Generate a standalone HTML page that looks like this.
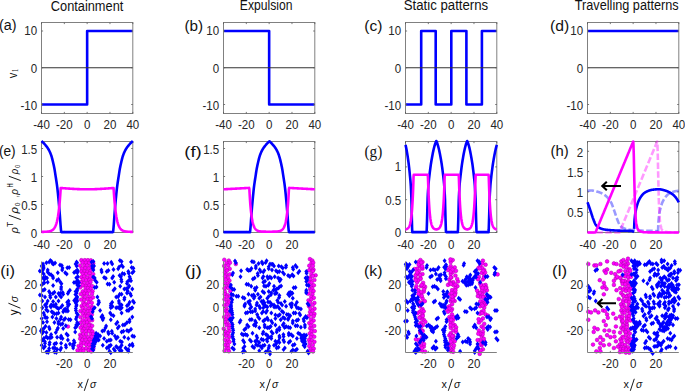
<!DOCTYPE html>
<html><head><meta charset="utf-8"><style>
html,body{margin:0;padding:0;background:#fff;overflow:hidden;}
svg{display:block;}
</style></head><body>
<svg width="685" height="391" viewBox="0 0 685 391" font-family="Liberation Sans, sans-serif">
<rect width="685" height="391" fill="#fff"/>
<path d="M41.5 104.5 L87.15 104.5 L87.15 31 L132.8 31" fill="none" stroke="#0000ff" stroke-width="2.6" stroke-linejoin="round" />
<path d="M41.5 67.75 H132.8" stroke="#333" stroke-width="1.1"/>
<rect x="41.5" y="22.5" width="91.3" height="91" fill="none" stroke="#808080" stroke-width="1"/>
<path d="M41.5 113.5 v-1.6 M41.5 22.5 v1.6 M64.33 113.5 v-1.6 M64.33 22.5 v1.6 M87.15 113.5 v-1.6 M87.15 22.5 v1.6 M109.97 113.5 v-1.6 M109.97 22.5 v1.6 M132.8 113.5 v-1.6 M132.8 22.5 v1.6 M41.5 104.5 h1.6 M132.8 104.5 h-1.6 M41.5 67.75 h1.6 M132.8 67.75 h-1.6 M41.5 31 h1.6 M132.8 31 h-1.6 " stroke="#555" stroke-width="0.8" fill="none"/>
<text transform="translate(41.5 129.3) scale(0.94 1)" font-size="12.3" text-anchor="middle" fill="#262626">-40</text>
<text transform="translate(64.33 129.3) scale(0.94 1)" font-size="12.3" text-anchor="middle" fill="#262626">-20</text>
<text transform="translate(87.15 129.3) scale(0.94 1)" font-size="12.3" text-anchor="middle" fill="#262626">0</text>
<text transform="translate(109.97 129.3) scale(0.94 1)" font-size="12.3" text-anchor="middle" fill="#262626">20</text>
<text transform="translate(132.8 129.3) scale(0.94 1)" font-size="12.3" text-anchor="middle" fill="#262626">40</text>
<text transform="translate(37.2 109.87) scale(0.94 1)" font-size="12.3" text-anchor="end" fill="#262626">-10</text>
<text transform="translate(37.2 72.97) scale(0.94 1)" font-size="12.3" text-anchor="end" fill="#262626">0</text>
<text transform="translate(37.2 34.57) scale(0.94 1)" font-size="12.3" text-anchor="end" fill="#262626">10</text>
<path d="M223.5 31 L269.15 31 L269.15 104.5 L314.8 104.5" fill="none" stroke="#0000ff" stroke-width="2.6" stroke-linejoin="round" />
<path d="M223.5 67.75 H314.8" stroke="#333" stroke-width="1.1"/>
<rect x="223.5" y="22.5" width="91.3" height="91" fill="none" stroke="#808080" stroke-width="1"/>
<path d="M223.5 113.5 v-1.6 M223.5 22.5 v1.6 M246.32 113.5 v-1.6 M246.32 22.5 v1.6 M269.15 113.5 v-1.6 M269.15 22.5 v1.6 M291.98 113.5 v-1.6 M291.98 22.5 v1.6 M314.8 113.5 v-1.6 M314.8 22.5 v1.6 M223.5 104.5 h1.6 M314.8 104.5 h-1.6 M223.5 67.75 h1.6 M314.8 67.75 h-1.6 M223.5 31 h1.6 M314.8 31 h-1.6 " stroke="#555" stroke-width="0.8" fill="none"/>
<text transform="translate(223.5 129.3) scale(0.94 1)" font-size="12.3" text-anchor="middle" fill="#262626">-40</text>
<text transform="translate(246.32 129.3) scale(0.94 1)" font-size="12.3" text-anchor="middle" fill="#262626">-20</text>
<text transform="translate(269.15 129.3) scale(0.94 1)" font-size="12.3" text-anchor="middle" fill="#262626">0</text>
<text transform="translate(291.98 129.3) scale(0.94 1)" font-size="12.3" text-anchor="middle" fill="#262626">20</text>
<text transform="translate(314.8 129.3) scale(0.94 1)" font-size="12.3" text-anchor="middle" fill="#262626">40</text>
<text transform="translate(219.2 109.87) scale(0.94 1)" font-size="12.3" text-anchor="end" fill="#262626">-10</text>
<text transform="translate(219.2 72.97) scale(0.94 1)" font-size="12.3" text-anchor="end" fill="#262626">0</text>
<text transform="translate(219.2 34.57) scale(0.94 1)" font-size="12.3" text-anchor="end" fill="#262626">10</text>
<path d="M405.5 104.5 L421.2 104.5 L421.2 31 L435.7 31 L435.7 104.5 L451.3 104.5 L451.3 31 L466.4 31 L466.4 104.5 L481.9 104.5 L481.9 31 L496.8 31" fill="none" stroke="#0000ff" stroke-width="2.6" stroke-linejoin="round" />
<path d="M405.5 67.75 H496.8" stroke="#333" stroke-width="1.1"/>
<rect x="405.5" y="22.5" width="91.3" height="91" fill="none" stroke="#808080" stroke-width="1"/>
<path d="M405.5 113.5 v-1.6 M405.5 22.5 v1.6 M428.32 113.5 v-1.6 M428.32 22.5 v1.6 M451.15 113.5 v-1.6 M451.15 22.5 v1.6 M473.98 113.5 v-1.6 M473.98 22.5 v1.6 M496.8 113.5 v-1.6 M496.8 22.5 v1.6 M405.5 104.5 h1.6 M496.8 104.5 h-1.6 M405.5 67.75 h1.6 M496.8 67.75 h-1.6 M405.5 31 h1.6 M496.8 31 h-1.6 " stroke="#555" stroke-width="0.8" fill="none"/>
<text transform="translate(405.5 129.3) scale(0.94 1)" font-size="12.3" text-anchor="middle" fill="#262626">-40</text>
<text transform="translate(428.32 129.3) scale(0.94 1)" font-size="12.3" text-anchor="middle" fill="#262626">-20</text>
<text transform="translate(451.15 129.3) scale(0.94 1)" font-size="12.3" text-anchor="middle" fill="#262626">0</text>
<text transform="translate(473.98 129.3) scale(0.94 1)" font-size="12.3" text-anchor="middle" fill="#262626">20</text>
<text transform="translate(496.8 129.3) scale(0.94 1)" font-size="12.3" text-anchor="middle" fill="#262626">40</text>
<text transform="translate(401.2 109.87) scale(0.94 1)" font-size="12.3" text-anchor="end" fill="#262626">-10</text>
<text transform="translate(401.2 72.97) scale(0.94 1)" font-size="12.3" text-anchor="end" fill="#262626">0</text>
<text transform="translate(401.2 34.57) scale(0.94 1)" font-size="12.3" text-anchor="end" fill="#262626">10</text>
<path d="M587.5 31 L678.8 31" fill="none" stroke="#0000ff" stroke-width="2.6" stroke-linejoin="round" />
<path d="M587.5 67.75 H678.8" stroke="#333" stroke-width="1.1"/>
<rect x="587.5" y="22.5" width="91.3" height="91" fill="none" stroke="#808080" stroke-width="1"/>
<path d="M587.5 113.5 v-1.6 M587.5 22.5 v1.6 M610.33 113.5 v-1.6 M610.33 22.5 v1.6 M633.15 113.5 v-1.6 M633.15 22.5 v1.6 M655.98 113.5 v-1.6 M655.98 22.5 v1.6 M678.8 113.5 v-1.6 M678.8 22.5 v1.6 M587.5 104.5 h1.6 M678.8 104.5 h-1.6 M587.5 67.75 h1.6 M678.8 67.75 h-1.6 M587.5 31 h1.6 M678.8 31 h-1.6 " stroke="#555" stroke-width="0.8" fill="none"/>
<text transform="translate(587.5 129.3) scale(0.94 1)" font-size="12.3" text-anchor="middle" fill="#262626">-40</text>
<text transform="translate(610.33 129.3) scale(0.94 1)" font-size="12.3" text-anchor="middle" fill="#262626">-20</text>
<text transform="translate(633.15 129.3) scale(0.94 1)" font-size="12.3" text-anchor="middle" fill="#262626">0</text>
<text transform="translate(655.98 129.3) scale(0.94 1)" font-size="12.3" text-anchor="middle" fill="#262626">20</text>
<text transform="translate(678.8 129.3) scale(0.94 1)" font-size="12.3" text-anchor="middle" fill="#262626">40</text>
<text transform="translate(583.2 109.87) scale(0.94 1)" font-size="12.3" text-anchor="end" fill="#262626">-10</text>
<text transform="translate(583.2 72.97) scale(0.94 1)" font-size="12.3" text-anchor="end" fill="#262626">0</text>
<text transform="translate(583.2 34.57) scale(0.94 1)" font-size="12.3" text-anchor="end" fill="#262626">10</text>
<rect x="41.5" y="141.5" width="91.3" height="91" fill="none" stroke="#808080" stroke-width="1"/>
<path d="M41.5 232.5 v-1.6 M41.5 141.5 v1.6 M64.33 232.5 v-1.6 M64.33 141.5 v1.6 M87.15 232.5 v-1.6 M87.15 141.5 v1.6 M109.97 232.5 v-1.6 M109.97 141.5 v1.6 M132.8 232.5 v-1.6 M132.8 141.5 v1.6 M41.5 232.5 h1.6 M132.8 232.5 h-1.6 M41.5 204.5 h1.6 M132.8 204.5 h-1.6 M41.5 176.5 h1.6 M132.8 176.5 h-1.6 M41.5 148.5 h1.6 M132.8 148.5 h-1.6 " stroke="#555" stroke-width="0.8" fill="none"/>
<text transform="translate(41.5 249) scale(0.94 1)" font-size="12.3" text-anchor="middle" fill="#262626">-40</text>
<text transform="translate(64.33 249) scale(0.94 1)" font-size="12.3" text-anchor="middle" fill="#262626">-20</text>
<text transform="translate(87.15 249) scale(0.94 1)" font-size="12.3" text-anchor="middle" fill="#262626">0</text>
<text transform="translate(109.97 249) scale(0.94 1)" font-size="12.3" text-anchor="middle" fill="#262626">20</text>
<text transform="translate(37.2 237.97) scale(0.94 1)" font-size="12.3" text-anchor="end" fill="#262626">0</text>
<text transform="translate(37.2 209.67) scale(0.94 1)" font-size="12.3" text-anchor="end" fill="#262626">0.5</text>
<text transform="translate(37.2 181.67) scale(0.94 1)" font-size="12.3" text-anchor="end" fill="#262626">1</text>
<text transform="translate(37.2 153.67) scale(0.94 1)" font-size="12.3" text-anchor="end" fill="#262626">1.5</text>
<path d="M41.5 141.1 L41.73 141.29 L41.96 141.48 L42.19 141.68 L42.42 141.89 L42.64 142.1 L42.87 142.32 L43.1 142.54 L43.33 142.77 L43.56 143 L43.79 143.24 L44.02 143.48 L44.25 143.73 L44.47 143.98 L44.7 144.24 L44.93 144.5 L45.16 144.76 L45.39 145.03 L45.62 145.3 L45.85 145.57 L46.08 145.85 L46.31 146.13 L46.53 146.43 L46.76 146.73 L46.99 147.03 L47.22 147.35 L47.45 147.68 L47.68 148.02 L47.91 148.37 L48.14 148.73 L48.36 149.11 L48.59 149.5 L48.82 149.9 L49.05 150.33 L49.28 150.77 L49.51 151.23 L49.74 151.72 L49.97 152.22 L50.2 152.75 L50.42 153.29 L50.65 153.87 L50.88 154.46 L51.11 155.09 L51.34 155.75 L51.57 156.47 L51.8 157.25 L52.03 158.08 L52.25 158.94 L52.48 159.85 L52.71 160.77 L52.94 161.72 L53.17 162.68 L53.4 163.67 L53.63 164.71 L53.86 165.78 L54.09 166.91 L54.31 168.08 L54.54 169.32 L54.77 170.65 L55 172.09 L55.23 173.59 L55.46 175.1 L55.69 176.59 L55.92 178.05 L56.14 179.5 L56.37 180.98 L56.6 182.5 L56.83 184.1 L57.06 185.8 L57.29 187.64 L57.52 189.63 L57.75 191.76 L57.98 193.99 L58.2 196.31 L58.43 198.7 L58.66 201.12 L58.89 203.63 L59.12 206.24 L59.35 208.94 L59.58 211.74 L59.81 214.62 L60.03 217.72 L60.26 221.05 L60.49 224.25 L60.72 227.05 L60.95 229.59 L61.18 231.9 L61.41 232.1 L61.64 232.1 L61.87 232.1 L62.09 232.1 L62.32 232.1 L62.55 232.1 L62.78 232.1 L63.01 232.1 L63.24 232.1 L63.47 232.1 L63.7 232.1 L63.92 232.1 L64.15 232.1 L64.38 232.1 L64.61 232.1 L64.84 232.1 L65.07 232.1 L65.3 232.1 L65.53 232.1 L65.76 232.1 L65.98 232.1 L66.21 232.1 L66.44 232.1 L66.67 232.1 L66.9 232.1 L67.13 232.1 L67.36 232.1 L67.59 232.1 L67.81 232.1 L68.04 232.1 L68.27 232.1 L68.5 232.1 L68.73 232.1 L68.96 232.1 L69.19 232.1 L69.42 232.1 L69.65 232.1 L69.87 232.1 L70.1 232.1 L70.33 232.1 L70.56 232.1 L70.79 232.1 L71.02 232.1 L71.25 232.1 L71.48 232.1 L71.7 232.1 L71.93 232.1 L72.16 232.1 L72.39 232.1 L72.62 232.1 L72.85 232.1 L73.08 232.1 L73.31 232.1 L73.54 232.1 L73.76 232.1 L73.99 232.1 L74.22 232.1 L74.45 232.1 L74.68 232.1 L74.91 232.1 L75.14 232.1 L75.37 232.1 L75.59 232.1 L75.82 232.1 L76.05 232.1 L76.28 232.1 L76.51 232.1 L76.74 232.1 L76.97 232.1 L77.2 232.1 L77.43 232.1 L77.65 232.1 L77.88 232.1 L78.11 232.1 L78.34 232.1 L78.57 232.1 L78.8 232.1 L79.03 232.1 L79.26 232.1 L79.48 232.1 L79.71 232.1 L79.94 232.1 L80.17 232.1 L80.4 232.1 L80.63 232.1 L80.86 232.1 L81.09 232.1 L81.32 232.1 L81.54 232.1 L81.77 232.1 L82 232.1 L82.23 232.1 L82.46 232.1 L82.69 232.1 L82.92 232.1 L83.15 232.1 L83.37 232.1 L83.6 232.1 L83.83 232.1 L84.06 232.1 L84.29 232.1 L84.52 232.1 L84.75 232.1 L84.98 232.1 L85.21 232.1 L85.43 232.1 L85.66 232.1 L85.89 232.1 L86.12 232.1 L86.35 232.1 L86.58 232.1 L86.81 232.1 L87.04 232.1 L87.26 232.1 L87.49 232.1 L87.72 232.1 L87.95 232.1 L88.18 232.1 L88.41 232.1 L88.64 232.1 L88.87 232.1 L89.09 232.1 L89.32 232.1 L89.55 232.1 L89.78 232.1 L90.01 232.1 L90.24 232.1 L90.47 232.1 L90.7 232.1 L90.93 232.1 L91.15 232.1 L91.38 232.1 L91.61 232.1 L91.84 232.1 L92.07 232.1 L92.3 232.1 L92.53 232.1 L92.76 232.1 L92.98 232.1 L93.21 232.1 L93.44 232.1 L93.67 232.1 L93.9 232.1 L94.13 232.1 L94.36 232.1 L94.59 232.1 L94.82 232.1 L95.04 232.1 L95.27 232.1 L95.5 232.1 L95.73 232.1 L95.96 232.1 L96.19 232.1 L96.42 232.1 L96.65 232.1 L96.87 232.1 L97.1 232.1 L97.33 232.1 L97.56 232.1 L97.79 232.1 L98.02 232.1 L98.25 232.1 L98.48 232.1 L98.71 232.1 L98.93 232.1 L99.16 232.1 L99.39 232.1 L99.62 232.1 L99.85 232.1 L100.08 232.1 L100.31 232.1 L100.54 232.1 L100.76 232.1 L100.99 232.1 L101.22 232.1 L101.45 232.1 L101.68 232.1 L101.91 232.1 L102.14 232.1 L102.37 232.1 L102.6 232.1 L102.82 232.1 L103.05 232.1 L103.28 232.1 L103.51 232.1 L103.74 232.1 L103.97 232.1 L104.2 232.1 L104.43 232.1 L104.65 232.1 L104.88 232.1 L105.11 232.1 L105.34 232.1 L105.57 232.1 L105.8 232.1 L106.03 232.1 L106.26 232.1 L106.49 232.1 L106.71 232.1 L106.94 232.1 L107.17 232.1 L107.4 232.1 L107.63 232.1 L107.86 232.1 L108.09 232.1 L108.32 232.1 L108.54 232.1 L108.77 232.1 L109 232.1 L109.23 232.1 L109.46 232.1 L109.69 232.1 L109.92 232.1 L110.15 232.1 L110.38 232.1 L110.6 232.1 L110.83 232.1 L111.06 232.1 L111.29 232.1 L111.52 232.1 L111.75 232.1 L111.98 232.1 L112.21 232.1 L112.43 232.1 L112.66 232.1 L112.89 232.1 L113.12 231.9 L113.35 229.59 L113.58 227.05 L113.81 224.25 L114.04 221.05 L114.27 217.72 L114.49 214.62 L114.72 211.74 L114.95 208.94 L115.18 206.24 L115.41 203.63 L115.64 201.12 L115.87 198.7 L116.1 196.31 L116.32 193.99 L116.55 191.76 L116.78 189.63 L117.01 187.64 L117.24 185.8 L117.47 184.1 L117.7 182.5 L117.93 180.98 L118.16 179.5 L118.38 178.05 L118.61 176.59 L118.84 175.1 L119.07 173.59 L119.3 172.09 L119.53 170.65 L119.76 169.32 L119.99 168.08 L120.21 166.91 L120.44 165.78 L120.67 164.71 L120.9 163.67 L121.13 162.68 L121.36 161.72 L121.59 160.77 L121.82 159.85 L122.05 158.94 L122.27 158.08 L122.5 157.25 L122.73 156.47 L122.96 155.75 L123.19 155.09 L123.42 154.46 L123.65 153.87 L123.88 153.29 L124.1 152.75 L124.33 152.22 L124.56 151.72 L124.79 151.23 L125.02 150.77 L125.25 150.33 L125.48 149.9 L125.71 149.5 L125.94 149.11 L126.16 148.73 L126.39 148.37 L126.62 148.02 L126.85 147.68 L127.08 147.35 L127.31 147.03 L127.54 146.73 L127.77 146.43 L127.99 146.13 L128.22 145.85 L128.45 145.57 L128.68 145.3 L128.91 145.03 L129.14 144.76 L129.37 144.5 L129.6 144.24 L129.83 143.98 L130.05 143.73 L130.28 143.48 L130.51 143.24 L130.74 143 L130.97 142.77 L131.2 142.54 L131.43 142.32 L131.66 142.1 L131.88 141.89 L132.11 141.68 L132.34 141.48 L132.57 141.29 L132.8 141.1" fill="none" stroke="#0000ff" stroke-width="2.6" stroke-linejoin="round" />
<path d="M41.5 231.87 L41.73 231.87 L41.96 231.87 L42.19 231.86 L42.42 231.86 L42.64 231.86 L42.87 231.85 L43.1 231.85 L43.33 231.84 L43.56 231.84 L43.79 231.83 L44.02 231.83 L44.25 231.82 L44.47 231.81 L44.7 231.81 L44.93 231.8 L45.16 231.79 L45.39 231.78 L45.62 231.77 L45.85 231.75 L46.08 231.74 L46.31 231.73 L46.53 231.71 L46.76 231.69 L46.99 231.67 L47.22 231.65 L47.45 231.63 L47.68 231.61 L47.91 231.58 L48.14 231.55 L48.36 231.52 L48.59 231.48 L48.82 231.44 L49.05 231.4 L49.28 231.36 L49.51 231.31 L49.74 231.25 L49.97 231.19 L50.2 231.13 L50.42 231.06 L50.65 230.98 L50.88 230.89 L51.11 230.8 L51.34 230.7 L51.57 230.59 L51.8 230.47 L52.03 230.34 L52.25 230.19 L52.48 230.04 L52.71 229.87 L52.94 229.68 L53.17 229.48 L53.4 229.25 L53.63 229.01 L53.86 228.74 L54.09 228.45 L54.31 228.13 L54.54 227.79 L54.77 227.41 L55 227 L55.23 226.55 L55.46 226.05 L55.69 225.52 L55.92 224.93 L56.14 224.29 L56.37 223.59 L56.6 222.82 L56.83 221.99 L57.06 221.07 L57.29 220.08 L57.52 218.99 L57.75 217.8 L57.98 216.51 L58.2 215.09 L58.43 213.54 L58.66 211.86 L58.89 210.01 L59.12 208 L59.35 205.8 L59.58 203.4 L59.81 200.78 L60.03 197.91 L60.26 194.79 L60.49 191.37 L60.72 188 L60.95 188.02 L61.18 188.04 L61.41 188.05 L61.64 188.07 L61.87 188.09 L62.09 188.11 L62.32 188.13 L62.55 188.14 L62.78 188.16 L63.01 188.18 L63.24 188.2 L63.47 188.21 L63.7 188.23 L63.92 188.25 L64.15 188.26 L64.38 188.28 L64.61 188.3 L64.84 188.32 L65.07 188.33 L65.3 188.35 L65.53 188.37 L65.76 188.38 L65.98 188.4 L66.21 188.42 L66.44 188.43 L66.67 188.45 L66.9 188.47 L67.13 188.48 L67.36 188.5 L67.59 188.52 L67.81 188.53 L68.04 188.55 L68.27 188.57 L68.5 188.58 L68.73 188.6 L68.96 188.61 L69.19 188.63 L69.42 188.64 L69.65 188.66 L69.87 188.67 L70.1 188.69 L70.33 188.7 L70.56 188.72 L70.79 188.73 L71.02 188.75 L71.25 188.76 L71.48 188.78 L71.7 188.79 L71.93 188.8 L72.16 188.82 L72.39 188.83 L72.62 188.85 L72.85 188.86 L73.08 188.87 L73.31 188.88 L73.54 188.9 L73.76 188.91 L73.99 188.92 L74.22 188.94 L74.45 188.95 L74.68 188.96 L74.91 188.97 L75.14 188.98 L75.37 188.99 L75.59 189.01 L75.82 189.02 L76.05 189.03 L76.28 189.04 L76.51 189.05 L76.74 189.06 L76.97 189.07 L77.2 189.08 L77.43 189.09 L77.65 189.1 L77.88 189.11 L78.11 189.12 L78.34 189.13 L78.57 189.13 L78.8 189.14 L79.03 189.15 L79.26 189.16 L79.48 189.17 L79.71 189.18 L79.94 189.18 L80.17 189.19 L80.4 189.2 L80.63 189.2 L80.86 189.21 L81.09 189.22 L81.32 189.22 L81.54 189.23 L81.77 189.23 L82 189.24 L82.23 189.24 L82.46 189.25 L82.69 189.25 L82.92 189.26 L83.15 189.26 L83.37 189.27 L83.6 189.27 L83.83 189.27 L84.06 189.28 L84.29 189.28 L84.52 189.28 L84.75 189.29 L84.98 189.29 L85.21 189.29 L85.43 189.29 L85.66 189.29 L85.89 189.3 L86.12 189.3 L86.35 189.3 L86.58 189.3 L86.81 189.3 L87.04 189.3 L87.26 189.3 L87.49 189.3 L87.72 189.3 L87.95 189.3 L88.18 189.3 L88.41 189.3 L88.64 189.29 L88.87 189.29 L89.09 189.29 L89.32 189.29 L89.55 189.29 L89.78 189.28 L90.01 189.28 L90.24 189.28 L90.47 189.27 L90.7 189.27 L90.93 189.27 L91.15 189.26 L91.38 189.26 L91.61 189.25 L91.84 189.25 L92.07 189.24 L92.3 189.24 L92.53 189.23 L92.76 189.23 L92.98 189.22 L93.21 189.22 L93.44 189.21 L93.67 189.2 L93.9 189.2 L94.13 189.19 L94.36 189.18 L94.59 189.18 L94.82 189.17 L95.04 189.16 L95.27 189.15 L95.5 189.14 L95.73 189.13 L95.96 189.13 L96.19 189.12 L96.42 189.11 L96.65 189.1 L96.87 189.09 L97.1 189.08 L97.33 189.07 L97.56 189.06 L97.79 189.05 L98.02 189.04 L98.25 189.03 L98.48 189.02 L98.71 189.01 L98.93 188.99 L99.16 188.98 L99.39 188.97 L99.62 188.96 L99.85 188.95 L100.08 188.94 L100.31 188.92 L100.54 188.91 L100.76 188.9 L100.99 188.88 L101.22 188.87 L101.45 188.86 L101.68 188.85 L101.91 188.83 L102.14 188.82 L102.37 188.8 L102.6 188.79 L102.82 188.78 L103.05 188.76 L103.28 188.75 L103.51 188.73 L103.74 188.72 L103.97 188.7 L104.2 188.69 L104.43 188.67 L104.65 188.66 L104.88 188.64 L105.11 188.63 L105.34 188.61 L105.57 188.6 L105.8 188.58 L106.03 188.57 L106.26 188.55 L106.49 188.53 L106.71 188.52 L106.94 188.5 L107.17 188.48 L107.4 188.47 L107.63 188.45 L107.86 188.43 L108.09 188.42 L108.32 188.4 L108.54 188.38 L108.77 188.37 L109 188.35 L109.23 188.33 L109.46 188.32 L109.69 188.3 L109.92 188.28 L110.15 188.26 L110.38 188.25 L110.6 188.23 L110.83 188.21 L111.06 188.2 L111.29 188.18 L111.52 188.16 L111.75 188.14 L111.98 188.13 L112.21 188.11 L112.43 188.09 L112.66 188.07 L112.89 188.05 L113.12 188.04 L113.35 188.02 L113.58 188 L113.81 191.37 L114.04 194.79 L114.27 197.91 L114.49 200.78 L114.72 203.4 L114.95 205.8 L115.18 208 L115.41 210.01 L115.64 211.86 L115.87 213.54 L116.1 215.09 L116.32 216.51 L116.55 217.8 L116.78 218.99 L117.01 220.08 L117.24 221.07 L117.47 221.99 L117.7 222.82 L117.93 223.59 L118.16 224.29 L118.38 224.93 L118.61 225.52 L118.84 226.05 L119.07 226.55 L119.3 227 L119.53 227.41 L119.76 227.79 L119.99 228.13 L120.21 228.45 L120.44 228.74 L120.67 229.01 L120.9 229.25 L121.13 229.48 L121.36 229.68 L121.59 229.87 L121.82 230.04 L122.05 230.19 L122.27 230.34 L122.5 230.47 L122.73 230.59 L122.96 230.7 L123.19 230.8 L123.42 230.89 L123.65 230.98 L123.88 231.06 L124.1 231.13 L124.33 231.19 L124.56 231.25 L124.79 231.31 L125.02 231.36 L125.25 231.4 L125.48 231.44 L125.71 231.48 L125.94 231.52 L126.16 231.55 L126.39 231.58 L126.62 231.61 L126.85 231.63 L127.08 231.65 L127.31 231.67 L127.54 231.69 L127.77 231.71 L127.99 231.73 L128.22 231.74 L128.45 231.75 L128.68 231.77 L128.91 231.78 L129.14 231.79 L129.37 231.8 L129.6 231.81 L129.83 231.81 L130.05 231.82 L130.28 231.83 L130.51 231.83 L130.74 231.84 L130.97 231.84 L131.2 231.85 L131.43 231.85 L131.66 231.86 L131.88 231.86 L132.11 231.86 L132.34 231.87 L132.57 231.87 L132.8 231.87" fill="none" stroke="#ff00ff" stroke-width="2.6" stroke-linejoin="round" />
<rect x="223.5" y="141.5" width="91.3" height="91" fill="none" stroke="#808080" stroke-width="1"/>
<path d="M223.5 232.5 v-1.6 M223.5 141.5 v1.6 M246.32 232.5 v-1.6 M246.32 141.5 v1.6 M269.15 232.5 v-1.6 M269.15 141.5 v1.6 M291.98 232.5 v-1.6 M291.98 141.5 v1.6 M314.8 232.5 v-1.6 M314.8 141.5 v1.6 M223.5 232.5 h1.6 M314.8 232.5 h-1.6 M223.5 204.5 h1.6 M314.8 204.5 h-1.6 M223.5 176.5 h1.6 M314.8 176.5 h-1.6 M223.5 148.5 h1.6 M314.8 148.5 h-1.6 " stroke="#555" stroke-width="0.8" fill="none"/>
<text transform="translate(223.5 249) scale(0.94 1)" font-size="12.3" text-anchor="middle" fill="#262626">-40</text>
<text transform="translate(246.32 249) scale(0.94 1)" font-size="12.3" text-anchor="middle" fill="#262626">-20</text>
<text transform="translate(269.15 249) scale(0.94 1)" font-size="12.3" text-anchor="middle" fill="#262626">0</text>
<text transform="translate(291.98 249) scale(0.94 1)" font-size="12.3" text-anchor="middle" fill="#262626">20</text>
<text transform="translate(219.2 237.97) scale(0.94 1)" font-size="12.3" text-anchor="end" fill="#262626">0</text>
<text transform="translate(219.2 209.67) scale(0.94 1)" font-size="12.3" text-anchor="end" fill="#262626">0.5</text>
<text transform="translate(219.2 181.67) scale(0.94 1)" font-size="12.3" text-anchor="end" fill="#262626">1</text>
<text transform="translate(219.2 153.67) scale(0.94 1)" font-size="12.3" text-anchor="end" fill="#262626">1.5</text>
<path d="M223.5 232.1 L223.73 232.1 L223.96 232.1 L224.19 232.1 L224.42 232.1 L224.64 232.1 L224.87 232.1 L225.1 232.1 L225.33 232.1 L225.56 232.1 L225.79 232.1 L226.02 232.1 L226.25 232.1 L226.47 232.1 L226.7 232.1 L226.93 232.1 L227.16 232.1 L227.39 232.1 L227.62 232.1 L227.85 232.1 L228.08 232.1 L228.31 232.1 L228.53 232.1 L228.76 232.1 L228.99 232.1 L229.22 232.1 L229.45 232.1 L229.68 232.1 L229.91 232.1 L230.14 232.1 L230.36 232.1 L230.59 232.1 L230.82 232.1 L231.05 232.1 L231.28 232.1 L231.51 232.1 L231.74 232.1 L231.97 232.1 L232.2 232.1 L232.42 232.1 L232.65 232.1 L232.88 232.1 L233.11 232.1 L233.34 232.1 L233.57 232.1 L233.8 232.1 L234.03 232.1 L234.25 232.1 L234.48 232.1 L234.71 232.1 L234.94 232.1 L235.17 232.1 L235.4 232.1 L235.63 232.1 L235.86 232.1 L236.09 232.1 L236.31 232.1 L236.54 232.1 L236.77 232.1 L237 232.1 L237.23 232.1 L237.46 232.1 L237.69 232.1 L237.92 232.1 L238.14 232.1 L238.37 232.1 L238.6 232.1 L238.83 232.1 L239.06 232.1 L239.29 232.1 L239.52 232.1 L239.75 232.1 L239.98 232.1 L240.2 232.1 L240.43 232.1 L240.66 232.1 L240.89 232.1 L241.12 232.1 L241.35 232.1 L241.58 232.1 L241.81 232.1 L242.03 232.1 L242.26 232.1 L242.49 232.1 L242.72 232.1 L242.95 232.1 L243.18 232.1 L243.41 232.1 L243.64 232.1 L243.87 232.1 L244.09 232.1 L244.32 232.1 L244.55 232.1 L244.78 232.1 L245.01 232.1 L245.24 232.1 L245.47 232.1 L245.7 232.1 L245.92 232.1 L246.15 232.1 L246.38 232.1 L246.61 232.1 L246.84 232.1 L247.07 232.1 L247.3 232.1 L247.53 232.1 L247.76 232.1 L247.98 232.1 L248.21 232.1 L248.44 232.1 L248.67 232.1 L248.9 232.1 L249.13 232.1 L249.36 232.1 L249.59 232.1 L249.81 232.1 L250.04 232.1 L250.27 229.85 L250.5 227.31 L250.73 224.5 L250.96 221.27 L251.19 217.9 L251.42 214.74 L251.65 211.82 L251.87 208.99 L252.1 206.26 L252.33 203.61 L252.56 201.07 L252.79 198.62 L253.02 196.21 L253.25 193.86 L253.48 191.61 L253.7 189.47 L253.93 187.47 L254.16 185.63 L254.39 183.93 L254.62 182.32 L254.85 180.79 L255.08 179.3 L255.31 177.83 L255.54 176.35 L255.76 174.83 L255.99 173.29 L256.22 171.79 L256.45 170.36 L256.68 169.05 L256.91 167.82 L257.14 166.64 L257.37 165.52 L257.59 164.45 L257.82 163.42 L258.05 162.43 L258.28 161.46 L258.51 160.51 L258.74 159.58 L258.97 158.68 L259.2 157.83 L259.43 157.01 L259.65 156.25 L259.88 155.55 L260.11 154.91 L260.34 154.29 L260.57 153.7 L260.8 153.13 L261.03 152.59 L261.26 152.07 L261.48 151.58 L261.71 151.1 L261.94 150.65 L262.17 150.21 L262.4 149.79 L262.63 149.39 L262.86 149.01 L263.09 148.64 L263.32 148.28 L263.54 147.93 L263.77 147.6 L264 147.28 L264.23 146.96 L264.46 146.66 L264.69 146.36 L264.92 146.07 L265.15 145.79 L265.37 145.51 L265.6 145.24 L265.83 144.97 L266.06 144.7 L266.29 144.44 L266.52 144.18 L266.75 143.92 L266.98 143.67 L267.21 143.43 L267.43 143.19 L267.66 142.95 L267.89 142.72 L268.12 142.49 L268.35 142.27 L268.58 142.06 L268.81 141.85 L269.04 141.65 L269.26 141.45 L269.49 141.34 L269.72 141.53 L269.95 141.73 L270.18 141.93 L270.41 142.14 L270.64 142.36 L270.87 142.58 L271.09 142.81 L271.32 143.04 L271.55 143.28 L271.78 143.52 L272.01 143.77 L272.24 144.02 L272.47 144.27 L272.7 144.54 L272.93 144.8 L273.15 145.07 L273.38 145.34 L273.61 145.61 L273.84 145.89 L274.07 146.18 L274.3 146.47 L274.53 146.77 L274.76 147.08 L274.98 147.4 L275.21 147.73 L275.44 148.06 L275.67 148.41 L275.9 148.78 L276.13 149.15 L276.36 149.54 L276.59 149.95 L276.82 150.37 L277.04 150.82 L277.27 151.28 L277.5 151.76 L277.73 152.27 L277.96 152.79 L278.19 153.34 L278.42 153.92 L278.65 154.52 L278.87 155.15 L279.1 155.81 L279.33 156.53 L279.56 157.31 L279.79 158.15 L280.02 159.02 L280.25 159.93 L280.48 160.87 L280.71 161.83 L280.93 162.8 L281.16 163.8 L281.39 164.85 L281.62 165.94 L281.85 167.08 L282.08 168.28 L282.31 169.53 L282.54 170.89 L282.76 172.35 L282.99 173.87 L283.22 175.41 L283.45 176.91 L283.68 178.39 L283.91 179.86 L284.14 181.36 L284.37 182.92 L284.6 184.56 L284.82 186.31 L285.05 188.21 L285.28 190.26 L285.51 192.45 L285.74 194.74 L285.97 197.11 L286.2 199.54 L286.43 202.02 L286.65 204.6 L286.88 207.28 L287.11 210.05 L287.34 212.91 L287.57 215.89 L287.8 219.17 L288.03 222.53 L288.26 225.6 L288.49 228.3 L288.71 230.76 L288.94 232.1 L289.17 232.1 L289.4 232.1 L289.63 232.1 L289.86 232.1 L290.09 232.1 L290.32 232.1 L290.54 232.1 L290.77 232.1 L291 232.1 L291.23 232.1 L291.46 232.1 L291.69 232.1 L291.92 232.1 L292.15 232.1 L292.38 232.1 L292.6 232.1 L292.83 232.1 L293.06 232.1 L293.29 232.1 L293.52 232.1 L293.75 232.1 L293.98 232.1 L294.21 232.1 L294.43 232.1 L294.66 232.1 L294.89 232.1 L295.12 232.1 L295.35 232.1 L295.58 232.1 L295.81 232.1 L296.04 232.1 L296.27 232.1 L296.49 232.1 L296.72 232.1 L296.95 232.1 L297.18 232.1 L297.41 232.1 L297.64 232.1 L297.87 232.1 L298.1 232.1 L298.32 232.1 L298.55 232.1 L298.78 232.1 L299.01 232.1 L299.24 232.1 L299.47 232.1 L299.7 232.1 L299.93 232.1 L300.16 232.1 L300.38 232.1 L300.61 232.1 L300.84 232.1 L301.07 232.1 L301.3 232.1 L301.53 232.1 L301.76 232.1 L301.99 232.1 L302.21 232.1 L302.44 232.1 L302.67 232.1 L302.9 232.1 L303.13 232.1 L303.36 232.1 L303.59 232.1 L303.82 232.1 L304.05 232.1 L304.27 232.1 L304.5 232.1 L304.73 232.1 L304.96 232.1 L305.19 232.1 L305.42 232.1 L305.65 232.1 L305.88 232.1 L306.1 232.1 L306.33 232.1 L306.56 232.1 L306.79 232.1 L307.02 232.1 L307.25 232.1 L307.48 232.1 L307.71 232.1 L307.94 232.1 L308.16 232.1 L308.39 232.1 L308.62 232.1 L308.85 232.1 L309.08 232.1 L309.31 232.1 L309.54 232.1 L309.77 232.1 L309.99 232.1 L310.22 232.1 L310.45 232.1 L310.68 232.1 L310.91 232.1 L311.14 232.1 L311.37 232.1 L311.6 232.1 L311.83 232.1 L312.05 232.1 L312.28 232.1 L312.51 232.1 L312.74 232.1 L312.97 232.1 L313.2 232.1 L313.43 232.1 L313.66 232.1 L313.88 232.1 L314.11 232.1 L314.34 232.1 L314.57 232.1 L314.8 232.1" fill="none" stroke="#0000ff" stroke-width="2.6" stroke-linejoin="round" />
<path d="M223.5 189.3 L223.73 189.29 L223.96 189.28 L224.19 189.26 L224.42 189.25 L224.64 189.24 L224.87 189.23 L225.1 189.21 L225.33 189.2 L225.56 189.19 L225.79 189.18 L226.02 189.16 L226.25 189.15 L226.47 189.14 L226.7 189.13 L226.93 189.11 L227.16 189.1 L227.39 189.09 L227.62 189.08 L227.85 189.06 L228.08 189.05 L228.31 189.04 L228.53 189.03 L228.76 189.01 L228.99 189 L229.22 188.99 L229.45 188.98 L229.68 188.96 L229.91 188.95 L230.14 188.94 L230.36 188.93 L230.59 188.91 L230.82 188.9 L231.05 188.89 L231.28 188.88 L231.51 188.86 L231.74 188.85 L231.97 188.84 L232.2 188.83 L232.42 188.81 L232.65 188.8 L232.88 188.79 L233.11 188.78 L233.34 188.77 L233.57 188.75 L233.8 188.74 L234.03 188.73 L234.25 188.72 L234.48 188.7 L234.71 188.69 L234.94 188.68 L235.17 188.67 L235.4 188.65 L235.63 188.64 L235.86 188.63 L236.09 188.62 L236.31 188.6 L236.54 188.59 L236.77 188.58 L237 188.57 L237.23 188.55 L237.46 188.54 L237.69 188.53 L237.92 188.52 L238.14 188.5 L238.37 188.49 L238.6 188.48 L238.83 188.47 L239.06 188.45 L239.29 188.44 L239.52 188.43 L239.75 188.42 L239.98 188.4 L240.2 188.39 L240.43 188.38 L240.66 188.37 L240.89 188.35 L241.12 188.34 L241.35 188.33 L241.58 188.32 L241.81 188.3 L242.03 188.29 L242.26 188.28 L242.49 188.27 L242.72 188.25 L242.95 188.24 L243.18 188.23 L243.41 188.22 L243.64 188.21 L243.87 188.19 L244.09 188.18 L244.32 188.17 L244.55 188.16 L244.78 188.14 L245.01 188.13 L245.24 188.12 L245.47 188.11 L245.7 188.09 L245.92 188.08 L246.15 188.07 L246.38 188.06 L246.61 188.04 L246.84 188.03 L247.07 188.02 L247.3 188.01 L247.53 187.99 L247.76 187.98 L247.98 187.97 L248.21 187.96 L248.44 187.94 L248.67 187.93 L248.9 187.92 L249.13 187.91 L249.36 189.02 L249.59 193.24 L249.81 197.04 L250.04 200.46 L250.27 203.55 L250.5 206.33 L250.73 208.84 L250.96 211.09 L251.19 213.13 L251.42 214.96 L251.65 216.62 L251.87 218.11 L252.1 219.45 L252.33 220.66 L252.56 221.75 L252.79 222.73 L253.02 223.62 L253.25 224.42 L253.48 225.14 L253.7 225.79 L253.93 226.37 L254.16 226.9 L254.39 227.37 L254.62 227.8 L254.85 228.18 L255.08 228.53 L255.31 228.84 L255.54 229.13 L255.76 229.38 L255.99 229.61 L256.22 229.82 L256.45 230 L256.68 230.17 L256.91 230.32 L257.14 230.46 L257.37 230.58 L257.59 230.69 L257.82 230.79 L258.05 230.88 L258.28 230.96 L258.51 231.03 L258.74 231.1 L258.97 231.16 L259.2 231.21 L259.43 231.26 L259.65 231.3 L259.88 231.34 L260.11 231.38 L260.34 231.41 L260.57 231.44 L260.8 231.46 L261.03 231.49 L261.26 231.51 L261.48 231.53 L261.71 231.54 L261.94 231.56 L262.17 231.57 L262.4 231.59 L262.63 231.6 L262.86 231.61 L263.09 231.62 L263.32 231.62 L263.54 231.63 L263.77 231.64 L264 231.64 L264.23 231.65 L264.46 231.65 L264.69 231.66 L264.92 231.66 L265.15 231.67 L265.37 231.67 L265.6 231.67 L265.83 231.67 L266.06 231.68 L266.29 231.68 L266.52 231.68 L266.75 231.68 L266.98 231.68 L267.21 231.69 L267.43 231.69 L267.66 231.69 L267.89 231.69 L268.12 231.69 L268.35 231.69 L268.58 231.69 L268.81 231.69 L269.04 231.69 L269.26 231.69 L269.49 231.69 L269.72 231.69 L269.95 231.69 L270.18 231.69 L270.41 231.69 L270.64 231.69 L270.87 231.69 L271.09 231.69 L271.32 231.68 L271.55 231.68 L271.78 231.68 L272.01 231.68 L272.24 231.68 L272.47 231.67 L272.7 231.67 L272.93 231.67 L273.15 231.67 L273.38 231.66 L273.61 231.66 L273.84 231.65 L274.07 231.65 L274.3 231.64 L274.53 231.64 L274.76 231.63 L274.98 231.62 L275.21 231.62 L275.44 231.61 L275.67 231.6 L275.9 231.59 L276.13 231.57 L276.36 231.56 L276.59 231.54 L276.82 231.53 L277.04 231.51 L277.27 231.49 L277.5 231.46 L277.73 231.44 L277.96 231.41 L278.19 231.38 L278.42 231.34 L278.65 231.3 L278.87 231.26 L279.1 231.21 L279.33 231.16 L279.56 231.1 L279.79 231.03 L280.02 230.96 L280.25 230.88 L280.48 230.79 L280.71 230.69 L280.93 230.58 L281.16 230.46 L281.39 230.32 L281.62 230.17 L281.85 230 L282.08 229.82 L282.31 229.61 L282.54 229.38 L282.76 229.13 L282.99 228.84 L283.22 228.53 L283.45 228.18 L283.68 227.8 L283.91 227.37 L284.14 226.9 L284.37 226.37 L284.6 225.79 L284.82 225.14 L285.05 224.42 L285.28 223.62 L285.51 222.73 L285.74 221.75 L285.97 220.66 L286.2 219.45 L286.43 218.11 L286.65 216.62 L286.88 214.96 L287.11 213.13 L287.34 211.09 L287.57 208.84 L287.8 206.33 L288.03 203.55 L288.26 200.46 L288.49 197.04 L288.71 193.24 L288.94 189.02 L289.17 187.91 L289.4 187.92 L289.63 187.93 L289.86 187.94 L290.09 187.96 L290.32 187.97 L290.54 187.98 L290.77 187.99 L291 188.01 L291.23 188.02 L291.46 188.03 L291.69 188.04 L291.92 188.06 L292.15 188.07 L292.38 188.08 L292.6 188.09 L292.83 188.11 L293.06 188.12 L293.29 188.13 L293.52 188.14 L293.75 188.16 L293.98 188.17 L294.21 188.18 L294.43 188.19 L294.66 188.21 L294.89 188.22 L295.12 188.23 L295.35 188.24 L295.58 188.25 L295.81 188.27 L296.04 188.28 L296.27 188.29 L296.49 188.3 L296.72 188.32 L296.95 188.33 L297.18 188.34 L297.41 188.35 L297.64 188.37 L297.87 188.38 L298.1 188.39 L298.32 188.4 L298.55 188.42 L298.78 188.43 L299.01 188.44 L299.24 188.45 L299.47 188.47 L299.7 188.48 L299.93 188.49 L300.16 188.5 L300.38 188.52 L300.61 188.53 L300.84 188.54 L301.07 188.55 L301.3 188.57 L301.53 188.58 L301.76 188.59 L301.99 188.6 L302.21 188.62 L302.44 188.63 L302.67 188.64 L302.9 188.65 L303.13 188.67 L303.36 188.68 L303.59 188.69 L303.82 188.7 L304.05 188.72 L304.27 188.73 L304.5 188.74 L304.73 188.75 L304.96 188.77 L305.19 188.78 L305.42 188.79 L305.65 188.8 L305.88 188.81 L306.1 188.83 L306.33 188.84 L306.56 188.85 L306.79 188.86 L307.02 188.88 L307.25 188.89 L307.48 188.9 L307.71 188.91 L307.94 188.93 L308.16 188.94 L308.39 188.95 L308.62 188.96 L308.85 188.98 L309.08 188.99 L309.31 189 L309.54 189.01 L309.77 189.03 L309.99 189.04 L310.22 189.05 L310.45 189.06 L310.68 189.08 L310.91 189.09 L311.14 189.1 L311.37 189.11 L311.6 189.13 L311.83 189.14 L312.05 189.15 L312.28 189.16 L312.51 189.18 L312.74 189.19 L312.97 189.2 L313.2 189.21 L313.43 189.23 L313.66 189.24 L313.88 189.25 L314.11 189.26 L314.34 189.28 L314.57 189.29 L314.8 189.3" fill="none" stroke="#ff00ff" stroke-width="2.6" stroke-linejoin="round" />
<rect x="405.5" y="141.5" width="91.3" height="91" fill="none" stroke="#808080" stroke-width="1"/>
<path d="M405.5 232.5 v-1.6 M405.5 141.5 v1.6 M428.32 232.5 v-1.6 M428.32 141.5 v1.6 M451.15 232.5 v-1.6 M451.15 141.5 v1.6 M473.98 232.5 v-1.6 M473.98 141.5 v1.6 M496.8 232.5 v-1.6 M496.8 141.5 v1.6 M405.5 232.5 h1.6 M496.8 232.5 h-1.6 M405.5 199.7 h1.6 M496.8 199.7 h-1.6 M405.5 166.9 h1.6 M496.8 166.9 h-1.6 " stroke="#555" stroke-width="0.8" fill="none"/>
<text transform="translate(405.5 249) scale(0.94 1)" font-size="12.3" text-anchor="middle" fill="#262626">-40</text>
<text transform="translate(428.32 249) scale(0.94 1)" font-size="12.3" text-anchor="middle" fill="#262626">-20</text>
<text transform="translate(451.15 249) scale(0.94 1)" font-size="12.3" text-anchor="middle" fill="#262626">0</text>
<text transform="translate(473.98 249) scale(0.94 1)" font-size="12.3" text-anchor="middle" fill="#262626">20</text>
<text transform="translate(401.2 237.47) scale(0.94 1)" font-size="12.3" text-anchor="end" fill="#262626">0</text>
<text transform="translate(401.2 204.67) scale(0.94 1)" font-size="12.3" text-anchor="end" fill="#262626">0.5</text>
<text transform="translate(401.2 171.37) scale(0.94 1)" font-size="12.3" text-anchor="end" fill="#262626">1</text>
<path d="M405.5 144.88 L405.68 145.61 L405.87 146.39 L406.05 147.24 L406.23 148.13 L406.41 149.08 L406.6 150.06 L406.78 151.06 L406.96 152.11 L407.15 153.21 L407.33 154.35 L407.51 155.53 L407.7 156.73 L407.88 157.96 L408.06 159.22 L408.24 160.51 L408.43 161.85 L408.61 163.25 L408.79 164.73 L408.98 166.31 L409.16 167.98 L409.34 169.71 L409.53 171.45 L409.71 173.22 L409.89 175.04 L410.07 176.95 L410.26 178.9 L410.44 180.9 L410.62 183.16 L410.81 185.98 L410.99 189.5 L411.17 193 L411.35 197.19 L411.54 204.29 L411.72 213.42 L411.9 220.98 L412.09 228.02 L412.27 232.1 L412.45 232.1 L412.64 232.1 L412.82 232.1 L413 232.1 L413.18 232.1 L413.37 232.1 L413.55 232.1 L413.73 232.1 L413.92 232.1 L414.1 232.1 L414.28 232.1 L414.47 232.1 L414.65 232.1 L414.83 232.1 L415.01 232.1 L415.2 232.1 L415.38 232.1 L415.56 232.1 L415.75 232.1 L415.93 232.1 L416.11 232.1 L416.29 232.1 L416.48 232.1 L416.66 232.1 L416.84 232.1 L417.03 232.1 L417.21 232.1 L417.39 232.1 L417.58 232.1 L417.76 232.1 L417.94 232.1 L418.12 232.1 L418.31 232.1 L418.49 232.1 L418.67 232.1 L418.86 232.1 L419.04 232.1 L419.22 232.1 L419.41 232.1 L419.59 232.1 L419.77 232.1 L419.95 232.1 L420.14 232.1 L420.32 232.1 L420.5 232.1 L420.69 232.1 L420.87 232.1 L421.05 232.1 L421.24 232.1 L421.42 232.1 L421.6 232.1 L421.78 232.1 L421.97 232.1 L422.15 232.1 L422.33 232.1 L422.52 232.1 L422.7 232.1 L422.88 232.1 L423.06 232.1 L423.25 232.1 L423.43 232.1 L423.61 232.1 L423.8 232.1 L423.98 232.1 L424.16 232.1 L424.35 232.1 L424.53 232.1 L424.71 232.1 L424.89 232.1 L425.08 232.1 L425.26 232.1 L425.44 232.1 L425.63 232.1 L425.81 232.1 L425.99 232.1 L426.18 232.1 L426.36 232.1 L426.54 232.1 L426.72 229.94 L426.91 224.34 L427.09 218.41 L427.27 212.08 L427.46 204.41 L427.64 198.19 L427.82 194.43 L428 191.44 L428.19 188.55 L428.37 185.71 L428.55 183.41 L428.74 181.5 L428.92 179.81 L429.1 178.21 L429.29 176.61 L429.47 175.06 L429.65 173.56 L429.83 172.1 L430.02 170.67 L430.2 169.24 L430.38 167.84 L430.57 166.47 L430.75 165.16 L430.93 163.92 L431.12 162.74 L431.3 161.6 L431.48 160.51 L431.66 159.45 L431.85 158.42 L432.03 157.4 L432.21 156.4 L432.4 155.42 L432.58 154.45 L432.76 153.51 L432.94 152.6 L433.13 151.72 L433.31 150.88 L433.49 150.06 L433.68 149.25 L433.86 148.47 L434.04 147.72 L434.23 147 L434.41 146.31 L434.59 145.68 L434.77 145.07 L434.96 144.49 L435.14 143.92 L435.32 143.37 L435.51 142.85 L435.69 142.35 L435.87 141.88 L436.06 141.44 L436.24 141.03 L436.42 141.16 L436.6 141.58 L436.79 142.03 L436.97 142.51 L437.15 143.01 L437.34 143.55 L437.52 144.1 L437.7 144.67 L437.88 145.27 L438.07 145.88 L438.25 146.53 L438.43 147.23 L438.62 147.96 L438.8 148.72 L438.98 149.51 L439.17 150.32 L439.35 151.15 L439.53 152 L439.71 152.9 L439.9 153.82 L440.08 154.77 L440.26 155.74 L440.45 156.73 L440.63 157.73 L440.81 158.75 L441 159.79 L441.18 160.86 L441.36 161.97 L441.54 163.12 L441.73 164.31 L441.91 165.58 L442.09 166.91 L442.28 168.29 L442.46 169.7 L442.64 171.13 L442.83 172.57 L443.01 174.04 L443.19 175.56 L443.37 177.13 L443.56 178.73 L443.74 180.34 L443.92 182.09 L444.11 184.09 L444.29 186.6 L444.47 189.52 L444.65 192.37 L444.84 195.53 L445.02 199.72 L445.2 207.06 L445.39 214.2 L445.57 220.37 L445.75 226.2 L445.94 231.68 L446.12 232.1 L446.3 232.1 L446.48 232.1 L446.67 232.1 L446.85 232.1 L447.03 232.1 L447.22 232.1 L447.4 232.1 L447.58 232.1 L447.77 232.1 L447.95 232.1 L448.13 232.1 L448.31 232.1 L448.5 232.1 L448.68 232.1 L448.86 232.1 L449.05 232.1 L449.23 232.1 L449.41 232.1 L449.59 232.1 L449.78 232.1 L449.96 232.1 L450.14 232.1 L450.33 232.1 L450.51 232.1 L450.69 232.1 L450.88 232.1 L451.06 232.1 L451.24 232.1 L451.42 232.1 L451.61 232.1 L451.79 232.1 L451.97 232.1 L452.16 232.1 L452.34 232.1 L452.52 232.1 L452.71 232.1 L452.89 232.1 L453.07 232.1 L453.25 232.1 L453.44 232.1 L453.62 232.1 L453.8 232.1 L453.99 232.1 L454.17 232.1 L454.35 232.1 L454.53 232.1 L454.72 232.1 L454.9 232.1 L455.08 232.1 L455.27 232.1 L455.45 232.1 L455.63 232.1 L455.82 232.1 L456 232.1 L456.18 232.1 L456.36 232.1 L456.55 232.1 L456.73 232.1 L456.91 232.1 L457.1 232.1 L457.28 232.1 L457.46 232.1 L457.65 232.1 L457.83 232.1 L458.01 228.71 L458.19 222.8 L458.38 216.56 L458.56 209.72 L458.74 201.57 L458.93 196.49 L459.11 193.02 L459.29 190.05 L459.47 187.02 L459.66 184.33 L459.84 182.23 L460.02 180.4 L460.21 178.72 L460.39 177.06 L460.57 175.44 L460.76 173.87 L460.94 172.35 L461.12 170.86 L461.3 169.38 L461.49 167.92 L461.67 166.5 L461.85 165.14 L462.04 163.85 L462.22 162.63 L462.4 161.46 L462.59 160.33 L462.77 159.24 L462.95 158.17 L463.13 157.12 L463.32 156.09 L463.5 155.07 L463.68 154.08 L463.87 153.12 L464.05 152.19 L464.23 151.29 L464.42 150.43 L464.6 149.59 L464.78 148.77 L464.96 147.97 L465.15 147.21 L465.33 146.49 L465.51 145.82 L465.7 145.19 L465.88 144.58 L466.06 143.98 L466.24 143.41 L466.43 142.87 L466.61 142.35 L466.79 141.86 L466.98 141.41 L467.16 140.99 L467.34 141.22 L467.53 141.66 L467.71 142.13 L467.89 142.64 L468.07 143.17 L468.26 143.73 L468.44 144.31 L468.62 144.91 L468.81 145.54 L468.99 146.19 L469.17 146.89 L469.36 147.63 L469.54 148.41 L469.72 149.22 L469.9 150.06 L470.09 150.91 L470.27 151.79 L470.45 152.7 L470.64 153.65 L470.82 154.63 L471 155.64 L471.18 156.66 L471.37 157.7 L471.55 158.76 L471.73 159.84 L471.92 160.96 L472.1 162.11 L472.28 163.31 L472.47 164.56 L472.65 165.89 L472.83 167.28 L473.01 168.73 L473.2 170.2 L473.38 171.69 L473.56 173.19 L473.75 174.74 L473.93 176.33 L474.11 177.99 L474.3 179.65 L474.48 181.39 L474.66 183.36 L474.84 185.75 L475.03 188.71 L475.21 191.69 L475.39 194.84 L475.58 198.93 L475.76 206.05 L475.94 213.64 L476.12 220.08 L476.31 226.14 L476.49 231.82 L476.67 232.1 L476.86 232.1 L477.04 232.1 L477.22 232.1 L477.41 232.1 L477.59 232.1 L477.77 232.1 L477.95 232.1 L478.14 232.1 L478.32 232.1 L478.5 232.1 L478.69 232.1 L478.87 232.1 L479.05 232.1 L479.24 232.1 L479.42 232.1 L479.6 232.1 L479.78 232.1 L479.97 232.1 L480.15 232.1 L480.33 232.1 L480.52 232.1 L480.7 232.1 L480.88 232.1 L481.06 232.1 L481.25 232.1 L481.43 232.1 L481.61 232.1 L481.8 232.1 L481.98 232.1 L482.16 232.1 L482.35 232.1 L482.53 232.1 L482.71 232.1 L482.89 232.1 L483.08 232.1 L483.26 232.1 L483.44 232.1 L483.63 232.1 L483.81 232.1 L483.99 232.1 L484.18 232.1 L484.36 232.1 L484.54 232.1 L484.72 232.1 L484.91 232.1 L485.09 232.1 L485.27 232.1 L485.46 232.1 L485.64 232.1 L485.82 232.1 L486.01 232.1 L486.19 232.1 L486.37 232.1 L486.55 232.1 L486.74 232.1 L486.92 232.1 L487.1 232.1 L487.29 232.1 L487.47 232.1 L487.65 232.1 L487.83 232.1 L488.02 232.1 L488.2 232.1 L488.38 232.1 L488.57 232.1 L488.75 229.18 L488.93 223.53 L489.12 217.56 L489.3 211.15 L489.48 203.31 L489.66 197.59 L489.85 193.98 L490.03 191.05 L490.21 188.14 L490.4 185.35 L490.58 183.13 L490.76 181.26 L490.95 179.58 L491.13 177.99 L491.31 176.39 L491.49 174.85 L491.68 173.35 L491.86 171.9 L492.04 170.47 L492.23 169.05 L492.41 167.65 L492.59 166.28 L492.77 164.98 L492.96 163.75 L493.14 162.58 L493.32 161.45 L493.51 160.36 L493.69 159.31 L493.87 158.27 L494.06 157.26 L494.24 156.26 L494.42 155.28 L494.6 154.32 L494.79 153.39 L494.97 152.48 L495.15 151.6 L495.34 150.76 L495.52 149.94 L495.7 149.14 L495.89 148.36 L496.07 147.61 L496.25 146.9 L496.43 146.22 L496.62 145.59 L496.8 144.99" fill="none" stroke="#0000ff" stroke-width="2.6" stroke-linejoin="round" />
<path d="M405.5 229.4 L405.68 229.37 L405.87 229.33 L406.05 229.28 L406.23 229.23 L406.41 229.17 L406.6 229.1 L406.78 229.03 L406.96 228.94 L407.15 228.85 L407.33 228.74 L407.51 228.62 L407.7 228.48 L407.88 228.33 L408.06 228.16 L408.24 227.97 L408.43 227.75 L408.61 227.5 L408.79 227.23 L408.98 226.92 L409.16 226.57 L409.34 226.18 L409.53 225.74 L409.71 225.24 L409.89 224.68 L410.07 224.05 L410.26 223.35 L410.44 222.55 L410.62 221.66 L410.81 220.65 L410.99 219.51 L411.17 218.24 L411.35 216.8 L411.54 215.19 L411.72 213.37 L411.9 211.32 L412.09 209.02 L412.27 206.43 L412.45 203.51 L412.64 200.23 L412.82 196.54 L413 192.38 L413.18 187.71 L413.37 182.45 L413.55 176.53 L413.73 174.8 L413.92 174.8 L414.1 174.8 L414.28 174.8 L414.47 174.8 L414.65 174.8 L414.83 174.8 L415.01 174.8 L415.2 174.8 L415.38 174.8 L415.56 174.8 L415.75 174.8 L415.93 174.8 L416.11 174.8 L416.29 174.8 L416.48 174.8 L416.66 174.8 L416.84 174.8 L417.03 174.8 L417.21 174.8 L417.39 174.8 L417.58 174.8 L417.76 174.8 L417.94 174.8 L418.12 174.8 L418.31 174.8 L418.49 174.8 L418.67 174.8 L418.86 174.8 L419.04 174.8 L419.22 174.8 L419.41 174.8 L419.59 174.8 L419.77 174.8 L419.95 174.8 L420.14 174.8 L420.32 174.8 L420.5 174.8 L420.69 174.8 L420.87 174.8 L421.05 174.8 L421.24 174.8 L421.42 174.8 L421.6 174.8 L421.78 174.8 L421.97 174.8 L422.15 174.8 L422.33 174.8 L422.52 174.8 L422.7 174.8 L422.88 174.8 L423.06 174.8 L423.25 174.8 L423.43 174.8 L423.61 174.8 L423.8 174.8 L423.98 174.8 L424.16 174.8 L424.35 174.8 L424.53 174.8 L424.71 174.8 L424.89 174.8 L425.08 174.8 L425.26 174.8 L425.44 174.8 L425.63 174.8 L425.81 174.8 L425.99 174.8 L426.18 174.8 L426.36 174.8 L426.54 174.8 L426.72 174.8 L426.91 174.8 L427.09 174.8 L427.27 174.8 L427.46 174.8 L427.64 174.8 L427.82 174.8 L428 178.39 L428.19 184.1 L428.37 189.18 L428.55 193.69 L428.74 197.7 L428.92 201.26 L429.1 204.43 L429.29 207.24 L429.47 209.74 L429.65 211.97 L429.83 213.94 L430.02 215.69 L430.2 217.25 L430.38 218.64 L430.57 219.87 L430.75 220.97 L430.93 221.94 L431.12 222.8 L431.3 223.57 L431.48 224.25 L431.66 224.86 L431.85 225.4 L432.03 225.88 L432.21 226.3 L432.4 226.68 L432.58 227.02 L432.76 227.32 L432.94 227.58 L433.13 227.82 L433.31 228.03 L433.49 228.21 L433.68 228.38 L433.86 228.53 L434.04 228.66 L434.23 228.77 L434.41 228.88 L434.59 228.97 L434.77 229.05 L434.96 229.12 L435.14 229.19 L435.32 229.24 L435.51 229.29 L435.69 229.34 L435.87 229.38 L436.06 229.42 L436.24 229.45 L436.42 229.44 L436.6 229.4 L436.79 229.37 L436.97 229.33 L437.15 229.28 L437.34 229.23 L437.52 229.17 L437.7 229.1 L437.88 229.02 L438.07 228.94 L438.25 228.84 L438.43 228.74 L438.62 228.62 L438.8 228.48 L438.98 228.33 L439.17 228.16 L439.35 227.96 L439.53 227.74 L439.71 227.5 L439.9 227.22 L440.08 226.91 L440.26 226.56 L440.45 226.17 L440.63 225.73 L440.81 225.23 L441 224.67 L441.18 224.04 L441.36 223.33 L441.54 222.53 L441.73 221.63 L441.91 220.62 L442.09 219.49 L442.28 218.21 L442.46 216.77 L442.64 215.15 L442.83 213.32 L443.01 211.27 L443.19 208.96 L443.37 206.36 L443.56 203.44 L443.74 200.15 L443.92 196.45 L444.11 192.28 L444.29 187.59 L444.47 182.32 L444.65 176.38 L444.84 174.8 L445.02 174.8 L445.2 174.8 L445.39 174.8 L445.57 174.8 L445.75 174.8 L445.94 174.8 L446.12 174.8 L446.3 174.8 L446.48 174.8 L446.67 174.8 L446.85 174.8 L447.03 174.8 L447.22 174.8 L447.4 174.8 L447.58 174.8 L447.77 174.8 L447.95 174.8 L448.13 174.8 L448.31 174.8 L448.5 174.8 L448.68 174.8 L448.86 174.8 L449.05 174.8 L449.23 174.8 L449.41 174.8 L449.59 174.8 L449.78 174.8 L449.96 174.8 L450.14 174.8 L450.33 174.8 L450.51 174.8 L450.69 174.8 L450.88 174.8 L451.06 174.8 L451.24 174.8 L451.42 174.8 L451.61 174.8 L451.79 174.8 L451.97 174.8 L452.16 174.8 L452.34 174.8 L452.52 174.8 L452.71 174.8 L452.89 174.8 L453.07 174.8 L453.25 174.8 L453.44 174.8 L453.62 174.8 L453.8 174.8 L453.99 174.8 L454.17 174.8 L454.35 174.8 L454.53 174.8 L454.72 174.8 L454.9 174.8 L455.08 174.8 L455.27 174.8 L455.45 174.8 L455.63 174.8 L455.82 174.8 L456 174.8 L456.18 174.8 L456.36 174.8 L456.55 174.8 L456.73 174.8 L456.91 174.8 L457.1 174.8 L457.28 174.8 L457.46 174.8 L457.65 174.8 L457.83 174.8 L458.01 174.8 L458.19 174.8 L458.38 174.8 L458.56 174.8 L458.74 174.8 L458.93 179.09 L459.11 184.72 L459.29 189.73 L459.47 194.18 L459.66 198.14 L459.84 201.65 L460.02 204.77 L460.21 207.55 L460.39 210.02 L460.57 212.21 L460.76 214.15 L460.94 215.89 L461.12 217.42 L461.3 218.79 L461.49 220.01 L461.67 221.08 L461.85 222.04 L462.04 222.9 L462.22 223.65 L462.4 224.33 L462.59 224.93 L462.77 225.46 L462.95 225.93 L463.13 226.35 L463.32 226.72 L463.5 227.05 L463.68 227.35 L463.87 227.61 L464.05 227.84 L464.23 228.05 L464.42 228.23 L464.6 228.4 L464.78 228.54 L464.96 228.67 L465.15 228.79 L465.33 228.89 L465.51 228.98 L465.7 229.06 L465.88 229.13 L466.06 229.19 L466.24 229.25 L466.43 229.3 L466.61 229.34 L466.79 229.38 L466.98 229.42 L467.16 229.45 L467.34 229.43 L467.53 229.4 L467.71 229.36 L467.89 229.32 L468.07 229.27 L468.26 229.22 L468.44 229.16 L468.62 229.09 L468.81 229.01 L468.99 228.93 L469.17 228.83 L469.36 228.72 L469.54 228.6 L469.72 228.46 L469.9 228.31 L470.09 228.13 L470.27 227.94 L470.45 227.72 L470.64 227.47 L470.82 227.19 L471 226.87 L471.18 226.52 L471.37 226.12 L471.55 225.67 L471.73 225.17 L471.92 224.6 L472.1 223.96 L472.28 223.24 L472.47 222.43 L472.65 221.52 L472.83 220.5 L473.01 219.35 L473.2 218.05 L473.38 216.59 L473.56 214.95 L473.75 213.1 L473.93 211.02 L474.11 208.68 L474.3 206.04 L474.48 203.08 L474.66 199.74 L474.84 195.99 L475.03 191.77 L475.21 187.01 L475.39 181.66 L475.58 175.65 L475.76 174.8 L475.94 174.8 L476.12 174.8 L476.31 174.8 L476.49 174.8 L476.67 174.8 L476.86 174.8 L477.04 174.8 L477.22 174.8 L477.41 174.8 L477.59 174.8 L477.77 174.8 L477.95 174.8 L478.14 174.8 L478.32 174.8 L478.5 174.8 L478.69 174.8 L478.87 174.8 L479.05 174.8 L479.24 174.8 L479.42 174.8 L479.6 174.8 L479.78 174.8 L479.97 174.8 L480.15 174.8 L480.33 174.8 L480.52 174.8 L480.7 174.8 L480.88 174.8 L481.06 174.8 L481.25 174.8 L481.43 174.8 L481.61 174.8 L481.8 174.8 L481.98 174.8 L482.16 174.8 L482.35 174.8 L482.53 174.8 L482.71 174.8 L482.89 174.8 L483.08 174.8 L483.26 174.8 L483.44 174.8 L483.63 174.8 L483.81 174.8 L483.99 174.8 L484.18 174.8 L484.36 174.8 L484.54 174.8 L484.72 174.8 L484.91 174.8 L485.09 174.8 L485.27 174.8 L485.46 174.8 L485.64 174.8 L485.82 174.8 L486.01 174.8 L486.19 174.8 L486.37 174.8 L486.55 174.8 L486.74 174.8 L486.92 174.8 L487.1 174.8 L487.29 174.8 L487.47 174.8 L487.65 174.8 L487.83 174.8 L488.02 174.8 L488.2 174.8 L488.38 174.8 L488.57 174.8 L488.75 176.53 L488.93 182.45 L489.12 187.71 L489.3 192.38 L489.48 196.54 L489.66 200.23 L489.85 203.51 L490.03 206.43 L490.21 209.02 L490.4 211.32 L490.58 213.37 L490.76 215.19 L490.95 216.8 L491.13 218.24 L491.31 219.51 L491.49 220.65 L491.68 221.66 L491.86 222.55 L492.04 223.35 L492.23 224.05 L492.41 224.68 L492.59 225.24 L492.77 225.74 L492.96 226.18 L493.14 226.57 L493.32 226.92 L493.51 227.23 L493.69 227.5 L493.87 227.75 L494.06 227.97 L494.24 228.16 L494.42 228.33 L494.6 228.48 L494.79 228.62 L494.97 228.74 L495.15 228.85 L495.34 228.94 L495.52 229.03 L495.7 229.1 L495.89 229.17 L496.07 229.23 L496.25 229.28 L496.43 229.33 L496.62 229.37 L496.8 229.4" fill="none" stroke="#ff00ff" stroke-width="2.6" stroke-linejoin="round" />
<rect x="587.5" y="141.5" width="91.3" height="91" fill="none" stroke="#808080" stroke-width="1"/>
<path d="M587.5 232.5 v-1.6 M587.5 141.5 v1.6 M610.33 232.5 v-1.6 M610.33 141.5 v1.6 M633.15 232.5 v-1.6 M633.15 141.5 v1.6 M655.98 232.5 v-1.6 M655.98 141.5 v1.6 M678.8 232.5 v-1.6 M678.8 141.5 v1.6 M587.5 212.3 h1.6 M678.8 212.3 h-1.6 M587.5 191.9 h1.6 M678.8 191.9 h-1.6 M587.5 171.6 h1.6 M678.8 171.6 h-1.6 M587.5 151.3 h1.6 M678.8 151.3 h-1.6 " stroke="#555" stroke-width="0.8" fill="none"/>
<text transform="translate(587.5 249) scale(0.94 1)" font-size="12.3" text-anchor="middle" fill="#262626">-40</text>
<text transform="translate(610.33 249) scale(0.94 1)" font-size="12.3" text-anchor="middle" fill="#262626">-20</text>
<text transform="translate(633.15 249) scale(0.94 1)" font-size="12.3" text-anchor="middle" fill="#262626">0</text>
<text transform="translate(655.98 249) scale(0.94 1)" font-size="12.3" text-anchor="middle" fill="#262626">20</text>
<text transform="translate(583.2 217.07) scale(0.94 1)" font-size="12.3" text-anchor="end" fill="#262626">0.5</text>
<text transform="translate(583.2 196.97) scale(0.94 1)" font-size="12.3" text-anchor="end" fill="#262626">1</text>
<text transform="translate(583.2 176.57) scale(0.94 1)" font-size="12.3" text-anchor="end" fill="#262626">1.5</text>
<text transform="translate(583.2 156.67) scale(0.94 1)" font-size="12.3" text-anchor="end" fill="#262626">2</text>
<path d="M587.5 190.77 L587.63 190.76 L587.76 190.74 L587.89 190.73 L588.02 190.72 L588.15 190.71 L588.28 190.7 L588.41 190.68 L588.54 190.67 L588.68 190.66 L588.81 190.65 L588.94 190.64 L589.07 190.63 L589.2 190.63 L589.33 190.62 L589.46 190.61 L589.59 190.6 L589.72 190.6 L589.85 190.59 L589.98 190.58 L590.11 190.58 L590.24 190.57 L590.37 190.57 L590.5 190.56 L590.63 190.56 L590.77 190.56 L590.9 190.55 L591.03 190.55 L591.16 190.55 L591.29 190.55 L591.42 190.55 L591.55 190.55 L591.68 190.55 L591.81 190.55 L591.94 190.56 L592.07 190.57 L592.2 190.57 L592.33 190.58 L592.46 190.6 L592.59 190.61 L592.72 190.62 L592.86 190.64 L592.99 190.65 L593.12 190.67 L593.25 190.69 L593.38 190.71 L593.51 190.73 L593.64 190.75 L593.77 190.78 L593.9 190.8 L594.03 190.83 L594.16 190.85 L594.29 190.88 L594.42 190.91 L594.55 190.94 L594.68 190.96 L594.81 190.99 L594.95 191.03 L595.08 191.06 L595.21 191.09 L595.34 191.12 L595.47 191.15 L595.6 191.19 L595.73 191.22 L595.86 191.26 L595.99 191.29 L596.12 191.33 L596.25 191.36 L596.38 191.4 L596.51 191.43 L596.64 191.47 L596.77 191.5 L596.9 191.54 L597.03 191.58 L597.17 191.61 L597.3 191.65 L597.43 191.68 L597.56 191.72 L597.69 191.76 L597.82 191.79 L597.95 191.83 L598.08 191.87 L598.21 191.91 L598.34 191.95 L598.47 191.99 L598.6 192.03 L598.73 192.07 L598.86 192.12 L598.99 192.16 L599.12 192.2 L599.26 192.25 L599.39 192.3 L599.52 192.35 L599.65 192.4 L599.78 192.45 L599.91 192.5 L600.04 192.55 L600.17 192.6 L600.3 192.66 L600.43 192.71 L600.56 192.77 L600.69 192.82 L600.82 192.88 L600.95 192.94 L601.08 193 L601.21 193.06 L601.35 193.12 L601.48 193.19 L601.61 193.25 L601.74 193.31 L601.87 193.38 L602 193.45 L602.13 193.51 L602.26 193.58 L602.39 193.65 L602.52 193.72 L602.65 193.8 L602.78 193.87 L602.91 193.94 L603.04 194.02 L603.17 194.09 L603.3 194.17 L603.44 194.25 L603.57 194.33 L603.7 194.41 L603.83 194.49 L603.96 194.57 L604.09 194.65 L604.22 194.73 L604.35 194.82 L604.48 194.91 L604.61 194.99 L604.74 195.08 L604.87 195.17 L605 195.26 L605.13 195.35 L605.26 195.44 L605.39 195.54 L605.52 195.63 L605.66 195.73 L605.79 195.84 L605.92 195.94 L606.05 196.05 L606.18 196.16 L606.31 196.28 L606.44 196.39 L606.57 196.51 L606.7 196.63 L606.83 196.76 L606.96 196.88 L607.09 197.01 L607.22 197.15 L607.35 197.28 L607.48 197.42 L607.61 197.56 L607.75 197.71 L607.88 197.86 L608.01 198.01 L608.14 198.16 L608.27 198.32 L608.4 198.48 L608.53 198.64 L608.66 198.81 L608.79 198.97 L608.92 199.15 L609.05 199.32 L609.18 199.5 L609.31 199.68 L609.44 199.86 L609.57 200.05 L609.7 200.24 L609.84 200.44 L609.97 200.63 L610.1 200.84 L610.23 201.04 L610.36 201.25 L610.49 201.46 L610.62 201.67 L610.75 201.89 L610.88 202.11 L611.01 202.33 L611.14 202.56 L611.27 202.79 L611.4 203.02 L611.53 203.27 L611.66 203.58 L611.79 203.92 L611.93 204.27 L612.06 204.61 L612.19 204.95 L612.32 205.3 L612.45 205.65 L612.58 206.01 L612.71 206.36 L612.84 206.72 L612.97 207.09 L613.1 207.45 L613.23 207.82 L613.36 208.19 L613.49 208.57 L613.62 208.94 L613.75 209.31 L613.88 209.69 L614.01 210.06 L614.15 210.44 L614.28 210.81 L614.41 211.19 L614.54 211.56 L614.67 211.94 L614.8 212.32 L614.93 212.7 L615.06 213.09 L615.19 213.48 L615.32 213.88 L615.45 214.27 L615.58 214.67 L615.71 215.07 L615.84 215.47 L615.97 215.86 L616.1 216.25 L616.24 216.64 L616.37 217.03 L616.5 217.4 L616.63 217.78 L616.76 218.14 L616.89 218.5 L617.02 218.84 L617.15 219.18 L617.28 219.51 L617.41 219.84 L617.54 220.17 L617.67 220.5 L617.8 220.83 L617.93 221.16 L618.06 221.49 L618.19 221.81 L618.33 222.13 L618.46 222.44 L618.59 222.75 L618.72 223.04 L618.85 223.33 L618.98 223.6 L619.11 223.87 L619.24 224.12 L619.37 224.36 L619.5 224.58 L619.63 224.79 L619.76 224.98 L619.89 225.15 L620.02 225.33 L620.15 225.49 L620.28 225.65 L620.42 225.81 L620.55 225.97 L620.68 226.11 L620.81 226.26 L620.94 226.4 L621.07 226.53 L621.2 226.66 L621.33 226.78 L621.46 226.89 L621.59 227 L621.72 227.11 L621.85 227.21 L621.98 227.3 L622.11 227.39 L622.24 227.47 L622.37 227.54 L622.5 227.61 L622.64 227.67 L622.77 227.74 L622.9 227.81 L623.03 227.87 L623.16 227.93 L623.29 227.99 L623.42 228.05 L623.55 228.11 L623.68 228.17 L623.81 228.23 L623.94 228.29 L624.07 228.34 L624.2 228.4 L624.33 228.45 L624.46 228.5 L624.59 228.55 L624.73 228.6 L624.86 228.65 L624.99 228.7 L625.12 228.75 L625.25 228.79 L625.38 228.84 L625.51 228.88 L625.64 228.92 L625.77 228.97 L625.9 229.01 L626.03 229.05 L626.16 229.09 L626.29 229.12 L626.42 229.16 L626.55 229.2 L626.68 229.23 L626.82 229.27 L626.95 229.3 L627.08 229.33 L627.21 229.36 L627.34 229.39 L627.47 229.42 L627.6 229.45 L627.73 229.48 L627.86 229.5 L627.99 229.53 L628.12 229.55 L628.25 229.57 L628.38 229.6 L628.51 229.62 L628.64 229.64 L628.77 229.66 L628.91 229.67 L629.04 229.69 L629.17 229.71 L629.3 229.73 L629.43 229.74 L629.56 229.76 L629.69 229.77 L629.82 229.79 L629.95 229.81 L630.08 229.82 L630.21 229.84 L630.34 229.85 L630.47 229.87 L630.6 229.88 L630.73 229.9 L630.86 229.91 L630.99 229.92 L631.13 229.94 L631.26 229.95 L631.39 229.97 L631.52 229.98 L631.65 229.99 L631.78 230.01 L631.91 230.02 L632.04 230.03 L632.17 230.04 L632.3 230.06 L632.43 230.07 L632.56 230.08 L632.69 230.09 L632.82 230.1 L632.95 230.12 L633.08 230.13 L633.22 230.14 L633.35 230.15 L633.48 230.16 L633.61 230.17 L633.74 230.18 L633.87 230.19 L634 230.2 L634.13 230.21 L634.26 230.23 L634.39 230.24 L634.52 230.25 L634.65 230.26 L634.78 230.27 L634.91 230.27 L635.04 230.28 L635.17 230.29 L635.31 230.3 L635.44 230.31 L635.57 230.32 L635.7 230.33 L635.83 230.34 L635.96 230.35 L636.09 230.36 L636.22 230.36 L636.35 230.37 L636.48 230.38 L636.61 230.39 L636.74 230.4 L636.87 230.41 L637 230.41 L637.13 230.42 L637.26 230.43 L637.39 230.44 L637.53 230.44 L637.66 230.45 L637.79 230.46 L637.92 230.47 L638.05 230.47 L638.18 230.48 L638.31 230.49 L638.44 230.49 L638.57 230.5 L638.7 230.51 L638.83 230.51 L638.96 230.52 L639.09 230.53 L639.22 230.53 L639.35 230.54 L639.48 230.55 L639.62 230.55 L639.75 230.56 L639.88 230.56 L640.01 230.57 L640.14 230.58 L640.27 230.58 L640.4 230.59 L640.53 230.59 L640.66 230.6 L640.79 230.61 L640.92 230.61 L641.05 230.62 L641.18 230.62 L641.31 230.63 L641.44 230.63 L641.57 230.64 L641.71 230.64 L641.84 230.65 L641.97 230.66 L642.1 230.66 L642.23 230.67 L642.36 230.67 L642.49 230.68 L642.62 230.68 L642.75 230.69 L642.88 230.69 L643.01 230.69 L643.14 230.7 L643.27 230.7 L643.4 230.71 L643.53 230.71 L643.66 230.71 L643.8 230.72 L643.93 230.72 L644.06 230.72 L644.19 230.73 L644.32 230.73 L644.45 230.73 L644.58 230.74 L644.71 230.74 L644.84 230.74 L644.97 230.75 L645.1 230.75 L645.23 230.75 L645.36 230.75 L645.49 230.76 L645.62 230.76 L645.75 230.76 L645.88 230.76 L646.02 230.76 L646.15 230.77 L646.28 230.77 L646.41 230.77 L646.54 230.77 L646.67 230.77 L646.8 230.78 L646.93 230.78 L647.06 230.78 L647.19 230.78 L647.32 230.78 L647.45 230.79 L647.58 230.79 L647.71 230.79 L647.84 230.79 L647.97 230.79 L648.11 230.8 L648.24 230.8 L648.37 230.8 L648.5 230.8 L648.63 230.8 L648.76 230.81 L648.89 230.81 L649.02 230.81 L649.15 230.81 L649.28 230.81 L649.41 230.82 L649.54 230.82 L649.67 230.82 L649.8 230.82 L649.93 230.83 L650.06 230.83 L650.2 230.83 L650.33 230.83 L650.46 230.84 L650.59 230.84 L650.72 230.84 L650.85 230.84 L650.98 230.85 L651.11 230.85 L651.24 230.85 L651.37 230.86 L651.5 230.86 L651.63 230.86 L651.76 230.87 L651.89 230.87 L652.02 230.87 L652.15 230.88 L652.29 230.88 L652.42 230.89 L652.55 230.89 L652.68 230.9 L652.81 230.9 L652.94 230.9 L653.07 230.91 L653.2 230.91 L653.33 230.92 L653.46 230.92 L653.59 230.93 L653.72 230.94 L653.85 230.94 L653.98 230.95 L654.11 230.95 L654.24 230.96 L654.37 230.97 L654.51 230.97 L654.64 230.98 L654.77 230.99 L654.9 231 L655.03 231 L655.16 231.01 L655.29 231.02 L655.42 231.03 L655.55 231.04 L655.68 231.04 L655.81 231.06 L655.94 231.08 L656.07 231.11 L656.2 231.14 L656.33 231.19 L656.46 231.24 L656.6 231.29 L656.73 231.35 L656.86 231.42 L656.99 231.48 L657.12 231.55 L657.25 231.62 L657.38 231.69 L657.51 231.76 L657.64 231.83 L657.77 231.9 L657.9 231.97" fill="none" stroke="#0000ff" stroke-width="2.6" stroke-linejoin="round" stroke-dasharray="6.5 2.4" stroke-opacity="0.4"/>
<path d="M658.03 231.64 L658.16 228.11 L658.29 224.8 L658.42 222.14 L658.55 220.43 L658.69 219.03 L658.82 217.76 L658.95 216.59 L659.08 215.52 L659.21 214.55 L659.34 213.67 L659.47 212.86 L659.6 212.12 L659.73 211.43 L659.86 210.8 L659.99 210.21 L660.12 209.65 L660.25 209.12 L660.38 208.6 L660.51 208.1 L660.64 207.61 L660.78 207.14 L660.91 206.68 L661.04 206.24 L661.17 205.81 L661.3 205.39 L661.43 204.99 L661.56 204.59 L661.69 204.22 L661.82 203.85 L661.95 203.49 L662.08 203.15 L662.21 202.82 L662.34 202.5 L662.47 202.19 L662.6 201.89 L662.73 201.59 L662.86 201.31 L663 201.04 L663.13 200.78 L663.26 200.53 L663.39 200.28 L663.52 200.04 L663.65 199.81 L663.78 199.59 L663.91 199.37 L664.04 199.16 L664.17 198.96 L664.3 198.76 L664.43 198.56 L664.56 198.36 L664.69 198.17 L664.82 197.98 L664.95 197.79 L665.09 197.61 L665.22 197.43 L665.35 197.25 L665.48 197.07 L665.61 196.9 L665.74 196.73 L665.87 196.57 L666 196.41 L666.13 196.25 L666.26 196.09 L666.39 195.94 L666.52 195.8 L666.65 195.65 L666.78 195.51 L666.91 195.37 L667.04 195.24 L667.18 195.11 L667.31 194.98 L667.44 194.86 L667.57 194.74 L667.7 194.63 L667.83 194.52 L667.96 194.41 L668.09 194.31 L668.22 194.21 L668.35 194.11 L668.48 194.02 L668.61 193.93 L668.74 193.85 L668.87 193.77 L669 193.7 L669.13 193.63 L669.27 193.55 L669.4 193.48 L669.53 193.41 L669.66 193.34 L669.79 193.28 L669.92 193.21 L670.05 193.14 L670.18 193.08 L670.31 193.01 L670.44 192.95 L670.57 192.88 L670.7 192.82 L670.83 192.76 L670.96 192.7 L671.09 192.64 L671.22 192.58 L671.35 192.52 L671.49 192.46 L671.62 192.41 L671.75 192.35 L671.88 192.3 L672.01 192.25 L672.14 192.19 L672.27 192.14 L672.4 192.09 L672.53 192.04 L672.66 191.99 L672.79 191.95 L672.92 191.9 L673.05 191.85 L673.18 191.81 L673.31 191.77 L673.44 191.72 L673.58 191.68 L673.71 191.64 L673.84 191.6 L673.97 191.56 L674.1 191.53 L674.23 191.49 L674.36 191.45 L674.49 191.42 L674.62 191.39 L674.75 191.35 L674.88 191.32 L675.01 191.29 L675.14 191.26 L675.27 191.24 L675.4 191.21 L675.53 191.18 L675.67 191.16 L675.8 191.14 L675.93 191.12 L676.06 191.09 L676.19 191.07 L676.32 191.06 L676.45 191.04 L676.58 191.02 L676.71 191.01 L676.84 190.99 L676.97 190.97 L677.1 190.96 L677.23 190.94 L677.36 190.93 L677.49 190.91 L677.62 190.9 L677.76 190.88 L677.89 190.87 L678.02 190.85 L678.15 190.84 L678.28 190.82 L678.41 190.81 L678.54 190.8 L678.67 190.78 L678.8 190.77" fill="none" stroke="#0000ff" stroke-width="2.6" stroke-linejoin="round" stroke-dasharray="6.5 2.4" stroke-opacity="0.4"/>
<path d="M587.5 232.4 L587.63 232.4 L587.76 232.4 L587.89 232.4 L588.02 232.4 L588.15 232.4 L588.28 232.4 L588.41 232.4 L588.54 232.4 L588.68 232.41 L588.81 232.41 L588.94 232.41 L589.07 232.41 L589.2 232.41 L589.33 232.41 L589.46 232.41 L589.59 232.41 L589.72 232.41 L589.85 232.41 L589.98 232.41 L590.11 232.42 L590.24 232.42 L590.37 232.42 L590.5 232.42 L590.63 232.42 L590.77 232.42 L590.9 232.42 L591.03 232.42 L591.16 232.42 L591.29 232.42 L591.42 232.42 L591.55 232.43 L591.68 232.43 L591.81 232.43 L591.94 232.43 L592.07 232.43 L592.2 232.43 L592.33 232.43 L592.46 232.43 L592.59 232.43 L592.72 232.43 L592.86 232.43 L592.99 232.43 L593.12 232.44 L593.25 232.44 L593.38 232.44 L593.51 232.44 L593.64 232.44 L593.77 232.44 L593.9 232.44 L594.03 232.44 L594.16 232.44 L594.29 232.44 L594.42 232.44 L594.55 232.44 L594.68 232.44 L594.81 232.45 L594.95 232.45 L595.08 232.45 L595.21 232.45 L595.34 232.45 L595.47 232.45 L595.6 232.45 L595.73 232.45 L595.86 232.45 L595.99 232.45 L596.12 232.45 L596.25 232.45 L596.38 232.45 L596.51 232.45 L596.64 232.45 L596.77 232.46 L596.9 232.46 L597.03 232.46 L597.17 232.46 L597.3 232.46 L597.43 232.46 L597.56 232.46 L597.69 232.46 L597.82 232.46 L597.95 232.46 L598.08 232.46 L598.21 232.46 L598.34 232.46 L598.47 232.46 L598.6 232.46 L598.73 232.46 L598.86 232.46 L598.99 232.46 L599.12 232.47 L599.26 232.47 L599.39 232.47 L599.52 232.47 L599.65 232.47 L599.78 232.47 L599.91 232.47 L600.04 232.47 L600.17 232.47 L600.3 232.47 L600.43 232.47 L600.56 232.47 L600.69 232.47 L600.82 232.47 L600.95 232.47 L601.08 232.47 L601.21 232.47 L601.35 232.47 L601.48 232.47 L601.61 232.47 L601.74 232.48 L601.87 232.48 L602 232.48 L602.13 232.48 L602.26 232.48 L602.39 232.48 L602.52 232.48 L602.65 232.48 L602.78 232.48 L602.91 232.48 L603.04 232.48 L603.17 232.48 L603.3 232.48 L603.44 232.48 L603.57 232.48 L603.7 232.48 L603.83 232.48 L603.96 232.48 L604.09 232.48 L604.22 232.48 L604.35 232.48 L604.48 232.48 L604.61 232.48 L604.74 232.48 L604.87 232.48 L605 232.48 L605.13 232.48 L605.26 232.49 L605.39 232.49 L605.52 232.49 L605.66 232.49 L605.79 232.49 L605.92 232.49 L606.05 232.49 L606.18 232.49 L606.31 232.49 L606.44 232.49 L606.57 232.49 L606.7 232.49 L606.83 232.49 L606.96 232.49 L607.09 232.49 L607.22 232.49 L607.35 232.49 L607.48 232.49 L607.61 232.49 L607.75 232.49 L607.88 232.49 L608.01 232.49 L608.14 232.49 L608.27 232.49 L608.4 232.49 L608.53 232.49 L608.66 232.49 L608.79 232.49 L608.92 232.49 L609.05 232.49 L609.18 232.49 L609.31 232.49 L609.44 232.49 L609.57 232.49 L609.7 232.49 L609.84 232.49 L609.97 232.49 L610.1 232.49 L610.23 232.49 L610.36 232.49 L610.49 232.49 L610.62 232.49 L610.75 232.5 L610.88 232.5 L611.01 232.5 L611.14 232.5 L611.27 232.5 L611.4 232.5 L611.53 232.5 L611.66 232.5 L611.79 232.5 L611.93 232.5 L612.06 232.5 L612.19 232.5 L612.32 232.5 L612.45 232.5 L612.58 232.5 L612.71 232.5 L612.84 232.5 L612.97 232.5 L613.1 232.5 L613.23 232.5 L613.36 232.5 L613.49 232.5 L613.62 232.5 L613.75 232.5 L613.88 232.5 L614.01 232.5 L614.15 232.5 L614.28 232.5 L614.41 232.5 L614.54 232.5 L614.67 232.5 L614.8 232.5 L614.93 232.5 L615.06 232.5 L615.19 232.5 L615.32 232.5 L615.45 232.5 L615.58 232.5 L615.71 232.5 L615.84 232.5 L615.97 232.5 L616.1 232.5 L616.24 232.5 L616.37 232.5 L616.5 232.5 L616.63 232.5 L616.76 232.5 L616.89 232.5 L617.02 232.5 L617.15 232.5 L617.28 232.5 L617.41 232.5 L617.54 232.5 L617.67 232.5 L617.8 232.5 L617.93 232.5 L618.06 232.5 L618.19 232.5 L618.33 232.5 L618.46 232.5 L618.59 232.5 L618.72 232.5 L618.85 232.5 L618.98 232.5 L619.11 232.5 L619.24 232.5 L619.37 232.5 L619.5 232.28 L619.63 231.98 L619.76 231.69 L619.89 231.39 L620.02 231.08 L620.15 230.78 L620.28 230.47 L620.42 230.17 L620.55 229.86 L620.68 229.55 L620.81 229.24 L620.94 228.93 L621.07 228.61 L621.2 228.3 L621.33 227.99 L621.46 227.67 L621.59 227.36 L621.72 227.04 L621.85 226.72 L621.98 226.41 L622.11 226.09 L622.24 225.77 L622.37 225.45 L622.5 225.13 L622.64 224.81 L622.77 224.49 L622.9 224.17 L623.03 223.86 L623.16 223.54 L623.29 223.22 L623.42 222.9 L623.55 222.58 L623.68 222.26 L623.81 221.94 L623.94 221.63 L624.07 221.31 L624.2 220.99 L624.33 220.68 L624.46 220.36 L624.59 220.05 L624.73 219.73 L624.86 219.42 L624.99 219.11 L625.12 218.79 L625.25 218.48 L625.38 218.16 L625.51 217.85 L625.64 217.53 L625.77 217.22 L625.9 216.9 L626.03 216.59 L626.16 216.27 L626.29 215.96 L626.42 215.64 L626.55 215.33 L626.68 215.02 L626.82 214.7 L626.95 214.39 L627.08 214.07 L627.21 213.76 L627.34 213.44 L627.47 213.13 L627.6 212.81 L627.73 212.5 L627.86 212.18 L627.99 211.87 L628.12 211.55 L628.25 211.24 L628.38 210.92 L628.51 210.61 L628.64 210.3 L628.77 209.98 L628.91 209.67 L629.04 209.35 L629.17 209.04 L629.3 208.72 L629.43 208.41 L629.56 208.09 L629.69 207.78 L629.82 207.46 L629.95 207.15 L630.08 206.83 L630.21 206.52 L630.34 206.2 L630.47 205.89 L630.6 205.58 L630.73 205.26 L630.86 204.95 L630.99 204.63 L631.13 204.32 L631.26 204 L631.39 203.69 L631.52 203.37 L631.65 203.06 L631.78 202.74 L631.91 202.43 L632.04 202.11 L632.17 201.8 L632.3 201.49 L632.43 201.17 L632.56 200.86 L632.69 200.54 L632.82 200.23 L632.95 199.91 L633.08 199.6 L633.22 199.28 L633.35 198.97 L633.48 198.65 L633.61 198.34 L633.74 198.02 L633.87 197.71 L634 197.39 L634.13 197.08 L634.26 196.77 L634.39 196.45 L634.52 196.14 L634.65 195.82 L634.78 195.51 L634.91 195.19 L635.04 194.88 L635.17 194.56 L635.31 194.25 L635.44 193.93 L635.57 193.62 L635.7 193.3 L635.83 192.99 L635.96 192.67 L636.09 192.36 L636.22 192.05 L636.35 191.73 L636.48 191.42 L636.61 191.1 L636.74 190.79 L636.87 190.47 L637 190.16 L637.13 189.84 L637.26 189.53 L637.39 189.21 L637.53 188.9 L637.66 188.58 L637.79 188.27 L637.92 187.96 L638.05 187.64 L638.18 187.33 L638.31 187.01 L638.44 186.7 L638.57 186.38 L638.7 186.07 L638.83 185.75 L638.96 185.44 L639.09 185.12 L639.22 184.81 L639.35 184.49 L639.48 184.18 L639.62 183.86 L639.75 183.55 L639.88 183.24 L640.01 182.92 L640.14 182.61 L640.27 182.29 L640.4 181.98 L640.53 181.66 L640.66 181.35 L640.79 181.03 L640.92 180.72 L641.05 180.4 L641.18 180.09 L641.31 179.77 L641.44 179.46 L641.57 179.14 L641.71 178.83 L641.84 178.52 L641.97 178.2 L642.1 177.89 L642.23 177.57 L642.36 177.26 L642.49 176.94 L642.62 176.63 L642.75 176.31 L642.88 176 L643.01 175.68 L643.14 175.37 L643.27 175.05 L643.4 174.74 L643.53 174.43 L643.66 174.11 L643.8 173.8 L643.93 173.48 L644.06 173.17 L644.19 172.85 L644.32 172.54 L644.45 172.22 L644.58 171.91 L644.71 171.59 L644.84 171.28 L644.97 170.96 L645.1 170.65 L645.23 170.33 L645.36 170.02 L645.49 169.71 L645.62 169.39 L645.75 169.08 L645.88 168.76 L646.02 168.45 L646.15 168.13 L646.28 167.82 L646.41 167.5 L646.54 167.19 L646.67 166.87 L646.8 166.56 L646.93 166.24 L647.06 165.93 L647.19 165.61 L647.32 165.3 L647.45 164.99 L647.58 164.67 L647.71 164.36 L647.84 164.04 L647.97 163.73 L648.11 163.41 L648.24 163.1 L648.37 162.78 L648.5 162.47 L648.63 162.15 L648.76 161.84 L648.89 161.52 L649.02 161.21 L649.15 160.89 L649.28 160.58 L649.41 160.27 L649.54 159.95 L649.67 159.64 L649.8 159.32 L649.93 159.01 L650.06 158.69 L650.2 158.38 L650.33 158.06 L650.46 157.75 L650.59 157.43 L650.72 157.12 L650.85 156.8 L650.98 156.49 L651.11 156.18 L651.24 155.86 L651.37 155.55 L651.5 155.23 L651.63 154.92 L651.76 154.6 L651.89 154.29 L652.02 153.97 L652.15 153.66 L652.29 153.34 L652.42 153.03 L652.55 152.71 L652.68 152.4 L652.81 152.08 L652.94 151.77 L653.07 151.46 L653.2 151.14 L653.33 150.83 L653.46 150.51 L653.59 150.2 L653.72 149.88 L653.85 149.57 L653.98 149.25 L654.11 148.94 L654.24 148.62 L654.37 148.31 L654.51 147.99 L654.64 147.68 L654.77 147.37 L654.9 147.05 L655.03 146.74 L655.16 146.42 L655.29 146.11 L655.42 145.79 L655.55 145.48 L655.68 145.16 L655.81 144.85 L655.94 144.53 L656.07 144.22 L656.2 143.9 L656.33 143.59 L656.46 143.27 L656.6 142.96 L656.73 142.59 L656.86 142.18 L656.99 141.8 L657.12 141.55 L657.25 141.65 L657.38 143.39 L657.51 146.49 L657.64 150.25 L657.77 154.4 L657.9 160.25 L658.03 166.96 L658.16 173.38 L658.29 178.95 L658.42 184.57 L658.55 190.09 L658.69 195.28 L658.82 199.9 L658.95 203.72 L659.08 206.69 L659.21 209.45 L659.34 212.04 L659.47 214.45 L659.6 216.64 L659.73 218.59 L659.86 220.27 L659.99 221.66 L660.12 222.73 L660.25 223.47 L660.38 224.13 L660.51 224.75 L660.64 225.34 L660.78 225.9 L660.91 226.42 L661.04 226.92 L661.17 227.38 L661.3 227.82 L661.43 228.22 L661.56 228.59 L661.69 228.93 L661.82 229.24 L661.95 229.52 L662.08 229.77 L662.21 229.98 L662.34 230.17 L662.47 230.33 L662.6 230.46 L662.73 230.56 L662.86 230.63 L663 230.7 L663.13 230.77 L663.26 230.84 L663.39 230.9 L663.52 230.96 L663.65 231.02 L663.78 231.08 L663.91 231.14 L664.04 231.19 L664.17 231.25 L664.3 231.3 L664.43 231.35 L664.56 231.4 L664.69 231.45 L664.82 231.5 L664.95 231.54 L665.09 231.59 L665.22 231.63 L665.35 231.67 L665.48 231.71 L665.61 231.75 L665.74 231.79 L665.87 231.82 L666 231.86 L666.13 231.89 L666.26 231.92 L666.39 231.95 L666.52 231.98 L666.65 232.01 L666.78 232.03 L666.91 232.06 L667.04 232.08 L667.18 232.11 L667.31 232.13 L667.44 232.15 L667.57 232.17 L667.7 232.18 L667.83 232.2 L667.96 232.21 L668.09 232.23 L668.22 232.24 L668.35 232.25 L668.48 232.26 L668.61 232.27 L668.74 232.28 L668.87 232.28 L669 232.29 L669.13 232.29 L669.27 232.3 L669.4 232.3 L669.53 232.3 L669.66 232.3 L669.79 232.3 L669.92 232.31 L670.05 232.31 L670.18 232.31 L670.31 232.31 L670.44 232.31 L670.57 232.31 L670.7 232.32 L670.83 232.32 L670.96 232.32 L671.09 232.32 L671.22 232.32 L671.35 232.32 L671.49 232.32 L671.62 232.33 L671.75 232.33 L671.88 232.33 L672.01 232.33 L672.14 232.33 L672.27 232.33 L672.4 232.33 L672.53 232.34 L672.66 232.34 L672.79 232.34 L672.92 232.34 L673.05 232.34 L673.18 232.34 L673.31 232.34 L673.44 232.35 L673.58 232.35 L673.71 232.35 L673.84 232.35 L673.97 232.35 L674.1 232.35 L674.23 232.35 L674.36 232.36 L674.49 232.36 L674.62 232.36 L674.75 232.36 L674.88 232.36 L675.01 232.36 L675.14 232.36 L675.27 232.36 L675.4 232.37 L675.53 232.37 L675.67 232.37 L675.8 232.37 L675.93 232.37 L676.06 232.37 L676.19 232.37 L676.32 232.37 L676.45 232.38 L676.58 232.38 L676.71 232.38 L676.84 232.38 L676.97 232.38 L677.1 232.38 L677.23 232.38 L677.36 232.38 L677.49 232.38 L677.62 232.39 L677.76 232.39 L677.89 232.39 L678.02 232.39 L678.15 232.39 L678.28 232.39 L678.41 232.39 L678.54 232.39 L678.67 232.39 L678.8 232.4" fill="none" stroke="#ff00ff" stroke-width="2.6" stroke-linejoin="round" stroke-dasharray="6.5 2.4" stroke-opacity="0.4"/>
<path d="M587.5 202.3 L587.63 202.6 L587.76 202.94 L587.89 203.3 L588.02 203.66 L588.15 204.01 L588.28 204.37 L588.41 204.73 L588.54 205.09 L588.68 205.46 L588.81 205.83 L588.94 206.21 L589.07 206.58 L589.2 206.96 L589.33 207.35 L589.46 207.73 L589.59 208.11 L589.72 208.5 L589.85 208.88 L589.98 209.27 L590.11 209.66 L590.24 210.05 L590.37 210.43 L590.5 210.82 L590.63 211.2 L590.77 211.59 L590.9 211.99 L591.03 212.39 L591.16 212.79 L591.29 213.2 L591.42 213.61 L591.55 214.02 L591.68 214.43 L591.81 214.84 L591.94 215.24 L592.07 215.65 L592.2 216.05 L592.33 216.45 L592.46 216.84 L592.59 217.22 L592.72 217.6 L592.86 217.97 L592.99 218.33 L593.12 218.68 L593.25 219.02 L593.38 219.36 L593.51 219.7 L593.64 220.05 L593.77 220.39 L593.9 220.73 L594.03 221.07 L594.16 221.4 L594.29 221.73 L594.42 222.05 L594.55 222.37 L594.68 222.67 L594.81 222.97 L594.95 223.26 L595.08 223.53 L595.21 223.8 L595.34 224.05 L595.47 224.28 L595.6 224.5 L595.73 224.7 L595.86 224.88 L595.99 225.06 L596.12 225.23 L596.25 225.4 L596.38 225.56 L596.51 225.72 L596.64 225.88 L596.77 226.03 L596.9 226.17 L597.03 226.31 L597.17 226.44 L597.3 226.57 L597.43 226.69 L597.56 226.81 L597.69 226.92 L597.82 227.02 L597.95 227.12 L598.08 227.21 L598.21 227.29 L598.34 227.37 L598.47 227.44 L598.6 227.51 L598.73 227.58 L598.86 227.64 L598.99 227.71 L599.12 227.77 L599.26 227.84 L599.39 227.9 L599.52 227.96 L599.65 228.02 L599.78 228.08 L599.91 228.14 L600.04 228.2 L600.17 228.25 L600.3 228.31 L600.43 228.36 L600.56 228.42 L600.69 228.47 L600.82 228.52 L600.95 228.57 L601.08 228.62 L601.21 228.67 L601.35 228.71 L601.48 228.76 L601.61 228.8 L601.74 228.85 L601.87 228.89 L602 228.93 L602.13 228.97 L602.26 229.01 L602.39 229.05 L602.52 229.09 L602.65 229.12 L602.78 229.16 L602.91 229.19 L603.04 229.22 L603.17 229.26 L603.3 229.29 L603.44 229.32 L603.57 229.35 L603.7 229.38 L603.83 229.4 L603.96 229.43 L604.09 229.45 L604.22 229.48 L604.35 229.5 L604.48 229.52 L604.61 229.54 L604.74 229.56 L604.87 229.58 L605 229.6 L605.13 229.62 L605.26 229.63 L605.39 229.65 L605.52 229.67 L605.66 229.69 L605.79 229.7 L605.92 229.72 L606.05 229.73 L606.18 229.75 L606.31 229.77 L606.44 229.78 L606.57 229.8 L606.7 229.81 L606.83 229.83 L606.96 229.84 L607.09 229.85 L607.22 229.87 L607.35 229.88 L607.48 229.9 L607.61 229.91 L607.75 229.92 L607.88 229.94 L608.01 229.95 L608.14 229.96 L608.27 229.98 L608.4 229.99 L608.53 230 L608.66 230.02 L608.79 230.03 L608.92 230.04 L609.05 230.05 L609.18 230.06 L609.31 230.07 L609.44 230.09 L609.57 230.1 L609.7 230.11 L609.84 230.12 L609.97 230.13 L610.1 230.14 L610.23 230.15 L610.36 230.16 L610.49 230.17 L610.62 230.18 L610.75 230.19 L610.88 230.2 L611.01 230.21 L611.14 230.22 L611.27 230.23 L611.4 230.24 L611.53 230.25 L611.66 230.26 L611.79 230.27 L611.93 230.28 L612.06 230.29 L612.19 230.3 L612.32 230.3 L612.45 230.31 L612.58 230.32 L612.71 230.33 L612.84 230.34 L612.97 230.35 L613.1 230.35 L613.23 230.36 L613.36 230.37 L613.49 230.38 L613.62 230.39 L613.75 230.39 L613.88 230.4 L614.01 230.41 L614.15 230.42 L614.28 230.42 L614.41 230.43 L614.54 230.44 L614.67 230.44 L614.8 230.45 L614.93 230.46 L615.06 230.46 L615.19 230.47 L615.32 230.48 L615.45 230.48 L615.58 230.49 L615.71 230.5 L615.84 230.5 L615.97 230.51 L616.1 230.52 L616.24 230.52 L616.37 230.53 L616.5 230.53 L616.63 230.54 L616.76 230.55 L616.89 230.55 L617.02 230.56 L617.15 230.56 L617.28 230.57 L617.41 230.57 L617.54 230.58 L617.67 230.59 L617.8 230.59 L617.93 230.6 L618.06 230.6 L618.19 230.61 L618.33 230.61 L618.46 230.62 L618.59 230.62 L618.72 230.63 L618.85 230.63 L618.98 230.64 L619.11 230.64 L619.24 230.65 L619.37 230.65 L619.5 230.65 L619.63 230.66 L619.76 230.66 L619.89 230.66 L620.02 230.67 L620.15 230.67 L620.28 230.68 L620.42 230.68 L620.55 230.68 L620.68 230.68 L620.81 230.69 L620.94 230.69 L621.07 230.69 L621.2 230.7 L621.33 230.7 L621.46 230.7 L621.59 230.7 L621.72 230.71 L621.85 230.71 L621.98 230.71 L622.11 230.71 L622.24 230.71 L622.37 230.72 L622.5 230.72 L622.64 230.72 L622.77 230.72 L622.9 230.73 L623.03 230.73 L623.16 230.73 L623.29 230.73 L623.42 230.73 L623.55 230.73 L623.68 230.74 L623.81 230.74 L623.94 230.74 L624.07 230.74 L624.2 230.74 L624.33 230.75 L624.46 230.75 L624.59 230.75 L624.73 230.75 L624.86 230.75 L624.99 230.76 L625.12 230.76 L625.25 230.76 L625.38 230.76 L625.51 230.77 L625.64 230.77 L625.77 230.77 L625.9 230.77 L626.03 230.78 L626.16 230.78 L626.29 230.78 L626.42 230.78 L626.55 230.79 L626.68 230.79 L626.82 230.79 L626.95 230.79 L627.08 230.8 L627.21 230.8 L627.34 230.8 L627.47 230.81 L627.6 230.81 L627.73 230.82 L627.86 230.82 L627.99 230.82 L628.12 230.83 L628.25 230.83 L628.38 230.84 L628.51 230.84 L628.64 230.84 L628.77 230.85 L628.91 230.85 L629.04 230.86 L629.17 230.86 L629.3 230.87 L629.43 230.87 L629.56 230.88 L629.69 230.89 L629.82 230.89 L629.95 230.9 L630.08 230.9 L630.21 230.91 L630.34 230.92 L630.47 230.92 L630.6 230.93 L630.73 230.94 L630.86 230.95 L630.99 230.95 L631.13 230.96 L631.26 230.97 L631.39 230.98 L631.52 230.99 L631.65 231 L631.78 231.01 L631.91 231.03 L632.04 231.05 L632.17 231.09 L632.3 231.13 L632.43 231.18 L632.56 231.24 L632.69 231.3 L632.82 231.36 L632.95 231.43 L633.08 231.5 L633.22 231.57 L633.35 231.65 L633.48 231.72 L633.61 231.79 L633.74 231.86 L633.87 231.93 L634 232" fill="none" stroke="#0000ff" stroke-width="2.6" stroke-linejoin="round" />
<path d="M634.13 228.89 L634.26 225.39 L634.39 222.43 L634.52 220.45 L634.65 218.97 L634.78 217.62 L634.91 216.39 L635.04 215.27 L635.17 214.24 L635.31 213.31 L635.44 212.45 L635.57 211.67 L635.7 210.95 L635.83 210.29 L635.96 209.67 L636.09 209.09 L636.22 208.53 L636.35 208 L636.48 207.47 L636.61 206.97 L636.74 206.48 L636.87 206 L637 205.54 L637.13 205.09 L637.26 204.66 L637.39 204.24 L637.53 203.83 L637.66 203.44 L637.79 203.06 L637.92 202.69 L638.05 202.33 L638.18 201.99 L638.31 201.65 L638.44 201.33 L638.57 201.02 L638.7 200.71 L638.83 200.42 L638.96 200.14 L639.09 199.87 L639.22 199.6 L639.35 199.35 L639.48 199.1 L639.62 198.86 L639.75 198.63 L639.88 198.4 L640.01 198.19 L640.14 197.98 L640.27 197.77 L640.4 197.56 L640.53 197.36 L640.66 197.16 L640.79 196.96 L640.92 196.77 L641.05 196.58 L641.18 196.39 L641.31 196.2 L641.44 196.02 L641.57 195.85 L641.71 195.67 L641.84 195.5 L641.97 195.33 L642.1 195.17 L642.23 195.01 L642.36 194.85 L642.49 194.7 L642.62 194.55 L642.75 194.4 L642.88 194.26 L643.01 194.12 L643.14 193.99 L643.27 193.86 L643.4 193.73 L643.53 193.61 L643.66 193.49 L643.8 193.37 L643.93 193.26 L644.06 193.15 L644.19 193.05 L644.32 192.95 L644.45 192.86 L644.58 192.76 L644.71 192.68 L644.84 192.6 L644.97 192.52 L645.1 192.44 L645.23 192.37 L645.36 192.29 L645.49 192.22 L645.62 192.15 L645.75 192.08 L645.88 192.01 L646.02 191.94 L646.15 191.87 L646.28 191.81 L646.41 191.74 L646.54 191.67 L646.67 191.61 L646.8 191.55 L646.93 191.48 L647.06 191.42 L647.19 191.36 L647.32 191.3 L647.45 191.24 L647.58 191.18 L647.71 191.13 L647.84 191.07 L647.97 191.01 L648.11 190.96 L648.24 190.91 L648.37 190.85 L648.5 190.8 L648.63 190.75 L648.76 190.7 L648.89 190.66 L649.02 190.61 L649.15 190.56 L649.28 190.52 L649.41 190.47 L649.54 190.43 L649.67 190.39 L649.8 190.35 L649.93 190.31 L650.06 190.27 L650.2 190.23 L650.33 190.19 L650.46 190.16 L650.59 190.12 L650.72 190.09 L650.85 190.06 L650.98 190.03 L651.11 190 L651.24 189.97 L651.37 189.94 L651.5 189.91 L651.63 189.89 L651.76 189.86 L651.89 189.84 L652.02 189.82 L652.15 189.8 L652.29 189.78 L652.42 189.76 L652.55 189.74 L652.68 189.73 L652.81 189.71 L652.94 189.69 L653.07 189.68 L653.2 189.66 L653.33 189.65 L653.46 189.63 L653.59 189.61 L653.72 189.6 L653.85 189.58 L653.98 189.57 L654.11 189.55 L654.24 189.54 L654.37 189.52 L654.51 189.51 L654.64 189.5 L654.77 189.48 L654.9 189.47 L655.03 189.46 L655.16 189.44 L655.29 189.43 L655.42 189.42 L655.55 189.41 L655.68 189.39 L655.81 189.38 L655.94 189.37 L656.07 189.36 L656.2 189.35 L656.33 189.34 L656.46 189.33 L656.6 189.32 L656.73 189.32 L656.86 189.31 L656.99 189.3 L657.12 189.29 L657.25 189.29 L657.38 189.28 L657.51 189.28 L657.64 189.27 L657.77 189.27 L657.9 189.26 L658.03 189.26 L658.16 189.26 L658.29 189.25 L658.42 189.25 L658.55 189.25 L658.69 189.25 L658.82 189.25 L658.95 189.25 L659.08 189.26 L659.21 189.26 L659.34 189.27 L659.47 189.28 L659.6 189.28 L659.73 189.3 L659.86 189.31 L659.99 189.32 L660.12 189.34 L660.25 189.35 L660.38 189.37 L660.51 189.39 L660.64 189.41 L660.78 189.43 L660.91 189.46 L661.04 189.48 L661.17 189.5 L661.3 189.53 L661.43 189.56 L661.56 189.58 L661.69 189.61 L661.82 189.64 L661.95 189.67 L662.08 189.7 L662.21 189.73 L662.34 189.77 L662.47 189.8 L662.6 189.83 L662.73 189.87 L662.86 189.9 L663 189.94 L663.13 189.97 L663.26 190.01 L663.39 190.04 L663.52 190.08 L663.65 190.12 L663.78 190.15 L663.91 190.19 L664.04 190.23 L664.17 190.26 L664.3 190.3 L664.43 190.34 L664.56 190.38 L664.69 190.41 L664.82 190.45 L664.95 190.49 L665.09 190.52 L665.22 190.56 L665.35 190.6 L665.48 190.64 L665.61 190.68 L665.74 190.72 L665.87 190.77 L666 190.81 L666.13 190.85 L666.26 190.9 L666.39 190.95 L666.52 190.99 L666.65 191.04 L666.78 191.09 L666.91 191.14 L667.04 191.19 L667.18 191.25 L667.31 191.3 L667.44 191.35 L667.57 191.41 L667.7 191.47 L667.83 191.52 L667.96 191.58 L668.09 191.64 L668.22 191.7 L668.35 191.76 L668.48 191.83 L668.61 191.89 L668.74 191.95 L668.87 192.02 L669 192.09 L669.13 192.15 L669.27 192.22 L669.4 192.29 L669.53 192.36 L669.66 192.43 L669.79 192.51 L669.92 192.58 L670.05 192.65 L670.18 192.73 L670.31 192.81 L670.44 192.88 L670.57 192.96 L670.7 193.04 L670.83 193.12 L670.96 193.21 L671.09 193.29 L671.22 193.37 L671.35 193.46 L671.49 193.54 L671.62 193.63 L671.75 193.72 L671.88 193.81 L672.01 193.9 L672.14 193.99 L672.27 194.08 L672.4 194.18 L672.53 194.27 L672.66 194.37 L672.79 194.47 L672.92 194.57 L673.05 194.68 L673.18 194.78 L673.31 194.9 L673.44 195.01 L673.58 195.12 L673.71 195.24 L673.84 195.37 L673.97 195.49 L674.1 195.62 L674.23 195.75 L674.36 195.88 L674.49 196.02 L674.62 196.16 L674.75 196.3 L674.88 196.45 L675.01 196.59 L675.14 196.75 L675.27 196.9 L675.4 197.06 L675.53 197.22 L675.67 197.38 L675.8 197.55 L675.93 197.72 L676.06 197.89 L676.19 198.07 L676.32 198.25 L676.45 198.43 L676.58 198.62 L676.71 198.81 L676.84 199 L676.97 199.2 L677.1 199.39 L677.23 199.6 L677.36 199.8 L677.49 200.01 L677.62 200.22 L677.76 200.44 L677.89 200.66 L678.02 200.88 L678.15 201.11 L678.28 201.34 L678.41 201.57 L678.54 201.81 L678.67 202.05 L678.8 202.3" fill="none" stroke="#0000ff" stroke-width="2.6" stroke-linejoin="round" />
<path d="M587.5 232.5 L587.63 232.5 L587.76 232.5 L587.89 232.5 L588.02 232.5 L588.15 232.5 L588.28 232.5 L588.41 232.5 L588.54 232.5 L588.68 232.5 L588.81 232.5 L588.94 232.5 L589.07 232.5 L589.2 232.5 L589.33 232.5 L589.46 232.5 L589.59 232.5 L589.72 232.5 L589.85 232.5 L589.98 232.5 L590.11 232.5 L590.24 232.5 L590.37 232.5 L590.5 232.5 L590.63 232.5 L590.77 232.5 L590.9 232.5 L591.03 232.5 L591.16 232.5 L591.29 232.5 L591.42 232.5 L591.55 232.5 L591.68 232.5 L591.81 232.5 L591.94 232.5 L592.07 232.5 L592.2 232.5 L592.33 232.5 L592.46 232.5 L592.59 232.5 L592.72 232.5 L592.86 232.5 L592.99 232.5 L593.12 232.5 L593.25 232.5 L593.38 232.5 L593.51 232.5 L593.64 232.5 L593.77 232.5 L593.9 232.5 L594.03 232.5 L594.16 232.5 L594.29 232.5 L594.42 232.5 L594.55 232.5 L594.68 232.5 L594.81 232.5 L594.95 232.5 L595.08 232.5 L595.21 232.5 L595.34 232.5 L595.47 232.35 L595.6 232.06 L595.73 231.76 L595.86 231.46 L595.99 231.16 L596.12 230.86 L596.25 230.55 L596.38 230.24 L596.51 229.94 L596.64 229.63 L596.77 229.32 L596.9 229.01 L597.03 228.69 L597.17 228.38 L597.3 228.07 L597.43 227.75 L597.56 227.44 L597.69 227.12 L597.82 226.8 L597.95 226.49 L598.08 226.17 L598.21 225.85 L598.34 225.53 L598.47 225.21 L598.6 224.89 L598.73 224.57 L598.86 224.26 L598.99 223.94 L599.12 223.62 L599.26 223.3 L599.39 222.98 L599.52 222.66 L599.65 222.34 L599.78 222.03 L599.91 221.71 L600.04 221.39 L600.17 221.07 L600.3 220.76 L600.43 220.44 L600.56 220.13 L600.69 219.81 L600.82 219.5 L600.95 219.19 L601.08 218.87 L601.21 218.56 L601.35 218.24 L601.48 217.93 L601.61 217.61 L601.74 217.3 L601.87 216.98 L602 216.67 L602.13 216.35 L602.26 216.04 L602.39 215.72 L602.52 215.41 L602.65 215.1 L602.78 214.78 L602.91 214.47 L603.04 214.15 L603.17 213.84 L603.3 213.52 L603.44 213.21 L603.57 212.89 L603.7 212.58 L603.83 212.26 L603.96 211.95 L604.09 211.63 L604.22 211.32 L604.35 211 L604.48 210.69 L604.61 210.38 L604.74 210.06 L604.87 209.75 L605 209.43 L605.13 209.12 L605.26 208.8 L605.39 208.49 L605.52 208.17 L605.66 207.86 L605.79 207.54 L605.92 207.23 L606.05 206.91 L606.18 206.6 L606.31 206.28 L606.44 205.97 L606.57 205.66 L606.7 205.34 L606.83 205.03 L606.96 204.71 L607.09 204.4 L607.22 204.08 L607.35 203.77 L607.48 203.45 L607.61 203.14 L607.75 202.82 L607.88 202.51 L608.01 202.19 L608.14 201.88 L608.27 201.57 L608.4 201.25 L608.53 200.94 L608.66 200.62 L608.79 200.31 L608.92 199.99 L609.05 199.68 L609.18 199.36 L609.31 199.05 L609.44 198.73 L609.57 198.42 L609.7 198.1 L609.84 197.79 L609.97 197.47 L610.1 197.16 L610.23 196.85 L610.36 196.53 L610.49 196.22 L610.62 195.9 L610.75 195.59 L610.88 195.27 L611.01 194.96 L611.14 194.64 L611.27 194.33 L611.4 194.01 L611.53 193.7 L611.66 193.38 L611.79 193.07 L611.93 192.75 L612.06 192.44 L612.19 192.13 L612.32 191.81 L612.45 191.5 L612.58 191.18 L612.71 190.87 L612.84 190.55 L612.97 190.24 L613.1 189.92 L613.23 189.61 L613.36 189.29 L613.49 188.98 L613.62 188.66 L613.75 188.35 L613.88 188.04 L614.01 187.72 L614.15 187.41 L614.28 187.09 L614.41 186.78 L614.54 186.46 L614.67 186.15 L614.8 185.83 L614.93 185.52 L615.06 185.2 L615.19 184.89 L615.32 184.57 L615.45 184.26 L615.58 183.94 L615.71 183.63 L615.84 183.32 L615.97 183 L616.1 182.69 L616.24 182.37 L616.37 182.06 L616.5 181.74 L616.63 181.43 L616.76 181.11 L616.89 180.8 L617.02 180.48 L617.15 180.17 L617.28 179.85 L617.41 179.54 L617.54 179.22 L617.67 178.91 L617.8 178.6 L617.93 178.28 L618.06 177.97 L618.19 177.65 L618.33 177.34 L618.46 177.02 L618.59 176.71 L618.72 176.39 L618.85 176.08 L618.98 175.76 L619.11 175.45 L619.24 175.13 L619.37 174.82 L619.5 174.5 L619.63 174.19 L619.76 173.88 L619.89 173.56 L620.02 173.25 L620.15 172.93 L620.28 172.62 L620.42 172.3 L620.55 171.99 L620.68 171.67 L620.81 171.36 L620.94 171.04 L621.07 170.73 L621.2 170.41 L621.33 170.1 L621.46 169.79 L621.59 169.47 L621.72 169.16 L621.85 168.84 L621.98 168.53 L622.11 168.21 L622.24 167.9 L622.37 167.58 L622.5 167.27 L622.64 166.95 L622.77 166.64 L622.9 166.32 L623.03 166.01 L623.16 165.69 L623.29 165.38 L623.42 165.07 L623.55 164.75 L623.68 164.44 L623.81 164.12 L623.94 163.81 L624.07 163.49 L624.2 163.18 L624.33 162.86 L624.46 162.55 L624.59 162.23 L624.73 161.92 L624.86 161.6 L624.99 161.29 L625.12 160.97 L625.25 160.66 L625.38 160.35 L625.51 160.03 L625.64 159.72 L625.77 159.4 L625.9 159.09 L626.03 158.77 L626.16 158.46 L626.29 158.14 L626.42 157.83 L626.55 157.51 L626.68 157.2 L626.82 156.88 L626.95 156.57 L627.08 156.26 L627.21 155.94 L627.34 155.63 L627.47 155.31 L627.6 155 L627.73 154.68 L627.86 154.37 L627.99 154.05 L628.12 153.74 L628.25 153.42 L628.38 153.11 L628.51 152.79 L628.64 152.48 L628.77 152.16 L628.91 151.85 L629.04 151.54 L629.17 151.22 L629.3 150.91 L629.43 150.59 L629.56 150.28 L629.69 149.96 L629.82 149.65 L629.95 149.33 L630.08 149.02 L630.21 148.7 L630.34 148.39 L630.47 148.07 L630.6 147.76 L630.73 147.45 L630.86 147.13 L630.99 146.82 L631.13 146.5 L631.26 146.19 L631.39 145.87 L631.52 145.56 L631.65 145.24 L631.78 144.93 L631.91 144.61 L632.04 144.3 L632.17 143.98 L632.3 143.67 L632.43 143.35 L632.56 143.04 L632.69 142.7 L632.82 142.28 L632.95 141.89 L633.08 141.6 L633.22 141.52 L633.35 142.79 L633.48 145.61 L633.61 149.27 L633.74 153.19 L633.87 158.64 L634 165.24 L634.13 171.84 L634.26 177.54 L634.39 183.14 L634.52 188.71 L634.65 194 L634.78 198.79 L634.91 202.84 L635.04 205.97 L635.17 208.76 L635.31 211.4 L635.44 213.86 L635.57 216.11 L635.7 218.12 L635.83 219.87 L635.96 221.34 L636.09 222.49 L636.22 223.3 L636.35 223.96 L636.48 224.59 L636.61 225.19 L636.74 225.76 L636.87 226.29 L637 226.8 L637.13 227.27 L637.26 227.71 L637.39 228.12 L637.53 228.5 L637.66 228.85 L637.79 229.16 L637.92 229.45 L638.05 229.71 L638.18 229.93 L638.31 230.13 L638.44 230.29 L638.57 230.43 L638.7 230.54 L638.83 230.62 L638.96 230.69 L639.09 230.75 L639.22 230.82 L639.35 230.88 L639.48 230.95 L639.62 231.01 L639.75 231.07 L639.88 231.12 L640.01 231.18 L640.14 231.24 L640.27 231.29 L640.4 231.34 L640.53 231.39 L640.66 231.44 L640.79 231.49 L640.92 231.53 L641.05 231.58 L641.18 231.62 L641.31 231.66 L641.44 231.7 L641.57 231.74 L641.71 231.78 L641.84 231.81 L641.97 231.85 L642.1 231.88 L642.23 231.91 L642.36 231.94 L642.49 231.97 L642.62 232 L642.75 232.03 L642.88 232.05 L643.01 232.08 L643.14 232.1 L643.27 232.12 L643.4 232.14 L643.53 232.16 L643.66 232.18 L643.8 232.19 L643.93 232.21 L644.06 232.22 L644.19 232.24 L644.32 232.25 L644.45 232.26 L644.58 232.27 L644.71 232.28 L644.84 232.28 L644.97 232.29 L645.1 232.29 L645.23 232.3 L645.36 232.3 L645.49 232.3 L645.62 232.3 L645.75 232.3 L645.88 232.31 L646.02 232.31 L646.15 232.31 L646.28 232.31 L646.41 232.31 L646.54 232.31 L646.67 232.32 L646.8 232.32 L646.93 232.32 L647.06 232.32 L647.19 232.32 L647.32 232.32 L647.45 232.32 L647.58 232.33 L647.71 232.33 L647.84 232.33 L647.97 232.33 L648.11 232.33 L648.24 232.33 L648.37 232.33 L648.5 232.34 L648.63 232.34 L648.76 232.34 L648.89 232.34 L649.02 232.34 L649.15 232.34 L649.28 232.34 L649.41 232.35 L649.54 232.35 L649.67 232.35 L649.8 232.35 L649.93 232.35 L650.06 232.35 L650.2 232.35 L650.33 232.36 L650.46 232.36 L650.59 232.36 L650.72 232.36 L650.85 232.36 L650.98 232.36 L651.11 232.36 L651.24 232.36 L651.37 232.37 L651.5 232.37 L651.63 232.37 L651.76 232.37 L651.89 232.37 L652.02 232.37 L652.15 232.37 L652.29 232.37 L652.42 232.38 L652.55 232.38 L652.68 232.38 L652.81 232.38 L652.94 232.38 L653.07 232.38 L653.2 232.38 L653.33 232.38 L653.46 232.38 L653.59 232.39 L653.72 232.39 L653.85 232.39 L653.98 232.39 L654.11 232.39 L654.24 232.39 L654.37 232.39 L654.51 232.39 L654.64 232.39 L654.77 232.4 L654.9 232.4 L655.03 232.4 L655.16 232.4 L655.29 232.4 L655.42 232.4 L655.55 232.4 L655.68 232.4 L655.81 232.4 L655.94 232.4 L656.07 232.41 L656.2 232.41 L656.33 232.41 L656.46 232.41 L656.6 232.41 L656.73 232.41 L656.86 232.41 L656.99 232.41 L657.12 232.41 L657.25 232.41 L657.38 232.42 L657.51 232.42 L657.64 232.42 L657.77 232.42 L657.9 232.42 L658.03 232.42 L658.16 232.42 L658.29 232.42 L658.42 232.42 L658.55 232.42 L658.69 232.42 L658.82 232.43 L658.95 232.43 L659.08 232.43 L659.21 232.43 L659.34 232.43 L659.47 232.43 L659.6 232.43 L659.73 232.43 L659.86 232.43 L659.99 232.43 L660.12 232.43 L660.25 232.43 L660.38 232.44 L660.51 232.44 L660.64 232.44 L660.78 232.44 L660.91 232.44 L661.04 232.44 L661.17 232.44 L661.3 232.44 L661.43 232.44 L661.56 232.44 L661.69 232.44 L661.82 232.44 L661.95 232.44 L662.08 232.44 L662.21 232.45 L662.34 232.45 L662.47 232.45 L662.6 232.45 L662.73 232.45 L662.86 232.45 L663 232.45 L663.13 232.45 L663.26 232.45 L663.39 232.45 L663.52 232.45 L663.65 232.45 L663.78 232.45 L663.91 232.45 L664.04 232.45 L664.17 232.46 L664.3 232.46 L664.43 232.46 L664.56 232.46 L664.69 232.46 L664.82 232.46 L664.95 232.46 L665.09 232.46 L665.22 232.46 L665.35 232.46 L665.48 232.46 L665.61 232.46 L665.74 232.46 L665.87 232.46 L666 232.46 L666.13 232.46 L666.26 232.46 L666.39 232.47 L666.52 232.47 L666.65 232.47 L666.78 232.47 L666.91 232.47 L667.04 232.47 L667.18 232.47 L667.31 232.47 L667.44 232.47 L667.57 232.47 L667.7 232.47 L667.83 232.47 L667.96 232.47 L668.09 232.47 L668.22 232.47 L668.35 232.47 L668.48 232.47 L668.61 232.47 L668.74 232.47 L668.87 232.47 L669 232.47 L669.13 232.48 L669.27 232.48 L669.4 232.48 L669.53 232.48 L669.66 232.48 L669.79 232.48 L669.92 232.48 L670.05 232.48 L670.18 232.48 L670.31 232.48 L670.44 232.48 L670.57 232.48 L670.7 232.48 L670.83 232.48 L670.96 232.48 L671.09 232.48 L671.22 232.48 L671.35 232.48 L671.49 232.48 L671.62 232.48 L671.75 232.48 L671.88 232.48 L672.01 232.48 L672.14 232.48 L672.27 232.48 L672.4 232.48 L672.53 232.49 L672.66 232.49 L672.79 232.49 L672.92 232.49 L673.05 232.49 L673.18 232.49 L673.31 232.49 L673.44 232.49 L673.58 232.49 L673.71 232.49 L673.84 232.49 L673.97 232.49 L674.1 232.49 L674.23 232.49 L674.36 232.49 L674.49 232.49 L674.62 232.49 L674.75 232.49 L674.88 232.49 L675.01 232.49 L675.14 232.49 L675.27 232.49 L675.4 232.49 L675.53 232.49 L675.67 232.49 L675.8 232.49 L675.93 232.49 L676.06 232.49 L676.19 232.49 L676.32 232.49 L676.45 232.49 L676.58 232.49 L676.71 232.49 L676.84 232.49 L676.97 232.49 L677.1 232.49 L677.23 232.49 L677.36 232.49 L677.49 232.49 L677.62 232.49 L677.76 232.49 L677.89 232.49 L678.02 232.5 L678.15 232.5 L678.28 232.5 L678.41 232.5 L678.54 232.5 L678.67 232.5 L678.8 232.5" fill="none" stroke="#ff00ff" stroke-width="2.6" stroke-linejoin="round" />
<path d="M621 186 H602.6 M606.8 181.8 L602.3 186 L606.8 190.2" fill="none" stroke="#000" stroke-width="2.1"/>
<g fill="#ff00ff" stroke="#b000b0" stroke-width="0.55">
<circle cx="81.4" cy="260.2" r="1.85"/><circle cx="84.8" cy="260.2" r="1.85"/><circle cx="87.9" cy="260.2" r="1.85"/><circle cx="90.9" cy="260.3" r="1.85"/><circle cx="82.6" cy="262.6" r="1.85"/><circle cx="86" cy="262.7" r="1.85"/><circle cx="89.1" cy="262.9" r="1.85"/><circle cx="93.2" cy="263.4" r="1.85"/><circle cx="80.1" cy="265.6" r="1.85"/><circle cx="84.4" cy="265.8" r="1.85"/><circle cx="87" cy="265.5" r="1.85"/><circle cx="91.2" cy="266" r="1.85"/><circle cx="81.8" cy="268.6" r="1.85"/><circle cx="85.3" cy="268.2" r="1.85"/><circle cx="88.8" cy="268.5" r="1.85"/><circle cx="92.6" cy="268.3" r="1.85"/><circle cx="81.4" cy="271.6" r="1.85"/><circle cx="84.7" cy="271.1" r="1.85"/><circle cx="87.1" cy="271.9" r="1.85"/><circle cx="90.3" cy="271.2" r="1.85"/><circle cx="82.8" cy="273.8" r="1.85"/><circle cx="86" cy="274" r="1.85"/><circle cx="89.6" cy="273.4" r="1.85"/><circle cx="93.2" cy="274.1" r="1.85"/><circle cx="81.4" cy="277.2" r="1.85"/><circle cx="84.1" cy="276.4" r="1.85"/><circle cx="87.4" cy="277.5" r="1.85"/><circle cx="90.1" cy="276.5" r="1.85"/><circle cx="83" cy="279.6" r="1.85"/><circle cx="86.2" cy="280.2" r="1.85"/><circle cx="89.4" cy="279.9" r="1.85"/><circle cx="93.1" cy="278.8" r="1.85"/><circle cx="81" cy="282.1" r="1.85"/><circle cx="84" cy="283.2" r="1.85"/><circle cx="87.9" cy="283.4" r="1.85"/><circle cx="90.5" cy="282" r="1.85"/><circle cx="82.6" cy="285.3" r="1.85"/><circle cx="85.9" cy="286.1" r="1.85"/><circle cx="89.3" cy="285.3" r="1.85"/><circle cx="92" cy="286" r="1.85"/><circle cx="80.2" cy="287.3" r="1.85"/><circle cx="85.6" cy="288" r="1.85"/><circle cx="87.9" cy="288.1" r="1.85"/><circle cx="90.7" cy="288.8" r="1.85"/><circle cx="82.8" cy="291.3" r="1.85"/><circle cx="85.8" cy="290.9" r="1.85"/><circle cx="88.7" cy="290.8" r="1.85"/><circle cx="92.5" cy="291.3" r="1.85"/><circle cx="80.8" cy="294.1" r="1.85"/><circle cx="84.4" cy="293.6" r="1.85"/><circle cx="87.3" cy="293.7" r="1.85"/><circle cx="92" cy="293.7" r="1.85"/><circle cx="83.5" cy="296.5" r="1.85"/><circle cx="84.9" cy="297" r="1.85"/><circle cx="89.1" cy="296.7" r="1.85"/><circle cx="92.9" cy="297.4" r="1.85"/><circle cx="81.1" cy="299.6" r="1.85"/><circle cx="84.3" cy="300" r="1.85"/><circle cx="87.7" cy="299.1" r="1.85"/><circle cx="90.6" cy="299.3" r="1.85"/><circle cx="83.3" cy="303" r="1.85"/><circle cx="85.5" cy="304.2" r="1.85"/><circle cx="88.7" cy="302.4" r="1.85"/><circle cx="91.8" cy="302.8" r="1.85"/><circle cx="81.6" cy="306.1" r="1.85"/><circle cx="84.3" cy="304.8" r="1.85"/><circle cx="87.7" cy="305.9" r="1.85"/><circle cx="91.8" cy="306.6" r="1.85"/><circle cx="82.8" cy="308.1" r="1.85"/><circle cx="85.3" cy="309.4" r="1.85"/><circle cx="89.1" cy="308.7" r="1.85"/><circle cx="92.4" cy="308.2" r="1.85"/><circle cx="80.4" cy="311.1" r="1.85"/><circle cx="84.1" cy="311.3" r="1.85"/><circle cx="88" cy="311.1" r="1.85"/><circle cx="90.6" cy="311" r="1.85"/><circle cx="82.9" cy="313.6" r="1.85"/><circle cx="86.1" cy="314.4" r="1.85"/><circle cx="88.2" cy="314.4" r="1.85"/><circle cx="91.8" cy="314.5" r="1.85"/><circle cx="80.4" cy="317" r="1.85"/><circle cx="84.4" cy="316.2" r="1.85"/><circle cx="87.3" cy="316.2" r="1.85"/><circle cx="90.7" cy="317.2" r="1.85"/><circle cx="82.6" cy="320" r="1.85"/><circle cx="86.3" cy="319.6" r="1.85"/><circle cx="89.3" cy="320.1" r="1.85"/><circle cx="92.1" cy="320.2" r="1.85"/><circle cx="80.5" cy="322.7" r="1.85"/><circle cx="84.3" cy="322.7" r="1.85"/><circle cx="87.1" cy="322.4" r="1.85"/><circle cx="89.7" cy="324.3" r="1.85"/><circle cx="82.3" cy="326" r="1.85"/><circle cx="85.1" cy="325.9" r="1.85"/><circle cx="89" cy="325.4" r="1.85"/><circle cx="92.1" cy="325.8" r="1.85"/><circle cx="80.7" cy="327.7" r="1.85"/><circle cx="83.9" cy="328.9" r="1.85"/><circle cx="88" cy="328.5" r="1.85"/><circle cx="90.5" cy="328.7" r="1.85"/><circle cx="82.3" cy="331" r="1.85"/><circle cx="86.2" cy="331" r="1.85"/><circle cx="89.1" cy="331.1" r="1.85"/><circle cx="92.4" cy="331.4" r="1.85"/><circle cx="80.2" cy="334.8" r="1.85"/><circle cx="83.2" cy="333.9" r="1.85"/><circle cx="86.2" cy="334.1" r="1.85"/><circle cx="90.9" cy="334.1" r="1.85"/><circle cx="93.1" cy="333.9" r="1.85"/><circle cx="81" cy="336.5" r="1.85"/><circle cx="84.6" cy="337.4" r="1.85"/><circle cx="88.2" cy="337.2" r="1.85"/><circle cx="91.8" cy="336.9" r="1.85"/><circle cx="80.2" cy="338.7" r="1.85"/><circle cx="82.2" cy="340.1" r="1.85"/><circle cx="85.8" cy="339.9" r="1.85"/><circle cx="89.4" cy="339.4" r="1.85"/><circle cx="93.1" cy="339.8" r="1.85"/><circle cx="81.1" cy="342.9" r="1.85"/><circle cx="83.8" cy="343.1" r="1.85"/><circle cx="87.5" cy="342.4" r="1.85"/><circle cx="91" cy="342.3" r="1.85"/><circle cx="78.6" cy="346.1" r="1.85"/><circle cx="81.2" cy="345.7" r="1.85"/><circle cx="86.2" cy="344.7" r="1.85"/><circle cx="89.1" cy="344.8" r="1.85"/><circle cx="92" cy="346" r="1.85"/><circle cx="80" cy="348.4" r="1.85"/><circle cx="83" cy="348.8" r="1.85"/><circle cx="86.2" cy="348.3" r="1.85"/><circle cx="89.9" cy="348" r="1.85"/><circle cx="93.3" cy="348.3" r="1.85"/><circle cx="77.5" cy="350.4" r="1.85"/><circle cx="81" cy="350.8" r="1.85"/><circle cx="83.5" cy="350.9" r="1.85"/><circle cx="88.5" cy="350.4" r="1.85"/><circle cx="91.3" cy="351.4" r="1.85"/><circle cx="67.9" cy="326.5" r="1.85"/>
</g>
<path fill="#0000ff" d="M43 261.5l2.0 2.5l-2.0 2.5l-2.0 -2.5zM46.4 260.2l2.0 2.5l-2.0 2.5l-2.0 -2.5zM49.1 259.5l2.0 2.5l-2.0 2.5l-2.0 -2.5zM52.4 260.9l2.0 2.5l-2.0 2.5l-2.0 -2.5zM55.1 260.6l2.0 2.5l-2.0 2.5l-2.0 -2.5zM43.7 265.6l2.0 2.5l-2.0 2.5l-2.0 -2.5zM47.7 267.6l2.0 2.5l-2.0 2.5l-2.0 -2.5zM61.8 262.9l2.0 2.5l-2.0 2.5l-2.0 -2.5zM62.5 265.6l2.0 2.5l-2.0 2.5l-2.0 -2.5zM69.2 264.9l2.0 2.5l-2.0 2.5l-2.0 -2.5zM43.7 271.6l2.0 2.5l-2.0 2.5l-2.0 -2.5zM51.1 272.3l2.0 2.5l-2.0 2.5l-2.0 -2.5zM57.8 270.3l2.0 2.5l-2.0 2.5l-2.0 -2.5zM65.2 270.3l2.0 2.5l-2.0 2.5l-2.0 -2.5zM43 275.6l2.0 2.5l-2.0 2.5l-2.0 -2.5zM47 275.6l2.0 2.5l-2.0 2.5l-2.0 -2.5zM53.1 275.6l2.0 2.5l-2.0 2.5l-2.0 -2.5zM58.5 277l2.0 2.5l-2.0 2.5l-2.0 -2.5zM44.4 280.3l2.0 2.5l-2.0 2.5l-2.0 -2.5zM47.7 279.7l2.0 2.5l-2.0 2.5l-2.0 -2.5zM60.5 279.7l2.0 2.5l-2.0 2.5l-2.0 -2.5zM53.1 283l2.0 2.5l-2.0 2.5l-2.0 -2.5zM61.1 286.4l2.0 2.5l-2.0 2.5l-2.0 -2.5zM69.9 287.7l2.0 2.5l-2.0 2.5l-2.0 -2.5zM43 287.7l2.0 2.5l-2.0 2.5l-2.0 -2.5zM49.1 289.1l2.0 2.5l-2.0 2.5l-2.0 -2.5zM54.4 289.7l2.0 2.5l-2.0 2.5l-2.0 -2.5zM58.5 291.1l2.0 2.5l-2.0 2.5l-2.0 -2.5zM63.2 291.8l2.0 2.5l-2.0 2.5l-2.0 -2.5zM67.9 291.1l2.0 2.5l-2.0 2.5l-2.0 -2.5zM45 294.4l2.0 2.5l-2.0 2.5l-2.0 -2.5zM50.4 295.1l2.0 2.5l-2.0 2.5l-2.0 -2.5zM55.8 294.4l2.0 2.5l-2.0 2.5l-2.0 -2.5zM61.1 294.4l2.0 2.5l-2.0 2.5l-2.0 -2.5zM42.3 298.5l2.0 2.5l-2.0 2.5l-2.0 -2.5zM47.7 298.5l2.0 2.5l-2.0 2.5l-2.0 -2.5zM53.1 299.1l2.0 2.5l-2.0 2.5l-2.0 -2.5zM58.5 298.5l2.0 2.5l-2.0 2.5l-2.0 -2.5zM68.5 298.5l2.0 2.5l-2.0 2.5l-2.0 -2.5zM45 302.5l2.0 2.5l-2.0 2.5l-2.0 -2.5zM51.1 302.5l2.0 2.5l-2.0 2.5l-2.0 -2.5zM55.8 301.8l2.0 2.5l-2.0 2.5l-2.0 -2.5zM69.2 301.8l2.0 2.5l-2.0 2.5l-2.0 -2.5zM41.7 263.6l2.0 2.5l-2.0 2.5l-2.0 -2.5zM41.7 268.9l2.0 2.5l-2.0 2.5l-2.0 -2.5zM41.7 282.4l2.0 2.5l-2.0 2.5l-2.0 -2.5zM41.7 293.1l2.0 2.5l-2.0 2.5l-2.0 -2.5zM76.6 259.5l2.0 2.5l-2.0 2.5l-2.0 -2.5zM76.6 263.6l2.0 2.5l-2.0 2.5l-2.0 -2.5zM77.3 267.6l2.0 2.5l-2.0 2.5l-2.0 -2.5zM77.3 270.3l2.0 2.5l-2.0 2.5l-2.0 -2.5zM77.9 274.3l2.0 2.5l-2.0 2.5l-2.0 -2.5zM77.9 278.3l2.0 2.5l-2.0 2.5l-2.0 -2.5zM77.3 282.4l2.0 2.5l-2.0 2.5l-2.0 -2.5zM77.3 286.4l2.0 2.5l-2.0 2.5l-2.0 -2.5zM76.6 290.4l2.0 2.5l-2.0 2.5l-2.0 -2.5zM77.3 294.4l2.0 2.5l-2.0 2.5l-2.0 -2.5zM77.3 298.5l2.0 2.5l-2.0 2.5l-2.0 -2.5zM76.6 302.5l2.0 2.5l-2.0 2.5l-2.0 -2.5zM75.6 261.5l2.0 2.5l-2.0 2.5l-2.0 -2.5zM75.6 268.9l2.0 2.5l-2.0 2.5l-2.0 -2.5zM75.9 279.7l2.0 2.5l-2.0 2.5l-2.0 -2.5zM75.6 289.1l2.0 2.5l-2.0 2.5l-2.0 -2.5zM75.9 297.1l2.0 2.5l-2.0 2.5l-2.0 -2.5zM93.4 258.9l2.0 2.5l-2.0 2.5l-2.0 -2.5zM94 263.6l2.0 2.5l-2.0 2.5l-2.0 -2.5zM93.4 267.6l2.0 2.5l-2.0 2.5l-2.0 -2.5zM94.7 275.6l2.0 2.5l-2.0 2.5l-2.0 -2.5zM95.4 278.3l2.0 2.5l-2.0 2.5l-2.0 -2.5zM94.7 285l2.0 2.5l-2.0 2.5l-2.0 -2.5zM97.4 294.4l2.0 2.5l-2.0 2.5l-2.0 -2.5zM98.7 298.5l2.0 2.5l-2.0 2.5l-2.0 -2.5zM98.1 301.8l2.0 2.5l-2.0 2.5l-2.0 -2.5zM104.1 260.9l2.0 2.5l-2.0 2.5l-2.0 -2.5zM107.5 260.9l2.0 2.5l-2.0 2.5l-2.0 -2.5zM112.2 261.5l2.0 2.5l-2.0 2.5l-2.0 -2.5zM121.6 258.9l2.0 2.5l-2.0 2.5l-2.0 -2.5zM131 259.5l2.0 2.5l-2.0 2.5l-2.0 -2.5zM101.4 267.6l2.0 2.5l-2.0 2.5l-2.0 -2.5zM106.8 268.9l2.0 2.5l-2.0 2.5l-2.0 -2.5zM113.5 266.9l2.0 2.5l-2.0 2.5l-2.0 -2.5zM118.2 266.2l2.0 2.5l-2.0 2.5l-2.0 -2.5zM122.9 264.2l2.0 2.5l-2.0 2.5l-2.0 -2.5zM128.3 268.9l2.0 2.5l-2.0 2.5l-2.0 -2.5zM131.7 264.9l2.0 2.5l-2.0 2.5l-2.0 -2.5zM104.1 275l2.0 2.5l-2.0 2.5l-2.0 -2.5zM112.2 275.6l2.0 2.5l-2.0 2.5l-2.0 -2.5zM119.6 273l2.0 2.5l-2.0 2.5l-2.0 -2.5zM124.3 271.6l2.0 2.5l-2.0 2.5l-2.0 -2.5zM129.6 274.3l2.0 2.5l-2.0 2.5l-2.0 -2.5zM132.3 270.3l2.0 2.5l-2.0 2.5l-2.0 -2.5zM109.5 281.7l2.0 2.5l-2.0 2.5l-2.0 -2.5zM114.2 279.7l2.0 2.5l-2.0 2.5l-2.0 -2.5zM121.6 279l2.0 2.5l-2.0 2.5l-2.0 -2.5zM127 281l2.0 2.5l-2.0 2.5l-2.0 -2.5zM131 278.3l2.0 2.5l-2.0 2.5l-2.0 -2.5zM113.5 287.7l2.0 2.5l-2.0 2.5l-2.0 -2.5zM120.2 283.7l2.0 2.5l-2.0 2.5l-2.0 -2.5zM124.3 286.4l2.0 2.5l-2.0 2.5l-2.0 -2.5zM128.3 285l2.0 2.5l-2.0 2.5l-2.0 -2.5zM132.3 286.4l2.0 2.5l-2.0 2.5l-2.0 -2.5zM116.2 294.4l2.0 2.5l-2.0 2.5l-2.0 -2.5zM121.6 291.8l2.0 2.5l-2.0 2.5l-2.0 -2.5zM127 290.4l2.0 2.5l-2.0 2.5l-2.0 -2.5zM131 293.1l2.0 2.5l-2.0 2.5l-2.0 -2.5zM112.2 299.8l2.0 2.5l-2.0 2.5l-2.0 -2.5zM118.9 298.5l2.0 2.5l-2.0 2.5l-2.0 -2.5zM124.3 297.1l2.0 2.5l-2.0 2.5l-2.0 -2.5zM129.6 299.8l2.0 2.5l-2.0 2.5l-2.0 -2.5zM133 298.5l2.0 2.5l-2.0 2.5l-2.0 -2.5zM110.8 303.2l2.0 2.5l-2.0 2.5l-2.0 -2.5zM121.6 302.5l2.0 2.5l-2.0 2.5l-2.0 -2.5zM127 303.2l2.0 2.5l-2.0 2.5l-2.0 -2.5zM42.3 305.2l2.0 2.5l-2.0 2.5l-2.0 -2.5zM46.4 304.5l2.0 2.5l-2.0 2.5l-2.0 -2.5zM50.4 303.8l2.0 2.5l-2.0 2.5l-2.0 -2.5zM53.8 303.2l2.0 2.5l-2.0 2.5l-2.0 -2.5zM57.1 305.2l2.0 2.5l-2.0 2.5l-2.0 -2.5zM61.1 304.5l2.0 2.5l-2.0 2.5l-2.0 -2.5zM65.2 306.5l2.0 2.5l-2.0 2.5l-2.0 -2.5zM67.9 303.8l2.0 2.5l-2.0 2.5l-2.0 -2.5zM43.7 310.6l2.0 2.5l-2.0 2.5l-2.0 -2.5zM47.7 308.5l2.0 2.5l-2.0 2.5l-2.0 -2.5zM51.7 309.2l2.0 2.5l-2.0 2.5l-2.0 -2.5zM54.4 311.2l2.0 2.5l-2.0 2.5l-2.0 -2.5zM58.5 310.6l2.0 2.5l-2.0 2.5l-2.0 -2.5zM63.2 309.2l2.0 2.5l-2.0 2.5l-2.0 -2.5zM67.9 308.5l2.0 2.5l-2.0 2.5l-2.0 -2.5zM47 315.3l2.0 2.5l-2.0 2.5l-2.0 -2.5zM52.4 314.6l2.0 2.5l-2.0 2.5l-2.0 -2.5zM56.4 315.9l2.0 2.5l-2.0 2.5l-2.0 -2.5zM61.1 314.6l2.0 2.5l-2.0 2.5l-2.0 -2.5zM65.2 315.9l2.0 2.5l-2.0 2.5l-2.0 -2.5zM70.5 317.3l2.0 2.5l-2.0 2.5l-2.0 -2.5zM43 320l2.0 2.5l-2.0 2.5l-2.0 -2.5zM47 319.3l2.0 2.5l-2.0 2.5l-2.0 -2.5zM54.4 320l2.0 2.5l-2.0 2.5l-2.0 -2.5zM58.5 319.3l2.0 2.5l-2.0 2.5l-2.0 -2.5zM62.5 321.3l2.0 2.5l-2.0 2.5l-2.0 -2.5zM65.8 323.3l2.0 2.5l-2.0 2.5l-2.0 -2.5zM44.4 325.3l2.0 2.5l-2.0 2.5l-2.0 -2.5zM49.1 324.7l2.0 2.5l-2.0 2.5l-2.0 -2.5zM57.1 327.3l2.0 2.5l-2.0 2.5l-2.0 -2.5zM63.2 326l2.0 2.5l-2.0 2.5l-2.0 -2.5zM42.3 330.7l2.0 2.5l-2.0 2.5l-2.0 -2.5zM46.4 330l2.0 2.5l-2.0 2.5l-2.0 -2.5zM51.1 332l2.0 2.5l-2.0 2.5l-2.0 -2.5zM55.8 330l2.0 2.5l-2.0 2.5l-2.0 -2.5zM61.1 333.4l2.0 2.5l-2.0 2.5l-2.0 -2.5zM66.5 331.4l2.0 2.5l-2.0 2.5l-2.0 -2.5zM43.7 336.1l2.0 2.5l-2.0 2.5l-2.0 -2.5zM47.7 335.4l2.0 2.5l-2.0 2.5l-2.0 -2.5zM51.7 334.7l2.0 2.5l-2.0 2.5l-2.0 -2.5zM57.1 334.7l2.0 2.5l-2.0 2.5l-2.0 -2.5zM62.5 336.1l2.0 2.5l-2.0 2.5l-2.0 -2.5zM67.9 337.4l2.0 2.5l-2.0 2.5l-2.0 -2.5zM45 340.8l2.0 2.5l-2.0 2.5l-2.0 -2.5zM49.7 340.1l2.0 2.5l-2.0 2.5l-2.0 -2.5zM54.4 341.4l2.0 2.5l-2.0 2.5l-2.0 -2.5zM61.1 340.8l2.0 2.5l-2.0 2.5l-2.0 -2.5zM65.8 342.8l2.0 2.5l-2.0 2.5l-2.0 -2.5zM69.9 341.4l2.0 2.5l-2.0 2.5l-2.0 -2.5zM73.2 341.4l2.0 2.5l-2.0 2.5l-2.0 -2.5zM43.7 345.5l2.0 2.5l-2.0 2.5l-2.0 -2.5zM49.1 346.1l2.0 2.5l-2.0 2.5l-2.0 -2.5zM53.1 345.5l2.0 2.5l-2.0 2.5l-2.0 -2.5zM57.1 346.8l2.0 2.5l-2.0 2.5l-2.0 -2.5zM61.1 345.5l2.0 2.5l-2.0 2.5l-2.0 -2.5zM46.4 349.5l2.0 2.5l-2.0 2.5l-2.0 -2.5zM54.4 349.5l2.0 2.5l-2.0 2.5l-2.0 -2.5zM41.7 315.9l2.0 2.5l-2.0 2.5l-2.0 -2.5zM41.7 326.7l2.0 2.5l-2.0 2.5l-2.0 -2.5zM41.7 342.8l2.0 2.5l-2.0 2.5l-2.0 -2.5zM75.9 307.9l2.0 2.5l-2.0 2.5l-2.0 -2.5zM76.6 314.6l2.0 2.5l-2.0 2.5l-2.0 -2.5zM77.3 320l2.0 2.5l-2.0 2.5l-2.0 -2.5zM75.2 325.3l2.0 2.5l-2.0 2.5l-2.0 -2.5zM75.2 329.4l2.0 2.5l-2.0 2.5l-2.0 -2.5zM74.6 340.1l2.0 2.5l-2.0 2.5l-2.0 -2.5zM73.9 342.8l2.0 2.5l-2.0 2.5l-2.0 -2.5zM73.2 345.5l2.0 2.5l-2.0 2.5l-2.0 -2.5zM76.2 303.8l2.0 2.5l-2.0 2.5l-2.0 -2.5zM76.6 310.6l2.0 2.5l-2.0 2.5l-2.0 -2.5zM76.2 322.6l2.0 2.5l-2.0 2.5l-2.0 -2.5zM96.1 330.7l2.0 2.5l-2.0 2.5l-2.0 -2.5zM98.1 332l2.0 2.5l-2.0 2.5l-2.0 -2.5zM100.1 333.4l2.0 2.5l-2.0 2.5l-2.0 -2.5zM94.7 336.1l2.0 2.5l-2.0 2.5l-2.0 -2.5zM96.1 338.8l2.0 2.5l-2.0 2.5l-2.0 -2.5zM94.7 341.4l2.0 2.5l-2.0 2.5l-2.0 -2.5zM94 344.1l2.0 2.5l-2.0 2.5l-2.0 -2.5zM93.4 347.5l2.0 2.5l-2.0 2.5l-2.0 -2.5zM97.4 334.7l2.0 2.5l-2.0 2.5l-2.0 -2.5zM98.7 337.4l2.0 2.5l-2.0 2.5l-2.0 -2.5zM95.4 333.4l2.0 2.5l-2.0 2.5l-2.0 -2.5zM94 338.8l2.0 2.5l-2.0 2.5l-2.0 -2.5zM92.7 309.2l2.0 2.5l-2.0 2.5l-2.0 -2.5zM93.4 306.5l2.0 2.5l-2.0 2.5l-2.0 -2.5zM92 315.9l2.0 2.5l-2.0 2.5l-2.0 -2.5zM100.1 307.9l2.0 2.5l-2.0 2.5l-2.0 -2.5zM101.4 314.6l2.0 2.5l-2.0 2.5l-2.0 -2.5zM102.8 317.3l2.0 2.5l-2.0 2.5l-2.0 -2.5zM105.5 325.3l2.0 2.5l-2.0 2.5l-2.0 -2.5zM104.1 328l2.0 2.5l-2.0 2.5l-2.0 -2.5zM110.8 305.2l2.0 2.5l-2.0 2.5l-2.0 -2.5zM110.2 310.6l2.0 2.5l-2.0 2.5l-2.0 -2.5zM113.5 313.2l2.0 2.5l-2.0 2.5l-2.0 -2.5zM110.8 317.3l2.0 2.5l-2.0 2.5l-2.0 -2.5zM116.2 305.2l2.0 2.5l-2.0 2.5l-2.0 -2.5zM120.2 306.5l2.0 2.5l-2.0 2.5l-2.0 -2.5zM121.6 310.6l2.0 2.5l-2.0 2.5l-2.0 -2.5zM127 307.9l2.0 2.5l-2.0 2.5l-2.0 -2.5zM129.6 306.5l2.0 2.5l-2.0 2.5l-2.0 -2.5zM132.3 305.2l2.0 2.5l-2.0 2.5l-2.0 -2.5zM116.2 321.3l2.0 2.5l-2.0 2.5l-2.0 -2.5zM118.9 324l2.0 2.5l-2.0 2.5l-2.0 -2.5zM122.9 322.6l2.0 2.5l-2.0 2.5l-2.0 -2.5zM127 320l2.0 2.5l-2.0 2.5l-2.0 -2.5zM129.6 317.3l2.0 2.5l-2.0 2.5l-2.0 -2.5zM132.3 314.6l2.0 2.5l-2.0 2.5l-2.0 -2.5zM108.2 329.4l2.0 2.5l-2.0 2.5l-2.0 -2.5zM112.2 330.7l2.0 2.5l-2.0 2.5l-2.0 -2.5zM114.9 333.4l2.0 2.5l-2.0 2.5l-2.0 -2.5zM121.6 329.4l2.0 2.5l-2.0 2.5l-2.0 -2.5zM127 328l2.0 2.5l-2.0 2.5l-2.0 -2.5zM131 326.7l2.0 2.5l-2.0 2.5l-2.0 -2.5zM104.1 336.1l2.0 2.5l-2.0 2.5l-2.0 -2.5zM106.8 338.8l2.0 2.5l-2.0 2.5l-2.0 -2.5zM110.8 337.4l2.0 2.5l-2.0 2.5l-2.0 -2.5zM116.2 336.1l2.0 2.5l-2.0 2.5l-2.0 -2.5zM120.2 338.8l2.0 2.5l-2.0 2.5l-2.0 -2.5zM124.3 334.7l2.0 2.5l-2.0 2.5l-2.0 -2.5zM128.3 336.1l2.0 2.5l-2.0 2.5l-2.0 -2.5zM132.3 333.4l2.0 2.5l-2.0 2.5l-2.0 -2.5zM102.8 342.8l2.0 2.5l-2.0 2.5l-2.0 -2.5zM106.8 345.5l2.0 2.5l-2.0 2.5l-2.0 -2.5zM110.8 342.8l2.0 2.5l-2.0 2.5l-2.0 -2.5zM116.2 344.1l2.0 2.5l-2.0 2.5l-2.0 -2.5zM121.6 342.8l2.0 2.5l-2.0 2.5l-2.0 -2.5zM125.6 345.5l2.0 2.5l-2.0 2.5l-2.0 -2.5zM129.6 342.8l2.0 2.5l-2.0 2.5l-2.0 -2.5zM132.3 341.4l2.0 2.5l-2.0 2.5l-2.0 -2.5zM109.5 348.8l2.0 2.5l-2.0 2.5l-2.0 -2.5zM114.9 348.2l2.0 2.5l-2.0 2.5l-2.0 -2.5zM121.6 348.2l2.0 2.5l-2.0 2.5l-2.0 -2.5zM128.3 348.8l2.0 2.5l-2.0 2.5l-2.0 -2.5zM43.5 263.4l2.0 2.5l-2.0 2.5l-2.0 -2.5zM50.3 258.1l2.0 2.5l-2.0 2.5l-2.0 -2.5zM51.6 259.1l2.0 2.5l-2.0 2.5l-2.0 -2.5zM53.5 261.6l2.0 2.5l-2.0 2.5l-2.0 -2.5zM43 267.3l2.0 2.5l-2.0 2.5l-2.0 -2.5zM47.6 269.5l2.0 2.5l-2.0 2.5l-2.0 -2.5zM60 262.5l2.0 2.5l-2.0 2.5l-2.0 -2.5zM62.2 267.4l2.0 2.5l-2.0 2.5l-2.0 -2.5zM67.3 265.2l2.0 2.5l-2.0 2.5l-2.0 -2.5zM49.3 271.6l2.0 2.5l-2.0 2.5l-2.0 -2.5zM66.7 271.4l2.0 2.5l-2.0 2.5l-2.0 -2.5zM44.3 277.1l2.0 2.5l-2.0 2.5l-2.0 -2.5zM45.3 274.8l2.0 2.5l-2.0 2.5l-2.0 -2.5zM52.7 273.8l2.0 2.5l-2.0 2.5l-2.0 -2.5zM56.8 277.9l2.0 2.5l-2.0 2.5l-2.0 -2.5zM61.4 281.3l2.0 2.5l-2.0 2.5l-2.0 -2.5zM61.2 284.5l2.0 2.5l-2.0 2.5l-2.0 -2.5zM68.7 289.2l2.0 2.5l-2.0 2.5l-2.0 -2.5zM44.7 286.9l2.0 2.5l-2.0 2.5l-2.0 -2.5zM50.1 290.7l2.0 2.5l-2.0 2.5l-2.0 -2.5zM52.9 290.9l2.0 2.5l-2.0 2.5l-2.0 -2.5zM60.3 290.7l2.0 2.5l-2.0 2.5l-2.0 -2.5zM62.7 289.9l2.0 2.5l-2.0 2.5l-2.0 -2.5zM50.1 293.2l2.0 2.5l-2.0 2.5l-2.0 -2.5zM59.8 293.1l2.0 2.5l-2.0 2.5l-2.0 -2.5zM67.2 299.8l2.0 2.5l-2.0 2.5l-2.0 -2.5zM46.5 301.3l2.0 2.5l-2.0 2.5l-2.0 -2.5zM50.9 304.4l2.0 2.5l-2.0 2.5l-2.0 -2.5zM55.3 303.7l2.0 2.5l-2.0 2.5l-2.0 -2.5zM42.6 265.2l2.0 2.5l-2.0 2.5l-2.0 -2.5zM39.8 268.6l2.0 2.5l-2.0 2.5l-2.0 -2.5zM43.1 281.1l2.0 2.5l-2.0 2.5l-2.0 -2.5zM39.9 292.4l2.0 2.5l-2.0 2.5l-2.0 -2.5zM77.8 268.4l2.0 2.5l-2.0 2.5l-2.0 -2.5zM76.3 275.2l2.0 2.5l-2.0 2.5l-2.0 -2.5zM78.9 280l2.0 2.5l-2.0 2.5l-2.0 -2.5zM78.9 283.3l2.0 2.5l-2.0 2.5l-2.0 -2.5zM77.2 288.3l2.0 2.5l-2.0 2.5l-2.0 -2.5zM75.4 291.9l2.0 2.5l-2.0 2.5l-2.0 -2.5zM76 295.8l2.0 2.5l-2.0 2.5l-2.0 -2.5zM76.9 296.6l2.0 2.5l-2.0 2.5l-2.0 -2.5zM75.9 300.7l2.0 2.5l-2.0 2.5l-2.0 -2.5zM77.1 260.3l2.0 2.5l-2.0 2.5l-2.0 -2.5zM74.1 270l2.0 2.5l-2.0 2.5l-2.0 -2.5zM74 280l2.0 2.5l-2.0 2.5l-2.0 -2.5zM74.2 298l2.0 2.5l-2.0 2.5l-2.0 -2.5zM91.6 259.6l2.0 2.5l-2.0 2.5l-2.0 -2.5zM92.1 263.6l2.0 2.5l-2.0 2.5l-2.0 -2.5zM92.6 265.8l2.0 2.5l-2.0 2.5l-2.0 -2.5zM93.2 274.5l2.0 2.5l-2.0 2.5l-2.0 -2.5zM96.7 279.7l2.0 2.5l-2.0 2.5l-2.0 -2.5zM96.5 284.4l2.0 2.5l-2.0 2.5l-2.0 -2.5zM99 300.1l2.0 2.5l-2.0 2.5l-2.0 -2.5zM111.3 259.8l2.0 2.5l-2.0 2.5l-2.0 -2.5zM119.9 258l2.0 2.5l-2.0 2.5l-2.0 -2.5zM101.7 269.5l2.0 2.5l-2.0 2.5l-2.0 -2.5zM108.4 267.9l2.0 2.5l-2.0 2.5l-2.0 -2.5zM119.1 264.5l2.0 2.5l-2.0 2.5l-2.0 -2.5zM121.7 262.8l2.0 2.5l-2.0 2.5l-2.0 -2.5zM128.7 270.8l2.0 2.5l-2.0 2.5l-2.0 -2.5zM133.4 265.7l2.0 2.5l-2.0 2.5l-2.0 -2.5zM105.8 275.8l2.0 2.5l-2.0 2.5l-2.0 -2.5zM113.1 274l2.0 2.5l-2.0 2.5l-2.0 -2.5zM120.9 274.3l2.0 2.5l-2.0 2.5l-2.0 -2.5zM122.4 271.1l2.0 2.5l-2.0 2.5l-2.0 -2.5zM130.2 276.1l2.0 2.5l-2.0 2.5l-2.0 -2.5zM133.6 268.9l2.0 2.5l-2.0 2.5l-2.0 -2.5zM107.6 281.6l2.0 2.5l-2.0 2.5l-2.0 -2.5zM121.3 277.1l2.0 2.5l-2.0 2.5l-2.0 -2.5zM127.4 279.2l2.0 2.5l-2.0 2.5l-2.0 -2.5zM129.1 277.8l2.0 2.5l-2.0 2.5l-2.0 -2.5zM114.8 286.3l2.0 2.5l-2.0 2.5l-2.0 -2.5zM126.2 286.2l2.0 2.5l-2.0 2.5l-2.0 -2.5zM129.2 283.4l2.0 2.5l-2.0 2.5l-2.0 -2.5zM118.1 294.3l2.0 2.5l-2.0 2.5l-2.0 -2.5zM119.7 291.8l2.0 2.5l-2.0 2.5l-2.0 -2.5zM127.8 288.7l2.0 2.5l-2.0 2.5l-2.0 -2.5zM130.3 291.3l2.0 2.5l-2.0 2.5l-2.0 -2.5zM111 301.3l2.0 2.5l-2.0 2.5l-2.0 -2.5zM119.1 300.4l2.0 2.5l-2.0 2.5l-2.0 -2.5zM124.5 295.2l2.0 2.5l-2.0 2.5l-2.0 -2.5zM134 300.1l2.0 2.5l-2.0 2.5l-2.0 -2.5zM112.5 304.1l2.0 2.5l-2.0 2.5l-2.0 -2.5zM120.3 303.9l2.0 2.5l-2.0 2.5l-2.0 -2.5zM128.5 302.1l2.0 2.5l-2.0 2.5l-2.0 -2.5zM51.9 303.1l2.0 2.5l-2.0 2.5l-2.0 -2.5zM58.6 306.3l2.0 2.5l-2.0 2.5l-2.0 -2.5zM62.3 303l2.0 2.5l-2.0 2.5l-2.0 -2.5zM67.1 306.6l2.0 2.5l-2.0 2.5l-2.0 -2.5zM68 301.9l2.0 2.5l-2.0 2.5l-2.0 -2.5zM44.3 312.4l2.0 2.5l-2.0 2.5l-2.0 -2.5zM46.2 307.3l2.0 2.5l-2.0 2.5l-2.0 -2.5zM52.9 310.1l2.0 2.5l-2.0 2.5l-2.0 -2.5zM56.7 311.2l2.0 2.5l-2.0 2.5l-2.0 -2.5zM63.9 307.5l2.0 2.5l-2.0 2.5l-2.0 -2.5zM66 308.6l2.0 2.5l-2.0 2.5l-2.0 -2.5zM45.2 315.1l2.0 2.5l-2.0 2.5l-2.0 -2.5zM60.6 316.4l2.0 2.5l-2.0 2.5l-2.0 -2.5zM63.9 317.3l2.0 2.5l-2.0 2.5l-2.0 -2.5zM68.7 317l2.0 2.5l-2.0 2.5l-2.0 -2.5zM58.4 321.2l2.0 2.5l-2.0 2.5l-2.0 -2.5zM60.7 322l2.0 2.5l-2.0 2.5l-2.0 -2.5zM45.5 323.8l2.0 2.5l-2.0 2.5l-2.0 -2.5zM49.6 326.5l2.0 2.5l-2.0 2.5l-2.0 -2.5zM57.9 325.6l2.0 2.5l-2.0 2.5l-2.0 -2.5zM43.2 329l2.0 2.5l-2.0 2.5l-2.0 -2.5zM50.5 333.9l2.0 2.5l-2.0 2.5l-2.0 -2.5zM60.7 335.2l2.0 2.5l-2.0 2.5l-2.0 -2.5zM67.8 332.8l2.0 2.5l-2.0 2.5l-2.0 -2.5zM42.5 337.6l2.0 2.5l-2.0 2.5l-2.0 -2.5zM46.2 334.3l2.0 2.5l-2.0 2.5l-2.0 -2.5zM50 335.5l2.0 2.5l-2.0 2.5l-2.0 -2.5zM44.8 338.9l2.0 2.5l-2.0 2.5l-2.0 -2.5zM49.4 342l2.0 2.5l-2.0 2.5l-2.0 -2.5zM56.2 340.8l2.0 2.5l-2.0 2.5l-2.0 -2.5zM66.1 344.7l2.0 2.5l-2.0 2.5l-2.0 -2.5zM74.5 340l2.0 2.5l-2.0 2.5l-2.0 -2.5zM44.9 344l2.0 2.5l-2.0 2.5l-2.0 -2.5zM48.8 348l2.0 2.5l-2.0 2.5l-2.0 -2.5zM55 345.4l2.0 2.5l-2.0 2.5l-2.0 -2.5zM60.4 347.2l2.0 2.5l-2.0 2.5l-2.0 -2.5zM48.2 349.9l2.0 2.5l-2.0 2.5l-2.0 -2.5zM56.3 350l2.0 2.5l-2.0 2.5l-2.0 -2.5zM40.9 328.4l2.0 2.5l-2.0 2.5l-2.0 -2.5zM75.8 306l2.0 2.5l-2.0 2.5l-2.0 -2.5zM76 316.4l2.0 2.5l-2.0 2.5l-2.0 -2.5zM78.2 321.6l2.0 2.5l-2.0 2.5l-2.0 -2.5zM76.6 324l2.0 2.5l-2.0 2.5l-2.0 -2.5zM73.9 338.3l2.0 2.5l-2.0 2.5l-2.0 -2.5zM72.8 343.6l2.0 2.5l-2.0 2.5l-2.0 -2.5zM77.8 312l2.0 2.5l-2.0 2.5l-2.0 -2.5zM96.8 332.4l2.0 2.5l-2.0 2.5l-2.0 -2.5zM93.7 337.7l2.0 2.5l-2.0 2.5l-2.0 -2.5zM94.3 339.4l2.0 2.5l-2.0 2.5l-2.0 -2.5zM92.9 340.9l2.0 2.5l-2.0 2.5l-2.0 -2.5zM92.4 343.2l2.0 2.5l-2.0 2.5l-2.0 -2.5zM92 346.2l2.0 2.5l-2.0 2.5l-2.0 -2.5zM97.2 336.3l2.0 2.5l-2.0 2.5l-2.0 -2.5zM95.7 337.8l2.0 2.5l-2.0 2.5l-2.0 -2.5zM94.7 305.2l2.0 2.5l-2.0 2.5l-2.0 -2.5zM91.1 314.3l2.0 2.5l-2.0 2.5l-2.0 -2.5zM102.3 312.9l2.0 2.5l-2.0 2.5l-2.0 -2.5zM103.4 315.5l2.0 2.5l-2.0 2.5l-2.0 -2.5zM106.1 323.5l2.0 2.5l-2.0 2.5l-2.0 -2.5zM102.3 328.6l2.0 2.5l-2.0 2.5l-2.0 -2.5zM111.2 312.1l2.0 2.5l-2.0 2.5l-2.0 -2.5zM118.1 304.9l2.0 2.5l-2.0 2.5l-2.0 -2.5zM121.7 305.3l2.0 2.5l-2.0 2.5l-2.0 -2.5zM128.8 308l2.0 2.5l-2.0 2.5l-2.0 -2.5zM131.4 305.7l2.0 2.5l-2.0 2.5l-2.0 -2.5zM117.4 319.8l2.0 2.5l-2.0 2.5l-2.0 -2.5zM117.8 325.5l2.0 2.5l-2.0 2.5l-2.0 -2.5zM124.8 322.2l2.0 2.5l-2.0 2.5l-2.0 -2.5zM129.5 319.2l2.0 2.5l-2.0 2.5l-2.0 -2.5zM108.6 331.2l2.0 2.5l-2.0 2.5l-2.0 -2.5zM111.8 328.8l2.0 2.5l-2.0 2.5l-2.0 -2.5zM123.4 328.7l2.0 2.5l-2.0 2.5l-2.0 -2.5zM128.7 328.7l2.0 2.5l-2.0 2.5l-2.0 -2.5zM109 337.7l2.0 2.5l-2.0 2.5l-2.0 -2.5zM117.7 334.8l2.0 2.5l-2.0 2.5l-2.0 -2.5zM121.9 339.6l2.0 2.5l-2.0 2.5l-2.0 -2.5zM134.1 334l2.0 2.5l-2.0 2.5l-2.0 -2.5zM108.7 345.1l2.0 2.5l-2.0 2.5l-2.0 -2.5zM109.1 343.5l2.0 2.5l-2.0 2.5l-2.0 -2.5zM117.7 345.3l2.0 2.5l-2.0 2.5l-2.0 -2.5zM120.5 344.4l2.0 2.5l-2.0 2.5l-2.0 -2.5zM126.9 346.9l2.0 2.5l-2.0 2.5l-2.0 -2.5zM132.7 343.3l2.0 2.5l-2.0 2.5l-2.0 -2.5zM110.8 350.2l2.0 2.5l-2.0 2.5l-2.0 -2.5zM113.8 346.6l2.0 2.5l-2.0 2.5l-2.0 -2.5zM119.7 348l2.0 2.5l-2.0 2.5l-2.0 -2.5zM128.4 346.9l2.0 2.5l-2.0 2.5l-2.0 -2.5z"/>
<g fill="#ff00ff" stroke="#b000b0" stroke-width="0.55">
<circle cx="224.3" cy="259.8" r="1.85"/><circle cx="228.8" cy="260.6" r="1.85"/><circle cx="226.6" cy="263" r="1.85"/><circle cx="230" cy="262.7" r="1.85"/><circle cx="224.2" cy="265.9" r="1.85"/><circle cx="228.2" cy="265.4" r="1.85"/><circle cx="225.8" cy="269" r="1.85"/><circle cx="229.7" cy="268.8" r="1.85"/><circle cx="225" cy="272.4" r="1.85"/><circle cx="227" cy="270.6" r="1.85"/><circle cx="226.3" cy="274.8" r="1.85"/><circle cx="229.7" cy="274.4" r="1.85"/><circle cx="225" cy="276.5" r="1.85"/><circle cx="228" cy="278" r="1.85"/><circle cx="225.7" cy="279.7" r="1.85"/><circle cx="229.4" cy="280.6" r="1.85"/><circle cx="225.2" cy="283.3" r="1.85"/><circle cx="228" cy="283.4" r="1.85"/><circle cx="226.7" cy="286.8" r="1.85"/><circle cx="229.4" cy="285.3" r="1.85"/><circle cx="224.5" cy="288.4" r="1.85"/><circle cx="228.2" cy="288" r="1.85"/><circle cx="225" cy="291.9" r="1.85"/><circle cx="230.3" cy="291.3" r="1.85"/><circle cx="224.8" cy="294.2" r="1.85"/><circle cx="227.5" cy="295.1" r="1.85"/><circle cx="226.5" cy="296.9" r="1.85"/><circle cx="230" cy="297" r="1.85"/><circle cx="224.5" cy="299.4" r="1.85"/><circle cx="228.5" cy="300.5" r="1.85"/><circle cx="227" cy="302.4" r="1.85"/><circle cx="229.1" cy="302.6" r="1.85"/><circle cx="224.4" cy="305.2" r="1.85"/><circle cx="227.5" cy="304.8" r="1.85"/><circle cx="226.5" cy="308.9" r="1.85"/><circle cx="230.8" cy="308.6" r="1.85"/><circle cx="225.5" cy="310.8" r="1.85"/><circle cx="227.4" cy="311.5" r="1.85"/><circle cx="226.7" cy="314.1" r="1.85"/><circle cx="230.4" cy="314.5" r="1.85"/><circle cx="224.2" cy="317" r="1.85"/><circle cx="228.3" cy="317.4" r="1.85"/><circle cx="226" cy="319.6" r="1.85"/><circle cx="229.3" cy="319.8" r="1.85"/><circle cx="225.3" cy="322.3" r="1.85"/><circle cx="227.7" cy="323.7" r="1.85"/><circle cx="226.5" cy="325.1" r="1.85"/><circle cx="229.7" cy="325.4" r="1.85"/><circle cx="223.8" cy="328.7" r="1.85"/><circle cx="228.8" cy="328.3" r="1.85"/><circle cx="225.6" cy="331.5" r="1.85"/><circle cx="229.3" cy="331.3" r="1.85"/><circle cx="224.7" cy="334.5" r="1.85"/><circle cx="227.9" cy="333.4" r="1.85"/><circle cx="226.2" cy="335.9" r="1.85"/><circle cx="229.4" cy="336.8" r="1.85"/><circle cx="224.9" cy="339.9" r="1.85"/><circle cx="228.1" cy="340" r="1.85"/><circle cx="226.8" cy="342.9" r="1.85"/><circle cx="229.6" cy="342" r="1.85"/><circle cx="225" cy="344.9" r="1.85"/><circle cx="228" cy="345.4" r="1.85"/><circle cx="226.6" cy="348.2" r="1.85"/><circle cx="228.5" cy="348.5" r="1.85"/><circle cx="224.5" cy="350.8" r="1.85"/><circle cx="228.9" cy="351.3" r="1.85"/><circle cx="309.9" cy="259.1" r="1.85"/><circle cx="312.2" cy="260.5" r="1.85"/><circle cx="311.5" cy="263" r="1.85"/><circle cx="313.2" cy="262.7" r="1.85"/><circle cx="309.3" cy="265.7" r="1.85"/><circle cx="312.9" cy="265.9" r="1.85"/><circle cx="310.4" cy="269.1" r="1.85"/><circle cx="313.5" cy="269.7" r="1.85"/><circle cx="309" cy="270.4" r="1.85"/><circle cx="312.8" cy="271.1" r="1.85"/><circle cx="311.4" cy="274" r="1.85"/><circle cx="315.6" cy="275.3" r="1.85"/><circle cx="309.5" cy="277.6" r="1.85"/><circle cx="312.8" cy="276" r="1.85"/><circle cx="310.5" cy="279.3" r="1.85"/><circle cx="314.4" cy="280" r="1.85"/><circle cx="309.6" cy="282.4" r="1.85"/><circle cx="311.6" cy="282.6" r="1.85"/><circle cx="310.8" cy="286" r="1.85"/><circle cx="313.9" cy="285.3" r="1.85"/><circle cx="310.1" cy="288.9" r="1.85"/><circle cx="312.1" cy="288.5" r="1.85"/><circle cx="311.1" cy="290.7" r="1.85"/><circle cx="313.6" cy="291.1" r="1.85"/><circle cx="308.4" cy="293.7" r="1.85"/><circle cx="312.4" cy="294.2" r="1.85"/><circle cx="311.3" cy="296.9" r="1.85"/><circle cx="313.8" cy="297.8" r="1.85"/><circle cx="308.5" cy="300.3" r="1.85"/><circle cx="311.2" cy="299.5" r="1.85"/><circle cx="309.9" cy="302.2" r="1.85"/><circle cx="314.4" cy="302.9" r="1.85"/><circle cx="309" cy="306.2" r="1.85"/><circle cx="312.6" cy="305" r="1.85"/><circle cx="310.5" cy="308.8" r="1.85"/><circle cx="314.5" cy="308.7" r="1.85"/><circle cx="310" cy="312" r="1.85"/><circle cx="312.5" cy="310.8" r="1.85"/><circle cx="311.1" cy="314.1" r="1.85"/><circle cx="314.4" cy="313.9" r="1.85"/><circle cx="308.6" cy="316.1" r="1.85"/><circle cx="313.6" cy="316.2" r="1.85"/><circle cx="311.1" cy="319.4" r="1.85"/><circle cx="313.6" cy="320.5" r="1.85"/><circle cx="309.3" cy="323" r="1.85"/><circle cx="311.6" cy="322.4" r="1.85"/><circle cx="310.8" cy="325.7" r="1.85"/><circle cx="314.2" cy="325.9" r="1.85"/><circle cx="310.2" cy="328.3" r="1.85"/><circle cx="311.7" cy="329" r="1.85"/><circle cx="311.4" cy="331.5" r="1.85"/><circle cx="314.8" cy="331.1" r="1.85"/><circle cx="309.7" cy="333.5" r="1.85"/><circle cx="311.8" cy="334.7" r="1.85"/><circle cx="310.7" cy="337.1" r="1.85"/><circle cx="314.2" cy="336.7" r="1.85"/><circle cx="309" cy="339.9" r="1.85"/><circle cx="311.8" cy="340.3" r="1.85"/><circle cx="309.8" cy="342.6" r="1.85"/><circle cx="314.4" cy="341.8" r="1.85"/><circle cx="309.3" cy="346.1" r="1.85"/><circle cx="312.8" cy="345" r="1.85"/><circle cx="310.6" cy="348.7" r="1.85"/><circle cx="313.7" cy="348.6" r="1.85"/><circle cx="309.4" cy="351.4" r="1.85"/><circle cx="313" cy="351.5" r="1.85"/><circle cx="235.8" cy="264" r="1.85"/>
</g>
<path fill="#0000ff" d="M235.8 260.2l2.0 2.5l-2.0 2.5l-2.0 -2.5zM253.9 259.5l2.0 2.5l-2.0 2.5l-2.0 -2.5zM258.6 260.9l2.0 2.5l-2.0 2.5l-2.0 -2.5zM261.9 259.5l2.0 2.5l-2.0 2.5l-2.0 -2.5zM266.6 258.2l2.0 2.5l-2.0 2.5l-2.0 -2.5zM270 261.5l2.0 2.5l-2.0 2.5l-2.0 -2.5zM274 263.6l2.0 2.5l-2.0 2.5l-2.0 -2.5zM278.7 263.6l2.0 2.5l-2.0 2.5l-2.0 -2.5zM282.8 265.6l2.0 2.5l-2.0 2.5l-2.0 -2.5zM286.1 262.9l2.0 2.5l-2.0 2.5l-2.0 -2.5zM292.8 264.9l2.0 2.5l-2.0 2.5l-2.0 -2.5zM295.5 262.9l2.0 2.5l-2.0 2.5l-2.0 -2.5zM241.1 268.3l2.0 2.5l-2.0 2.5l-2.0 -2.5zM247.2 266.9l2.0 2.5l-2.0 2.5l-2.0 -2.5zM250.5 267.6l2.0 2.5l-2.0 2.5l-2.0 -2.5zM255.9 263.6l2.0 2.5l-2.0 2.5l-2.0 -2.5zM260.6 268.9l2.0 2.5l-2.0 2.5l-2.0 -2.5zM263.3 269.6l2.0 2.5l-2.0 2.5l-2.0 -2.5zM268.7 266.2l2.0 2.5l-2.0 2.5l-2.0 -2.5zM272 267.6l2.0 2.5l-2.0 2.5l-2.0 -2.5zM276 268.3l2.0 2.5l-2.0 2.5l-2.0 -2.5zM279.4 268.9l2.0 2.5l-2.0 2.5l-2.0 -2.5zM284.1 271.6l2.0 2.5l-2.0 2.5l-2.0 -2.5zM288.1 273l2.0 2.5l-2.0 2.5l-2.0 -2.5zM292.2 272.3l2.0 2.5l-2.0 2.5l-2.0 -2.5zM298.2 270.3l2.0 2.5l-2.0 2.5l-2.0 -2.5zM232.4 272.3l2.0 2.5l-2.0 2.5l-2.0 -2.5zM240.5 274.3l2.0 2.5l-2.0 2.5l-2.0 -2.5zM254.6 275.6l2.0 2.5l-2.0 2.5l-2.0 -2.5zM257.9 273l2.0 2.5l-2.0 2.5l-2.0 -2.5zM262.6 275.6l2.0 2.5l-2.0 2.5l-2.0 -2.5zM267.3 274.3l2.0 2.5l-2.0 2.5l-2.0 -2.5zM271.3 275.6l2.0 2.5l-2.0 2.5l-2.0 -2.5zM274.7 274.3l2.0 2.5l-2.0 2.5l-2.0 -2.5zM278.1 275.6l2.0 2.5l-2.0 2.5l-2.0 -2.5zM280.7 277l2.0 2.5l-2.0 2.5l-2.0 -2.5zM232.4 286.4l2.0 2.5l-2.0 2.5l-2.0 -2.5zM230.4 284.4l2.0 2.5l-2.0 2.5l-2.0 -2.5zM246.5 281.7l2.0 2.5l-2.0 2.5l-2.0 -2.5zM251.2 283.7l2.0 2.5l-2.0 2.5l-2.0 -2.5zM256.6 285l2.0 2.5l-2.0 2.5l-2.0 -2.5zM263.3 279.7l2.0 2.5l-2.0 2.5l-2.0 -2.5zM266 283.7l2.0 2.5l-2.0 2.5l-2.0 -2.5zM269.3 281l2.0 2.5l-2.0 2.5l-2.0 -2.5zM274 283.7l2.0 2.5l-2.0 2.5l-2.0 -2.5zM276.7 286.4l2.0 2.5l-2.0 2.5l-2.0 -2.5zM279.4 284.4l2.0 2.5l-2.0 2.5l-2.0 -2.5zM295.5 285l2.0 2.5l-2.0 2.5l-2.0 -2.5zM236.4 293.8l2.0 2.5l-2.0 2.5l-2.0 -2.5zM248.5 291.8l2.0 2.5l-2.0 2.5l-2.0 -2.5zM251.9 293.1l2.0 2.5l-2.0 2.5l-2.0 -2.5zM255.2 287.7l2.0 2.5l-2.0 2.5l-2.0 -2.5zM257.9 291.8l2.0 2.5l-2.0 2.5l-2.0 -2.5zM262.6 289.1l2.0 2.5l-2.0 2.5l-2.0 -2.5zM268.7 289.1l2.0 2.5l-2.0 2.5l-2.0 -2.5zM271.3 290.4l2.0 2.5l-2.0 2.5l-2.0 -2.5zM273.4 287.7l2.0 2.5l-2.0 2.5l-2.0 -2.5zM276.7 290.4l2.0 2.5l-2.0 2.5l-2.0 -2.5zM279.4 293.1l2.0 2.5l-2.0 2.5l-2.0 -2.5zM288.8 290.4l2.0 2.5l-2.0 2.5l-2.0 -2.5zM290.2 289.7l2.0 2.5l-2.0 2.5l-2.0 -2.5zM288.1 291.8l2.0 2.5l-2.0 2.5l-2.0 -2.5zM290.8 291.8l2.0 2.5l-2.0 2.5l-2.0 -2.5zM231.1 295.8l2.0 2.5l-2.0 2.5l-2.0 -2.5zM244.5 295.8l2.0 2.5l-2.0 2.5l-2.0 -2.5zM249.9 298.5l2.0 2.5l-2.0 2.5l-2.0 -2.5zM253.9 295.8l2.0 2.5l-2.0 2.5l-2.0 -2.5zM259.3 295.8l2.0 2.5l-2.0 2.5l-2.0 -2.5zM263.3 298.5l2.0 2.5l-2.0 2.5l-2.0 -2.5zM267.3 295.8l2.0 2.5l-2.0 2.5l-2.0 -2.5zM270 299.8l2.0 2.5l-2.0 2.5l-2.0 -2.5zM278.1 299.8l2.0 2.5l-2.0 2.5l-2.0 -2.5zM284.8 299.1l2.0 2.5l-2.0 2.5l-2.0 -2.5zM292.8 295.8l2.0 2.5l-2.0 2.5l-2.0 -2.5zM296.9 299.8l2.0 2.5l-2.0 2.5l-2.0 -2.5zM231.1 302.5l2.0 2.5l-2.0 2.5l-2.0 -2.5zM244.5 303.2l2.0 2.5l-2.0 2.5l-2.0 -2.5zM249.9 301.8l2.0 2.5l-2.0 2.5l-2.0 -2.5zM256.6 302.5l2.0 2.5l-2.0 2.5l-2.0 -2.5zM263.3 301.8l2.0 2.5l-2.0 2.5l-2.0 -2.5zM274 302.5l2.0 2.5l-2.0 2.5l-2.0 -2.5zM282.1 302.5l2.0 2.5l-2.0 2.5l-2.0 -2.5zM290.2 301.8l2.0 2.5l-2.0 2.5l-2.0 -2.5zM295.5 302.5l2.0 2.5l-2.0 2.5l-2.0 -2.5zM306.3 268.9l2.0 2.5l-2.0 2.5l-2.0 -2.5zM305.6 275.6l2.0 2.5l-2.0 2.5l-2.0 -2.5zM306.3 279l2.0 2.5l-2.0 2.5l-2.0 -2.5zM306.9 282.4l2.0 2.5l-2.0 2.5l-2.0 -2.5zM306.3 287.7l2.0 2.5l-2.0 2.5l-2.0 -2.5zM306.3 290.4l2.0 2.5l-2.0 2.5l-2.0 -2.5zM307.6 301.2l2.0 2.5l-2.0 2.5l-2.0 -2.5zM231.7 299.8l2.0 2.5l-2.0 2.5l-2.0 -2.5zM231.3 291.8l2.0 2.5l-2.0 2.5l-2.0 -2.5zM231.1 303.8l2.0 2.5l-2.0 2.5l-2.0 -2.5zM231.7 307.9l2.0 2.5l-2.0 2.5l-2.0 -2.5zM232.4 311.9l2.0 2.5l-2.0 2.5l-2.0 -2.5zM231.1 315.9l2.0 2.5l-2.0 2.5l-2.0 -2.5zM231.7 320l2.0 2.5l-2.0 2.5l-2.0 -2.5zM232.4 324l2.0 2.5l-2.0 2.5l-2.0 -2.5zM233.1 328l2.0 2.5l-2.0 2.5l-2.0 -2.5zM232.4 332l2.0 2.5l-2.0 2.5l-2.0 -2.5zM233.1 336.1l2.0 2.5l-2.0 2.5l-2.0 -2.5zM234.4 341.4l2.0 2.5l-2.0 2.5l-2.0 -2.5zM232.4 345.5l2.0 2.5l-2.0 2.5l-2.0 -2.5zM231.3 305.9l2.0 2.5l-2.0 2.5l-2.0 -2.5zM232.1 309.9l2.0 2.5l-2.0 2.5l-2.0 -2.5zM231.3 317.9l2.0 2.5l-2.0 2.5l-2.0 -2.5zM232.7 326l2.0 2.5l-2.0 2.5l-2.0 -2.5zM232.7 334.1l2.0 2.5l-2.0 2.5l-2.0 -2.5zM233.5 338.8l2.0 2.5l-2.0 2.5l-2.0 -2.5zM244.5 303.8l2.0 2.5l-2.0 2.5l-2.0 -2.5zM251.2 304.5l2.0 2.5l-2.0 2.5l-2.0 -2.5zM255.2 306.5l2.0 2.5l-2.0 2.5l-2.0 -2.5zM259.3 303.8l2.0 2.5l-2.0 2.5l-2.0 -2.5zM263.3 305.2l2.0 2.5l-2.0 2.5l-2.0 -2.5zM267.3 304.5l2.0 2.5l-2.0 2.5l-2.0 -2.5zM270.7 303.2l2.0 2.5l-2.0 2.5l-2.0 -2.5zM276 304.5l2.0 2.5l-2.0 2.5l-2.0 -2.5zM279.4 305.9l2.0 2.5l-2.0 2.5l-2.0 -2.5zM286.1 303.8l2.0 2.5l-2.0 2.5l-2.0 -2.5zM291.5 304.5l2.0 2.5l-2.0 2.5l-2.0 -2.5zM296.9 305.2l2.0 2.5l-2.0 2.5l-2.0 -2.5zM300.9 306.5l2.0 2.5l-2.0 2.5l-2.0 -2.5zM245.8 310.6l2.0 2.5l-2.0 2.5l-2.0 -2.5zM252.5 309.2l2.0 2.5l-2.0 2.5l-2.0 -2.5zM257.2 311.9l2.0 2.5l-2.0 2.5l-2.0 -2.5zM261.9 310.6l2.0 2.5l-2.0 2.5l-2.0 -2.5zM266 309.9l2.0 2.5l-2.0 2.5l-2.0 -2.5zM271.3 310.6l2.0 2.5l-2.0 2.5l-2.0 -2.5zM275.4 312.6l2.0 2.5l-2.0 2.5l-2.0 -2.5zM278.1 313.2l2.0 2.5l-2.0 2.5l-2.0 -2.5zM283.4 309.9l2.0 2.5l-2.0 2.5l-2.0 -2.5zM286.8 311.9l2.0 2.5l-2.0 2.5l-2.0 -2.5zM290.2 313.2l2.0 2.5l-2.0 2.5l-2.0 -2.5zM295.5 310.6l2.0 2.5l-2.0 2.5l-2.0 -2.5zM300.2 312.6l2.0 2.5l-2.0 2.5l-2.0 -2.5zM240.5 317.9l2.0 2.5l-2.0 2.5l-2.0 -2.5zM249.9 317.3l2.0 2.5l-2.0 2.5l-2.0 -2.5zM255.2 318.6l2.0 2.5l-2.0 2.5l-2.0 -2.5zM259.3 315.9l2.0 2.5l-2.0 2.5l-2.0 -2.5zM263.3 318.6l2.0 2.5l-2.0 2.5l-2.0 -2.5zM268 317.3l2.0 2.5l-2.0 2.5l-2.0 -2.5zM271.3 318.6l2.0 2.5l-2.0 2.5l-2.0 -2.5zM275.4 315.9l2.0 2.5l-2.0 2.5l-2.0 -2.5zM280.7 317.3l2.0 2.5l-2.0 2.5l-2.0 -2.5zM284.8 315.9l2.0 2.5l-2.0 2.5l-2.0 -2.5zM288.8 315.3l2.0 2.5l-2.0 2.5l-2.0 -2.5zM292.8 318.6l2.0 2.5l-2.0 2.5l-2.0 -2.5zM298.2 317.3l2.0 2.5l-2.0 2.5l-2.0 -2.5zM303.6 316.6l2.0 2.5l-2.0 2.5l-2.0 -2.5zM306.9 315.3l2.0 2.5l-2.0 2.5l-2.0 -2.5zM245.8 326l2.0 2.5l-2.0 2.5l-2.0 -2.5zM248.5 324l2.0 2.5l-2.0 2.5l-2.0 -2.5zM253.9 322.6l2.0 2.5l-2.0 2.5l-2.0 -2.5zM259.3 325.3l2.0 2.5l-2.0 2.5l-2.0 -2.5zM264.6 322.6l2.0 2.5l-2.0 2.5l-2.0 -2.5zM267.3 325.3l2.0 2.5l-2.0 2.5l-2.0 -2.5zM270.7 324l2.0 2.5l-2.0 2.5l-2.0 -2.5zM275.4 322.6l2.0 2.5l-2.0 2.5l-2.0 -2.5zM279.4 325.3l2.0 2.5l-2.0 2.5l-2.0 -2.5zM282.8 322.6l2.0 2.5l-2.0 2.5l-2.0 -2.5zM286.1 324l2.0 2.5l-2.0 2.5l-2.0 -2.5zM290.2 325.3l2.0 2.5l-2.0 2.5l-2.0 -2.5zM295.5 323.3l2.0 2.5l-2.0 2.5l-2.0 -2.5zM300.9 324.7l2.0 2.5l-2.0 2.5l-2.0 -2.5zM304.9 322.6l2.0 2.5l-2.0 2.5l-2.0 -2.5zM241.8 331.4l2.0 2.5l-2.0 2.5l-2.0 -2.5zM247.2 332.7l2.0 2.5l-2.0 2.5l-2.0 -2.5zM252.5 330.7l2.0 2.5l-2.0 2.5l-2.0 -2.5zM256.6 333.4l2.0 2.5l-2.0 2.5l-2.0 -2.5zM263.3 329.4l2.0 2.5l-2.0 2.5l-2.0 -2.5zM266 332l2.0 2.5l-2.0 2.5l-2.0 -2.5zM268.7 334.7l2.0 2.5l-2.0 2.5l-2.0 -2.5zM272.7 330.7l2.0 2.5l-2.0 2.5l-2.0 -2.5zM276.7 329.4l2.0 2.5l-2.0 2.5l-2.0 -2.5zM279.4 333.4l2.0 2.5l-2.0 2.5l-2.0 -2.5zM283.4 332l2.0 2.5l-2.0 2.5l-2.0 -2.5zM288.8 330.7l2.0 2.5l-2.0 2.5l-2.0 -2.5zM292.8 333.4l2.0 2.5l-2.0 2.5l-2.0 -2.5zM298.2 330.7l2.0 2.5l-2.0 2.5l-2.0 -2.5zM302.2 333.4l2.0 2.5l-2.0 2.5l-2.0 -2.5zM304.9 336.1l2.0 2.5l-2.0 2.5l-2.0 -2.5zM243.1 338.1l2.0 2.5l-2.0 2.5l-2.0 -2.5zM249.9 337.4l2.0 2.5l-2.0 2.5l-2.0 -2.5zM255.2 338.8l2.0 2.5l-2.0 2.5l-2.0 -2.5zM259.3 340.1l2.0 2.5l-2.0 2.5l-2.0 -2.5zM263.3 337.4l2.0 2.5l-2.0 2.5l-2.0 -2.5zM267.3 338.8l2.0 2.5l-2.0 2.5l-2.0 -2.5zM271.3 336.1l2.0 2.5l-2.0 2.5l-2.0 -2.5zM275.4 338.8l2.0 2.5l-2.0 2.5l-2.0 -2.5zM279.4 340.1l2.0 2.5l-2.0 2.5l-2.0 -2.5zM283.4 337.4l2.0 2.5l-2.0 2.5l-2.0 -2.5zM290.2 338.8l2.0 2.5l-2.0 2.5l-2.0 -2.5zM296.9 336.1l2.0 2.5l-2.0 2.5l-2.0 -2.5zM302.2 337.4l2.0 2.5l-2.0 2.5l-2.0 -2.5zM303.6 340.1l2.0 2.5l-2.0 2.5l-2.0 -2.5zM244.5 344.1l2.0 2.5l-2.0 2.5l-2.0 -2.5zM252.5 344.1l2.0 2.5l-2.0 2.5l-2.0 -2.5zM257.9 342.8l2.0 2.5l-2.0 2.5l-2.0 -2.5zM261.9 345.5l2.0 2.5l-2.0 2.5l-2.0 -2.5zM264.6 342.8l2.0 2.5l-2.0 2.5l-2.0 -2.5zM268.7 345.5l2.0 2.5l-2.0 2.5l-2.0 -2.5zM274 342.8l2.0 2.5l-2.0 2.5l-2.0 -2.5zM276.7 345.5l2.0 2.5l-2.0 2.5l-2.0 -2.5zM284.8 345.5l2.0 2.5l-2.0 2.5l-2.0 -2.5zM292.8 342.8l2.0 2.5l-2.0 2.5l-2.0 -2.5zM296.9 346.8l2.0 2.5l-2.0 2.5l-2.0 -2.5zM303.6 342.8l2.0 2.5l-2.0 2.5l-2.0 -2.5zM244.5 348.8l2.0 2.5l-2.0 2.5l-2.0 -2.5zM259.3 348.2l2.0 2.5l-2.0 2.5l-2.0 -2.5zM267.3 348.8l2.0 2.5l-2.0 2.5l-2.0 -2.5zM270 349.5l2.0 2.5l-2.0 2.5l-2.0 -2.5zM291.5 348.8l2.0 2.5l-2.0 2.5l-2.0 -2.5zM307.6 348.8l2.0 2.5l-2.0 2.5l-2.0 -2.5zM303.6 334.7l2.0 2.5l-2.0 2.5l-2.0 -2.5zM304.9 338.8l2.0 2.5l-2.0 2.5l-2.0 -2.5zM305.6 341.4l2.0 2.5l-2.0 2.5l-2.0 -2.5zM304.3 332.7l2.0 2.5l-2.0 2.5l-2.0 -2.5zM302.9 336.7l2.0 2.5l-2.0 2.5l-2.0 -2.5zM235 258.4l2.0 2.5l-2.0 2.5l-2.0 -2.5zM252 259.1l2.0 2.5l-2.0 2.5l-2.0 -2.5zM262.6 261.3l2.0 2.5l-2.0 2.5l-2.0 -2.5zM265.7 259.9l2.0 2.5l-2.0 2.5l-2.0 -2.5zM271.9 261.8l2.0 2.5l-2.0 2.5l-2.0 -2.5zM273 262l2.0 2.5l-2.0 2.5l-2.0 -2.5zM281.4 264.2l2.0 2.5l-2.0 2.5l-2.0 -2.5zM285.9 264.8l2.0 2.5l-2.0 2.5l-2.0 -2.5zM293.2 266.8l2.0 2.5l-2.0 2.5l-2.0 -2.5zM296.7 264.4l2.0 2.5l-2.0 2.5l-2.0 -2.5zM248.8 268l2.0 2.5l-2.0 2.5l-2.0 -2.5zM251.4 265.9l2.0 2.5l-2.0 2.5l-2.0 -2.5zM255.8 265.5l2.0 2.5l-2.0 2.5l-2.0 -2.5zM259.7 267.2l2.0 2.5l-2.0 2.5l-2.0 -2.5zM264.3 268l2.0 2.5l-2.0 2.5l-2.0 -2.5zM268.7 264.3l2.0 2.5l-2.0 2.5l-2.0 -2.5zM277.6 269.6l2.0 2.5l-2.0 2.5l-2.0 -2.5zM282.9 270.1l2.0 2.5l-2.0 2.5l-2.0 -2.5zM289.8 273.9l2.0 2.5l-2.0 2.5l-2.0 -2.5zM293.5 273.6l2.0 2.5l-2.0 2.5l-2.0 -2.5zM299.3 268.7l2.0 2.5l-2.0 2.5l-2.0 -2.5zM233 270.5l2.0 2.5l-2.0 2.5l-2.0 -2.5zM252.9 276.5l2.0 2.5l-2.0 2.5l-2.0 -2.5zM257.7 271.1l2.0 2.5l-2.0 2.5l-2.0 -2.5zM263.3 273.9l2.0 2.5l-2.0 2.5l-2.0 -2.5zM267.9 276.1l2.0 2.5l-2.0 2.5l-2.0 -2.5zM269.9 274.4l2.0 2.5l-2.0 2.5l-2.0 -2.5zM279.7 276.6l2.0 2.5l-2.0 2.5l-2.0 -2.5zM279.7 278.6l2.0 2.5l-2.0 2.5l-2.0 -2.5zM234.2 286.9l2.0 2.5l-2.0 2.5l-2.0 -2.5zM230.9 282.5l2.0 2.5l-2.0 2.5l-2.0 -2.5zM248.4 281.9l2.0 2.5l-2.0 2.5l-2.0 -2.5zM265 278.8l2.0 2.5l-2.0 2.5l-2.0 -2.5zM264.1 283.5l2.0 2.5l-2.0 2.5l-2.0 -2.5zM268.4 282.7l2.0 2.5l-2.0 2.5l-2.0 -2.5zM278.5 285.6l2.0 2.5l-2.0 2.5l-2.0 -2.5zM281.1 283.5l2.0 2.5l-2.0 2.5l-2.0 -2.5zM293.6 285.3l2.0 2.5l-2.0 2.5l-2.0 -2.5zM238.3 293.8l2.0 2.5l-2.0 2.5l-2.0 -2.5zM253.7 292.4l2.0 2.5l-2.0 2.5l-2.0 -2.5zM254.7 285.9l2.0 2.5l-2.0 2.5l-2.0 -2.5zM264.2 290.2l2.0 2.5l-2.0 2.5l-2.0 -2.5zM270.9 292.3l2.0 2.5l-2.0 2.5l-2.0 -2.5zM275.2 287.4l2.0 2.5l-2.0 2.5l-2.0 -2.5zM275 291.2l2.0 2.5l-2.0 2.5l-2.0 -2.5zM279.1 295l2.0 2.5l-2.0 2.5l-2.0 -2.5zM291.8 290.6l2.0 2.5l-2.0 2.5l-2.0 -2.5zM289.3 293.2l2.0 2.5l-2.0 2.5l-2.0 -2.5zM292.4 290.7l2.0 2.5l-2.0 2.5l-2.0 -2.5zM232.2 297.3l2.0 2.5l-2.0 2.5l-2.0 -2.5zM242.8 294.9l2.0 2.5l-2.0 2.5l-2.0 -2.5zM248.2 299.4l2.0 2.5l-2.0 2.5l-2.0 -2.5zM254.7 294.1l2.0 2.5l-2.0 2.5l-2.0 -2.5zM260.5 294.4l2.0 2.5l-2.0 2.5l-2.0 -2.5zM261.5 299l2.0 2.5l-2.0 2.5l-2.0 -2.5zM268.4 294.2l2.0 2.5l-2.0 2.5l-2.0 -2.5zM268.1 299.6l2.0 2.5l-2.0 2.5l-2.0 -2.5zM277.3 298.1l2.0 2.5l-2.0 2.5l-2.0 -2.5zM230.3 304.3l2.0 2.5l-2.0 2.5l-2.0 -2.5zM245.1 301.4l2.0 2.5l-2.0 2.5l-2.0 -2.5zM257 300.6l2.0 2.5l-2.0 2.5l-2.0 -2.5zM264.4 300.3l2.0 2.5l-2.0 2.5l-2.0 -2.5zM274.1 304.4l2.0 2.5l-2.0 2.5l-2.0 -2.5zM281 300.9l2.0 2.5l-2.0 2.5l-2.0 -2.5zM291.9 301.1l2.0 2.5l-2.0 2.5l-2.0 -2.5zM306.6 270.8l2.0 2.5l-2.0 2.5l-2.0 -2.5zM307.4 274.9l2.0 2.5l-2.0 2.5l-2.0 -2.5zM307.2 277.4l2.0 2.5l-2.0 2.5l-2.0 -2.5zM308.7 283l2.0 2.5l-2.0 2.5l-2.0 -2.5zM306.2 289.6l2.0 2.5l-2.0 2.5l-2.0 -2.5zM308.8 302.6l2.0 2.5l-2.0 2.5l-2.0 -2.5zM233.1 292.5l2.0 2.5l-2.0 2.5l-2.0 -2.5zM230 308.6l2.0 2.5l-2.0 2.5l-2.0 -2.5zM231.7 310.1l2.0 2.5l-2.0 2.5l-2.0 -2.5zM232.8 315.2l2.0 2.5l-2.0 2.5l-2.0 -2.5zM232.6 322.1l2.0 2.5l-2.0 2.5l-2.0 -2.5zM233.1 330.3l2.0 2.5l-2.0 2.5l-2.0 -2.5zM232.5 334.3l2.0 2.5l-2.0 2.5l-2.0 -2.5zM233.9 346.7l2.0 2.5l-2.0 2.5l-2.0 -2.5zM229.7 316.9l2.0 2.5l-2.0 2.5l-2.0 -2.5zM233.2 327.8l2.0 2.5l-2.0 2.5l-2.0 -2.5zM233.6 336.9l2.0 2.5l-2.0 2.5l-2.0 -2.5zM244.8 302l2.0 2.5l-2.0 2.5l-2.0 -2.5zM250.1 306.1l2.0 2.5l-2.0 2.5l-2.0 -2.5zM255.2 308.4l2.0 2.5l-2.0 2.5l-2.0 -2.5zM260 305.6l2.0 2.5l-2.0 2.5l-2.0 -2.5zM264.5 303.7l2.0 2.5l-2.0 2.5l-2.0 -2.5zM265.8 303.4l2.0 2.5l-2.0 2.5l-2.0 -2.5zM271.5 301.5l2.0 2.5l-2.0 2.5l-2.0 -2.5zM277.8 303.9l2.0 2.5l-2.0 2.5l-2.0 -2.5zM291.7 302.6l2.0 2.5l-2.0 2.5l-2.0 -2.5zM298.7 305.7l2.0 2.5l-2.0 2.5l-2.0 -2.5zM247.6 309.9l2.0 2.5l-2.0 2.5l-2.0 -2.5zM250.6 309.3l2.0 2.5l-2.0 2.5l-2.0 -2.5zM263 309l2.0 2.5l-2.0 2.5l-2.0 -2.5zM267 308.3l2.0 2.5l-2.0 2.5l-2.0 -2.5zM279.7 312.2l2.0 2.5l-2.0 2.5l-2.0 -2.5zM281.9 308.8l2.0 2.5l-2.0 2.5l-2.0 -2.5zM288.6 312.2l2.0 2.5l-2.0 2.5l-2.0 -2.5zM293.6 310.4l2.0 2.5l-2.0 2.5l-2.0 -2.5zM299.4 310.9l2.0 2.5l-2.0 2.5l-2.0 -2.5zM239.7 319.7l2.0 2.5l-2.0 2.5l-2.0 -2.5zM251.8 317.1l2.0 2.5l-2.0 2.5l-2.0 -2.5zM256.1 320.3l2.0 2.5l-2.0 2.5l-2.0 -2.5zM258.1 314.4l2.0 2.5l-2.0 2.5l-2.0 -2.5zM264.8 317.5l2.0 2.5l-2.0 2.5l-2.0 -2.5zM267.2 315.5l2.0 2.5l-2.0 2.5l-2.0 -2.5zM272.3 320.2l2.0 2.5l-2.0 2.5l-2.0 -2.5zM283.1 315.1l2.0 2.5l-2.0 2.5l-2.0 -2.5zM288.1 317l2.0 2.5l-2.0 2.5l-2.0 -2.5zM292.7 320.5l2.0 2.5l-2.0 2.5l-2.0 -2.5zM296.5 318.1l2.0 2.5l-2.0 2.5l-2.0 -2.5zM303.9 318.5l2.0 2.5l-2.0 2.5l-2.0 -2.5zM305.6 313.9l2.0 2.5l-2.0 2.5l-2.0 -2.5zM244.3 327.2l2.0 2.5l-2.0 2.5l-2.0 -2.5zM247.2 322.6l2.0 2.5l-2.0 2.5l-2.0 -2.5zM255.7 323.3l2.0 2.5l-2.0 2.5l-2.0 -2.5zM264.7 324.5l2.0 2.5l-2.0 2.5l-2.0 -2.5zM269.2 325.2l2.0 2.5l-2.0 2.5l-2.0 -2.5zM269.1 325.1l2.0 2.5l-2.0 2.5l-2.0 -2.5zM279.4 327.2l2.0 2.5l-2.0 2.5l-2.0 -2.5zM283.7 321l2.0 2.5l-2.0 2.5l-2.0 -2.5zM284.5 324.9l2.0 2.5l-2.0 2.5l-2.0 -2.5zM288.3 324.8l2.0 2.5l-2.0 2.5l-2.0 -2.5zM297.4 323.2l2.0 2.5l-2.0 2.5l-2.0 -2.5zM304.9 324.5l2.0 2.5l-2.0 2.5l-2.0 -2.5zM243.3 332.5l2.0 2.5l-2.0 2.5l-2.0 -2.5zM245.4 332l2.0 2.5l-2.0 2.5l-2.0 -2.5zM257.2 335.2l2.0 2.5l-2.0 2.5l-2.0 -2.5zM262.7 331.2l2.0 2.5l-2.0 2.5l-2.0 -2.5zM267.6 333.1l2.0 2.5l-2.0 2.5l-2.0 -2.5zM271.5 329.2l2.0 2.5l-2.0 2.5l-2.0 -2.5zM277 327.5l2.0 2.5l-2.0 2.5l-2.0 -2.5zM279.6 335.3l2.0 2.5l-2.0 2.5l-2.0 -2.5zM283.6 333.9l2.0 2.5l-2.0 2.5l-2.0 -2.5zM288.8 332.6l2.0 2.5l-2.0 2.5l-2.0 -2.5zM291.3 332.3l2.0 2.5l-2.0 2.5l-2.0 -2.5zM299.9 331.5l2.0 2.5l-2.0 2.5l-2.0 -2.5zM304 332.6l2.0 2.5l-2.0 2.5l-2.0 -2.5zM244.2 339.7l2.0 2.5l-2.0 2.5l-2.0 -2.5zM251.1 338.8l2.0 2.5l-2.0 2.5l-2.0 -2.5zM256.9 337.9l2.0 2.5l-2.0 2.5l-2.0 -2.5zM261.5 336.8l2.0 2.5l-2.0 2.5l-2.0 -2.5zM266.7 336.9l2.0 2.5l-2.0 2.5l-2.0 -2.5zM271.2 334.2l2.0 2.5l-2.0 2.5l-2.0 -2.5zM276.7 340.2l2.0 2.5l-2.0 2.5l-2.0 -2.5zM278.5 338.4l2.0 2.5l-2.0 2.5l-2.0 -2.5zM284.1 339.2l2.0 2.5l-2.0 2.5l-2.0 -2.5zM288.7 340l2.0 2.5l-2.0 2.5l-2.0 -2.5zM301.3 335.8l2.0 2.5l-2.0 2.5l-2.0 -2.5zM305 341.3l2.0 2.5l-2.0 2.5l-2.0 -2.5zM243.3 345.6l2.0 2.5l-2.0 2.5l-2.0 -2.5zM254.1 345.2l2.0 2.5l-2.0 2.5l-2.0 -2.5zM256.1 342.3l2.0 2.5l-2.0 2.5l-2.0 -2.5zM260.7 344l2.0 2.5l-2.0 2.5l-2.0 -2.5zM262.8 343.3l2.0 2.5l-2.0 2.5l-2.0 -2.5zM269.1 343.6l2.0 2.5l-2.0 2.5l-2.0 -2.5zM275.8 342.1l2.0 2.5l-2.0 2.5l-2.0 -2.5zM278.5 344.8l2.0 2.5l-2.0 2.5l-2.0 -2.5zM283.6 347l2.0 2.5l-2.0 2.5l-2.0 -2.5zM294.6 342l2.0 2.5l-2.0 2.5l-2.0 -2.5zM295.4 348l2.0 2.5l-2.0 2.5l-2.0 -2.5zM304.7 344.3l2.0 2.5l-2.0 2.5l-2.0 -2.5zM242.7 349.4l2.0 2.5l-2.0 2.5l-2.0 -2.5zM265.5 349.4l2.0 2.5l-2.0 2.5l-2.0 -2.5zM270 351.4l2.0 2.5l-2.0 2.5l-2.0 -2.5zM292.9 347.5l2.0 2.5l-2.0 2.5l-2.0 -2.5zM308.5 350.5l2.0 2.5l-2.0 2.5l-2.0 -2.5zM301.7 334.4l2.0 2.5l-2.0 2.5l-2.0 -2.5zM304.1 337l2.0 2.5l-2.0 2.5l-2.0 -2.5zM306.2 332.7l2.0 2.5l-2.0 2.5l-2.0 -2.5zM302 338.4l2.0 2.5l-2.0 2.5l-2.0 -2.5z"/>
<g fill="#ff00ff" stroke="#b000b0" stroke-width="0.55">
<circle cx="418.4" cy="262" r="1.85"/><circle cx="422.5" cy="262" r="1.85"/><circle cx="419.8" cy="266.1" r="1.85"/><circle cx="417.1" cy="268.7" r="1.85"/><circle cx="422.5" cy="268.7" r="1.85"/><circle cx="418.4" cy="272.8" r="1.85"/><circle cx="422.5" cy="274.1" r="1.85"/><circle cx="415.7" cy="278.1" r="1.85"/><circle cx="420.4" cy="278.1" r="1.85"/><circle cx="417.1" cy="282.2" r="1.85"/><circle cx="416.4" cy="286.2" r="1.85"/><circle cx="421.1" cy="286.2" r="1.85"/><circle cx="425.1" cy="286.9" r="1.85"/><circle cx="418.4" cy="290.2" r="1.85"/><circle cx="423.8" cy="291.6" r="1.85"/><circle cx="419.8" cy="295.6" r="1.85"/><circle cx="422.5" cy="298.3" r="1.85"/><circle cx="417.8" cy="301" r="1.85"/><circle cx="422.5" cy="302.3" r="1.85"/><circle cx="419.8" cy="305" r="1.85"/><circle cx="450.7" cy="262" r="1.85"/><circle cx="450.7" cy="266.1" r="1.85"/><circle cx="454.7" cy="267.4" r="1.85"/><circle cx="448" cy="270.1" r="1.85"/><circle cx="456" cy="270.8" r="1.85"/><circle cx="450.7" cy="274.1" r="1.85"/><circle cx="455.4" cy="275.5" r="1.85"/><circle cx="449.3" cy="279.5" r="1.85"/><circle cx="453.3" cy="282.2" r="1.85"/><circle cx="458" cy="281.5" r="1.85"/><circle cx="448" cy="284.9" r="1.85"/><circle cx="453.3" cy="284.9" r="1.85"/><circle cx="457.4" cy="286.2" r="1.85"/><circle cx="452" cy="290.2" r="1.85"/><circle cx="455.4" cy="292.9" r="1.85"/><circle cx="449.3" cy="294.3" r="1.85"/><circle cx="453.3" cy="296.9" r="1.85"/><circle cx="450.7" cy="301" r="1.85"/><circle cx="454.7" cy="301" r="1.85"/><circle cx="452" cy="304.3" r="1.85"/><circle cx="482.9" cy="260.7" r="1.85"/><circle cx="485.6" cy="264.7" r="1.85"/><circle cx="480.2" cy="266.1" r="1.85"/><circle cx="484.2" cy="270.1" r="1.85"/><circle cx="481.6" cy="272.8" r="1.85"/><circle cx="478.9" cy="276.8" r="1.85"/><circle cx="482.9" cy="279.5" r="1.85"/><circle cx="480.2" cy="283.5" r="1.85"/><circle cx="485.6" cy="284.9" r="1.85"/><circle cx="481.6" cy="287.5" r="1.85"/><circle cx="478.2" cy="292.9" r="1.85"/><circle cx="484.2" cy="291.6" r="1.85"/><circle cx="486.9" cy="290.2" r="1.85"/><circle cx="480.2" cy="296.9" r="1.85"/><circle cx="485.6" cy="296.9" r="1.85"/><circle cx="482.9" cy="301" r="1.85"/><circle cx="485.6" cy="304.3" r="1.85"/><circle cx="495" cy="274.1" r="1.85"/><circle cx="420.4" cy="260" r="1.85"/><circle cx="419.1" cy="270.8" r="1.85"/><circle cx="418.4" cy="280.2" r="1.85"/><circle cx="423.1" cy="282.8" r="1.85"/><circle cx="421.1" cy="293.6" r="1.85"/><circle cx="421.1" cy="303.7" r="1.85"/><circle cx="452.7" cy="260" r="1.85"/><circle cx="452.7" cy="272.1" r="1.85"/><circle cx="451.3" cy="277.5" r="1.85"/><circle cx="455.4" cy="288.2" r="1.85"/><circle cx="451.3" cy="299" r="1.85"/><circle cx="482.2" cy="263.4" r="1.85"/><circle cx="482.2" cy="268.1" r="1.85"/><circle cx="484.2" cy="274.8" r="1.85"/><circle cx="483.6" cy="285.5" r="1.85"/><circle cx="482.2" cy="294.3" r="1.85"/><circle cx="484.2" cy="303" r="1.85"/><circle cx="419.8" cy="306.3" r="1.85"/><circle cx="422.5" cy="309" r="1.85"/><circle cx="419.8" cy="311.7" r="1.85"/><circle cx="422.5" cy="314.4" r="1.85"/><circle cx="420.4" cy="317.1" r="1.85"/><circle cx="423.8" cy="319.8" r="1.85"/><circle cx="421.1" cy="322.5" r="1.85"/><circle cx="423.1" cy="325.1" r="1.85"/><circle cx="419.8" cy="327.8" r="1.85"/><circle cx="422.5" cy="330.5" r="1.85"/><circle cx="420.4" cy="333.2" r="1.85"/><circle cx="423.8" cy="335.9" r="1.85"/><circle cx="418.4" cy="339.9" r="1.85"/><circle cx="422.5" cy="341.3" r="1.85"/><circle cx="421.1" cy="345.3" r="1.85"/><circle cx="423.8" cy="346.6" r="1.85"/><circle cx="419.8" cy="349.3" r="1.85"/><circle cx="422.5" cy="351.3" r="1.85"/><circle cx="449.3" cy="306.3" r="1.85"/><circle cx="452" cy="309" r="1.85"/><circle cx="448" cy="311.7" r="1.85"/><circle cx="452" cy="314.4" r="1.85"/><circle cx="449.3" cy="317.1" r="1.85"/><circle cx="453.3" cy="319.8" r="1.85"/><circle cx="450.7" cy="322.5" r="1.85"/><circle cx="454.7" cy="325.1" r="1.85"/><circle cx="450.7" cy="327.8" r="1.85"/><circle cx="453.3" cy="330.5" r="1.85"/><circle cx="450.7" cy="333.2" r="1.85"/><circle cx="456" cy="331.9" r="1.85"/><circle cx="453.3" cy="335.9" r="1.85"/><circle cx="450.7" cy="338.6" r="1.85"/><circle cx="454.7" cy="341.3" r="1.85"/><circle cx="452" cy="343.9" r="1.85"/><circle cx="449.3" cy="346.6" r="1.85"/><circle cx="453.3" cy="348" r="1.85"/><circle cx="450.7" cy="351.3" r="1.85"/><circle cx="480.2" cy="306.3" r="1.85"/><circle cx="484.2" cy="307.7" r="1.85"/><circle cx="481.6" cy="311.7" r="1.85"/><circle cx="485.6" cy="314.4" r="1.85"/><circle cx="482.9" cy="318.4" r="1.85"/><circle cx="478.9" cy="322.5" r="1.85"/><circle cx="484.2" cy="323.8" r="1.85"/><circle cx="481.6" cy="326.5" r="1.85"/><circle cx="478.9" cy="330.5" r="1.85"/><circle cx="482.9" cy="331.9" r="1.85"/><circle cx="481.6" cy="335.9" r="1.85"/><circle cx="480.2" cy="339.9" r="1.85"/><circle cx="484.2" cy="341.3" r="1.85"/><circle cx="481.6" cy="345.3" r="1.85"/><circle cx="482.9" cy="349.3" r="1.85"/><circle cx="480.2" cy="351.3" r="1.85"/><circle cx="421.8" cy="310.4" r="1.85"/><circle cx="421.8" cy="318.4" r="1.85"/><circle cx="421.1" cy="326.5" r="1.85"/><circle cx="421.8" cy="337.9" r="1.85"/><circle cx="421.8" cy="348" r="1.85"/><circle cx="451.3" cy="310.4" r="1.85"/><circle cx="451.3" cy="318.4" r="1.85"/><circle cx="452.7" cy="323.8" r="1.85"/><circle cx="452.7" cy="338.6" r="1.85"/><circle cx="451.3" cy="350" r="1.85"/><circle cx="483.6" cy="311" r="1.85"/><circle cx="480.9" cy="320.4" r="1.85"/><circle cx="480.9" cy="333.9" r="1.85"/><circle cx="482.2" cy="343.3" r="1.85"/><circle cx="418.6" cy="264.6" r="1.85"/><circle cx="421.9" cy="267.5" r="1.85"/><circle cx="414.5" cy="269.1" r="1.85"/><circle cx="422.2" cy="266.2" r="1.85"/><circle cx="416.4" cy="274.4" r="1.85"/><circle cx="420.1" cy="275.2" r="1.85"/><circle cx="415.5" cy="275.6" r="1.85"/><circle cx="415.5" cy="280.1" r="1.85"/><circle cx="415.7" cy="288.7" r="1.85"/><circle cx="423.7" cy="285.8" r="1.85"/><circle cx="424.1" cy="289.3" r="1.85"/><circle cx="421.2" cy="292" r="1.85"/><circle cx="421.8" cy="295.8" r="1.85"/><circle cx="419.9" cy="302.4" r="1.85"/><circle cx="424.8" cy="301.2" r="1.85"/><circle cx="418" cy="303.1" r="1.85"/><circle cx="450.5" cy="259.4" r="1.85"/><circle cx="451.2" cy="268.6" r="1.85"/><circle cx="446.9" cy="267.7" r="1.85"/><circle cx="450.8" cy="271.5" r="1.85"/><circle cx="450.8" cy="277.4" r="1.85"/><circle cx="450.8" cy="282.5" r="1.85"/><circle cx="457.2" cy="279" r="1.85"/><circle cx="449.8" cy="283" r="1.85"/><circle cx="450.9" cy="283.9" r="1.85"/><circle cx="455.4" cy="284.5" r="1.85"/><circle cx="453.1" cy="292.6" r="1.85"/><circle cx="455.4" cy="290.3" r="1.85"/><circle cx="451.6" cy="293" r="1.85"/><circle cx="454.9" cy="294.9" r="1.85"/><circle cx="453.2" cy="300.4" r="1.85"/><circle cx="452.7" cy="299.4" r="1.85"/><circle cx="478.4" cy="268" r="1.85"/><circle cx="485.1" cy="272.5" r="1.85"/><circle cx="483.2" cy="270.8" r="1.85"/><circle cx="478.1" cy="279.3" r="1.85"/><circle cx="484.4" cy="277.4" r="1.85"/><circle cx="486.2" cy="287.4" r="1.85"/><circle cx="480.8" cy="285" r="1.85"/><circle cx="477.1" cy="290.6" r="1.85"/><circle cx="482" cy="290.2" r="1.85"/><circle cx="485.7" cy="288" r="1.85"/><circle cx="477.8" cy="296.1" r="1.85"/><circle cx="483" cy="297" r="1.85"/><circle cx="480.3" cy="301.3" r="1.85"/><circle cx="486" cy="301.8" r="1.85"/><circle cx="497.6" cy="274.4" r="1.85"/><circle cx="421.2" cy="262.5" r="1.85"/><circle cx="417.1" cy="272.4" r="1.85"/><circle cx="420.6" cy="278.8" r="1.85"/><circle cx="421.6" cy="285" r="1.85"/><circle cx="418.5" cy="293.9" r="1.85"/><circle cx="418.6" cy="302.9" r="1.85"/><circle cx="452.6" cy="269.5" r="1.85"/><circle cx="452.3" cy="296.6" r="1.85"/><circle cx="479.6" cy="268.4" r="1.85"/><circle cx="484" cy="277.4" r="1.85"/><circle cx="482.5" cy="287.9" r="1.85"/><circle cx="480" cy="293" r="1.85"/><circle cx="481.8" cy="303.9" r="1.85"/><circle cx="419.1" cy="303.8" r="1.85"/><circle cx="423.7" cy="311.3" r="1.85"/><circle cx="417.6" cy="313.2" r="1.85"/><circle cx="421.2" cy="316.7" r="1.85"/><circle cx="422.8" cy="316" r="1.85"/><circle cx="425.4" cy="321.8" r="1.85"/><circle cx="419.7" cy="324.7" r="1.85"/><circle cx="420.6" cy="324.6" r="1.85"/><circle cx="420.2" cy="331.8" r="1.85"/><circle cx="422.4" cy="331.5" r="1.85"/><circle cx="415.9" cy="339.3" r="1.85"/><circle cx="418.9" cy="343.9" r="1.85"/><circle cx="424.1" cy="344" r="1.85"/><circle cx="425.1" cy="351.5" r="1.85"/><circle cx="447.1" cy="307.7" r="1.85"/><circle cx="446.7" cy="309.4" r="1.85"/><circle cx="451.8" cy="317" r="1.85"/><circle cx="448.4" cy="319.5" r="1.85"/><circle cx="453.6" cy="317.2" r="1.85"/><circle cx="451.2" cy="319.9" r="1.85"/><circle cx="456.1" cy="327.3" r="1.85"/><circle cx="452.5" cy="326" r="1.85"/><circle cx="455.9" cy="329.9" r="1.85"/><circle cx="449.3" cy="335.4" r="1.85"/><circle cx="450.9" cy="334.9" r="1.85"/><circle cx="452.5" cy="336.8" r="1.85"/><circle cx="452.2" cy="340.5" r="1.85"/><circle cx="450.7" cy="341.7" r="1.85"/><circle cx="448.1" cy="344.4" r="1.85"/><circle cx="453.9" cy="345.4" r="1.85"/><circle cx="453.2" cy="351.8" r="1.85"/><circle cx="481.8" cy="304.3" r="1.85"/><circle cx="482.6" cy="305.6" r="1.85"/><circle cx="479.9" cy="313.8" r="1.85"/><circle cx="487.9" cy="315.6" r="1.85"/><circle cx="483.5" cy="328.2" r="1.85"/><circle cx="482.6" cy="334.4" r="1.85"/><circle cx="480.2" cy="333.7" r="1.85"/><circle cx="477.6" cy="340.1" r="1.85"/><circle cx="483.8" cy="338.7" r="1.85"/><circle cx="482.5" cy="342.9" r="1.85"/><circle cx="480.5" cy="350.3" r="1.85"/><circle cx="479.7" cy="353.9" r="1.85"/><circle cx="419.3" cy="317.7" r="1.85"/><circle cx="419.2" cy="324.8" r="1.85"/><circle cx="449.5" cy="308.5" r="1.85"/><circle cx="450.4" cy="325.1" r="1.85"/><circle cx="452.5" cy="336" r="1.85"/><circle cx="449.7" cy="348" r="1.85"/><circle cx="482" cy="313.1" r="1.85"/><circle cx="478.6" cy="319.2" r="1.85"/><circle cx="478.3" cy="333.7" r="1.85"/><circle cx="479.8" cy="344.3" r="1.85"/>
</g>
<path fill="#0000ff" d="M415.7 259.5l2.0 2.5l-2.0 2.5l-2.0 -2.5zM406.3 261.5l2.0 2.5l-2.0 2.5l-2.0 -2.5zM408.4 263.6l2.0 2.5l-2.0 2.5l-2.0 -2.5zM413.1 267.6l2.0 2.5l-2.0 2.5l-2.0 -2.5zM410.4 271.6l2.0 2.5l-2.0 2.5l-2.0 -2.5zM407.7 275.6l2.0 2.5l-2.0 2.5l-2.0 -2.5zM411 275.6l2.0 2.5l-2.0 2.5l-2.0 -2.5zM409 279.7l2.0 2.5l-2.0 2.5l-2.0 -2.5zM411.7 283.7l2.0 2.5l-2.0 2.5l-2.0 -2.5zM412.4 287.7l2.0 2.5l-2.0 2.5l-2.0 -2.5zM414.4 291.8l2.0 2.5l-2.0 2.5l-2.0 -2.5zM413.7 294.4l2.0 2.5l-2.0 2.5l-2.0 -2.5zM415.7 297.1l2.0 2.5l-2.0 2.5l-2.0 -2.5zM410.4 298.5l2.0 2.5l-2.0 2.5l-2.0 -2.5zM413.1 301.2l2.0 2.5l-2.0 2.5l-2.0 -2.5zM418.4 302.5l2.0 2.5l-2.0 2.5l-2.0 -2.5zM406.3 298.5l2.0 2.5l-2.0 2.5l-2.0 -2.5zM426.5 264.9l2.0 2.5l-2.0 2.5l-2.0 -2.5zM428.5 291.1l2.0 2.5l-2.0 2.5l-2.0 -2.5zM422.5 301.2l2.0 2.5l-2.0 2.5l-2.0 -2.5zM407 266.2l2.0 2.5l-2.0 2.5l-2.0 -2.5zM409.7 268.9l2.0 2.5l-2.0 2.5l-2.0 -2.5zM409 273.6l2.0 2.5l-2.0 2.5l-2.0 -2.5zM412.4 279l2.0 2.5l-2.0 2.5l-2.0 -2.5zM411 281.7l2.0 2.5l-2.0 2.5l-2.0 -2.5zM415.1 289.7l2.0 2.5l-2.0 2.5l-2.0 -2.5zM417.8 295.1l2.0 2.5l-2.0 2.5l-2.0 -2.5zM411.7 296.5l2.0 2.5l-2.0 2.5l-2.0 -2.5zM406.3 263.6l2.0 2.5l-2.0 2.5l-2.0 -2.5zM430.5 267.6l2.0 2.5l-2.0 2.5l-2.0 -2.5zM433.2 266.9l2.0 2.5l-2.0 2.5l-2.0 -2.5zM438.6 264.9l2.0 2.5l-2.0 2.5l-2.0 -2.5zM431.9 273.6l2.0 2.5l-2.0 2.5l-2.0 -2.5zM435.9 271.6l2.0 2.5l-2.0 2.5l-2.0 -2.5zM439.2 273l2.0 2.5l-2.0 2.5l-2.0 -2.5zM437.2 277l2.0 2.5l-2.0 2.5l-2.0 -2.5zM440.6 278.3l2.0 2.5l-2.0 2.5l-2.0 -2.5zM434.5 283.7l2.0 2.5l-2.0 2.5l-2.0 -2.5zM437.9 286.4l2.0 2.5l-2.0 2.5l-2.0 -2.5zM443.3 289.1l2.0 2.5l-2.0 2.5l-2.0 -2.5zM435.2 298.5l2.0 2.5l-2.0 2.5l-2.0 -2.5zM441.9 302.5l2.0 2.5l-2.0 2.5l-2.0 -2.5zM444.6 258.2l2.0 2.5l-2.0 2.5l-2.0 -2.5zM446 262.2l2.0 2.5l-2.0 2.5l-2.0 -2.5zM445.3 266.2l2.0 2.5l-2.0 2.5l-2.0 -2.5zM444.6 270.3l2.0 2.5l-2.0 2.5l-2.0 -2.5zM446 274.3l2.0 2.5l-2.0 2.5l-2.0 -2.5zM445.3 293.1l2.0 2.5l-2.0 2.5l-2.0 -2.5zM448 294.4l2.0 2.5l-2.0 2.5l-2.0 -2.5zM446.6 298.5l2.0 2.5l-2.0 2.5l-2.0 -2.5zM458.7 295.8l2.0 2.5l-2.0 2.5l-2.0 -2.5zM441.3 302.5l2.0 2.5l-2.0 2.5l-2.0 -2.5zM464.1 260.9l2.0 2.5l-2.0 2.5l-2.0 -2.5zM446.6 291.1l2.0 2.5l-2.0 2.5l-2.0 -2.5zM443.9 295.1l2.0 2.5l-2.0 2.5l-2.0 -2.5zM468.1 279l2.0 2.5l-2.0 2.5l-2.0 -2.5zM465.4 277l2.0 2.5l-2.0 2.5l-2.0 -2.5zM470.8 277l2.0 2.5l-2.0 2.5l-2.0 -2.5zM466.1 281.7l2.0 2.5l-2.0 2.5l-2.0 -2.5zM470.1 281.7l2.0 2.5l-2.0 2.5l-2.0 -2.5zM468.1 275.6l2.0 2.5l-2.0 2.5l-2.0 -2.5zM468.1 282.4l2.0 2.5l-2.0 2.5l-2.0 -2.5zM464.1 279.7l2.0 2.5l-2.0 2.5l-2.0 -2.5zM472.2 279.7l2.0 2.5l-2.0 2.5l-2.0 -2.5zM466.8 274.3l2.0 2.5l-2.0 2.5l-2.0 -2.5zM469.5 274.3l2.0 2.5l-2.0 2.5l-2.0 -2.5zM474.8 268.9l2.0 2.5l-2.0 2.5l-2.0 -2.5zM475.5 273l2.0 2.5l-2.0 2.5l-2.0 -2.5zM473.5 275.6l2.0 2.5l-2.0 2.5l-2.0 -2.5zM477.5 258.2l2.0 2.5l-2.0 2.5l-2.0 -2.5zM479.5 260.9l2.0 2.5l-2.0 2.5l-2.0 -2.5zM476.2 270.3l2.0 2.5l-2.0 2.5l-2.0 -2.5zM480.2 279.7l2.0 2.5l-2.0 2.5l-2.0 -2.5zM475.5 285l2.0 2.5l-2.0 2.5l-2.0 -2.5zM486.9 291.8l2.0 2.5l-2.0 2.5l-2.0 -2.5zM488.3 295.8l2.0 2.5l-2.0 2.5l-2.0 -2.5zM487.6 299.8l2.0 2.5l-2.0 2.5l-2.0 -2.5zM478.2 301.8l2.0 2.5l-2.0 2.5l-2.0 -2.5zM485.6 274.3l2.0 2.5l-2.0 2.5l-2.0 -2.5zM488.9 293.8l2.0 2.5l-2.0 2.5l-2.0 -2.5zM486.9 297.8l2.0 2.5l-2.0 2.5l-2.0 -2.5zM495.7 266.2l2.0 2.5l-2.0 2.5l-2.0 -2.5zM495 270.3l2.0 2.5l-2.0 2.5l-2.0 -2.5zM414.4 303.8l2.0 2.5l-2.0 2.5l-2.0 -2.5zM413.1 307.9l2.0 2.5l-2.0 2.5l-2.0 -2.5zM415.7 310.6l2.0 2.5l-2.0 2.5l-2.0 -2.5zM415.1 314.6l2.0 2.5l-2.0 2.5l-2.0 -2.5zM417.1 318.6l2.0 2.5l-2.0 2.5l-2.0 -2.5zM418.4 324l2.0 2.5l-2.0 2.5l-2.0 -2.5zM419.8 328l2.0 2.5l-2.0 2.5l-2.0 -2.5zM422.5 332l2.0 2.5l-2.0 2.5l-2.0 -2.5zM425.1 334.7l2.0 2.5l-2.0 2.5l-2.0 -2.5zM423.8 337.4l2.0 2.5l-2.0 2.5l-2.0 -2.5zM419.8 340.1l2.0 2.5l-2.0 2.5l-2.0 -2.5zM417.1 342.8l2.0 2.5l-2.0 2.5l-2.0 -2.5zM415.7 346.8l2.0 2.5l-2.0 2.5l-2.0 -2.5zM414.4 348.8l2.0 2.5l-2.0 2.5l-2.0 -2.5zM407.7 307.9l2.0 2.5l-2.0 2.5l-2.0 -2.5zM407 318.6l2.0 2.5l-2.0 2.5l-2.0 -2.5zM408.4 329.4l2.0 2.5l-2.0 2.5l-2.0 -2.5zM406.3 333.4l2.0 2.5l-2.0 2.5l-2.0 -2.5zM416.4 333.4l2.0 2.5l-2.0 2.5l-2.0 -2.5zM428.5 322.6l2.0 2.5l-2.0 2.5l-2.0 -2.5zM431.9 326.7l2.0 2.5l-2.0 2.5l-2.0 -2.5zM434.5 326l2.0 2.5l-2.0 2.5l-2.0 -2.5zM437.2 324l2.0 2.5l-2.0 2.5l-2.0 -2.5zM433.2 329.4l2.0 2.5l-2.0 2.5l-2.0 -2.5zM436.6 316.6l2.0 2.5l-2.0 2.5l-2.0 -2.5zM435.9 338.8l2.0 2.5l-2.0 2.5l-2.0 -2.5zM433.9 344.1l2.0 2.5l-2.0 2.5l-2.0 -2.5zM436.6 345.5l2.0 2.5l-2.0 2.5l-2.0 -2.5zM426.5 334.7l2.0 2.5l-2.0 2.5l-2.0 -2.5zM413.7 305.9l2.0 2.5l-2.0 2.5l-2.0 -2.5zM414.4 312.6l2.0 2.5l-2.0 2.5l-2.0 -2.5zM416.4 321.3l2.0 2.5l-2.0 2.5l-2.0 -2.5zM421.1 330l2.0 2.5l-2.0 2.5l-2.0 -2.5zM424.5 332.7l2.0 2.5l-2.0 2.5l-2.0 -2.5zM422.5 336.1l2.0 2.5l-2.0 2.5l-2.0 -2.5zM417.8 345.5l2.0 2.5l-2.0 2.5l-2.0 -2.5zM430.5 325.3l2.0 2.5l-2.0 2.5l-2.0 -2.5zM441.3 303.8l2.0 2.5l-2.0 2.5l-2.0 -2.5zM445.3 305.2l2.0 2.5l-2.0 2.5l-2.0 -2.5zM443.9 309.2l2.0 2.5l-2.0 2.5l-2.0 -2.5zM446.6 317.3l2.0 2.5l-2.0 2.5l-2.0 -2.5zM445.3 324l2.0 2.5l-2.0 2.5l-2.0 -2.5zM444.6 328l2.0 2.5l-2.0 2.5l-2.0 -2.5zM443.9 332l2.0 2.5l-2.0 2.5l-2.0 -2.5zM445.3 336.1l2.0 2.5l-2.0 2.5l-2.0 -2.5zM446.6 340.1l2.0 2.5l-2.0 2.5l-2.0 -2.5zM448 345.5l2.0 2.5l-2.0 2.5l-2.0 -2.5zM456 314.6l2.0 2.5l-2.0 2.5l-2.0 -2.5zM457.4 313.2l2.0 2.5l-2.0 2.5l-2.0 -2.5zM458 332l2.0 2.5l-2.0 2.5l-2.0 -2.5zM456.7 336.1l2.0 2.5l-2.0 2.5l-2.0 -2.5zM460.1 348.8l2.0 2.5l-2.0 2.5l-2.0 -2.5zM466.8 309.2l2.0 2.5l-2.0 2.5l-2.0 -2.5zM470.1 305.2l2.0 2.5l-2.0 2.5l-2.0 -2.5zM465.4 338.8l2.0 2.5l-2.0 2.5l-2.0 -2.5zM468.1 336.1l2.0 2.5l-2.0 2.5l-2.0 -2.5zM470.1 341.4l2.0 2.5l-2.0 2.5l-2.0 -2.5zM462.7 339.4l2.0 2.5l-2.0 2.5l-2.0 -2.5zM444.6 326l2.0 2.5l-2.0 2.5l-2.0 -2.5zM443.9 330l2.0 2.5l-2.0 2.5l-2.0 -2.5zM444.6 334.1l2.0 2.5l-2.0 2.5l-2.0 -2.5zM446 338.1l2.0 2.5l-2.0 2.5l-2.0 -2.5zM445.3 342.8l2.0 2.5l-2.0 2.5l-2.0 -2.5zM456.7 315.9l2.0 2.5l-2.0 2.5l-2.0 -2.5zM458.7 334.1l2.0 2.5l-2.0 2.5l-2.0 -2.5zM476.2 305.2l2.0 2.5l-2.0 2.5l-2.0 -2.5zM477.5 310.6l2.0 2.5l-2.0 2.5l-2.0 -2.5zM474.8 322.6l2.0 2.5l-2.0 2.5l-2.0 -2.5zM476.2 325.3l2.0 2.5l-2.0 2.5l-2.0 -2.5zM491 315.9l2.0 2.5l-2.0 2.5l-2.0 -2.5zM488.9 314.6l2.0 2.5l-2.0 2.5l-2.0 -2.5zM486.9 325.3l2.0 2.5l-2.0 2.5l-2.0 -2.5zM485.6 340.1l2.0 2.5l-2.0 2.5l-2.0 -2.5zM482.9 340.1l2.0 2.5l-2.0 2.5l-2.0 -2.5zM477.5 344.1l2.0 2.5l-2.0 2.5l-2.0 -2.5zM474.8 348.2l2.0 2.5l-2.0 2.5l-2.0 -2.5zM495 329.4l2.0 2.5l-2.0 2.5l-2.0 -2.5zM496.3 336.1l2.0 2.5l-2.0 2.5l-2.0 -2.5zM495 307.9l2.0 2.5l-2.0 2.5l-2.0 -2.5zM490.3 317.3l2.0 2.5l-2.0 2.5l-2.0 -2.5zM488.3 324l2.0 2.5l-2.0 2.5l-2.0 -2.5zM477.5 341.4l2.0 2.5l-2.0 2.5l-2.0 -2.5zM476.2 346.1l2.0 2.5l-2.0 2.5l-2.0 -2.5zM407.5 263.1l2.0 2.5l-2.0 2.5l-2.0 -2.5zM409.5 262l2.0 2.5l-2.0 2.5l-2.0 -2.5zM410.2 273.5l2.0 2.5l-2.0 2.5l-2.0 -2.5zM406.2 274.5l2.0 2.5l-2.0 2.5l-2.0 -2.5zM411.9 273.9l2.0 2.5l-2.0 2.5l-2.0 -2.5zM410.4 278.4l2.0 2.5l-2.0 2.5l-2.0 -2.5zM412.4 281.9l2.0 2.5l-2.0 2.5l-2.0 -2.5zM412.3 293.2l2.0 2.5l-2.0 2.5l-2.0 -2.5zM416.4 298.9l2.0 2.5l-2.0 2.5l-2.0 -2.5zM412.1 297.6l2.0 2.5l-2.0 2.5l-2.0 -2.5zM417.4 300.9l2.0 2.5l-2.0 2.5l-2.0 -2.5zM407.6 299.9l2.0 2.5l-2.0 2.5l-2.0 -2.5zM427 263.1l2.0 2.5l-2.0 2.5l-2.0 -2.5zM421 302.4l2.0 2.5l-2.0 2.5l-2.0 -2.5zM407.9 264.6l2.0 2.5l-2.0 2.5l-2.0 -2.5zM411.4 269.7l2.0 2.5l-2.0 2.5l-2.0 -2.5zM410.3 272.2l2.0 2.5l-2.0 2.5l-2.0 -2.5zM411.3 277.4l2.0 2.5l-2.0 2.5l-2.0 -2.5zM414.9 287.9l2.0 2.5l-2.0 2.5l-2.0 -2.5zM418 297l2.0 2.5l-2.0 2.5l-2.0 -2.5zM413.6 296.4l2.0 2.5l-2.0 2.5l-2.0 -2.5zM405.7 261.8l2.0 2.5l-2.0 2.5l-2.0 -2.5zM435 267.5l2.0 2.5l-2.0 2.5l-2.0 -2.5zM437.7 266.6l2.0 2.5l-2.0 2.5l-2.0 -2.5zM430.2 274.5l2.0 2.5l-2.0 2.5l-2.0 -2.5zM441 272.3l2.0 2.5l-2.0 2.5l-2.0 -2.5zM439 276.3l2.0 2.5l-2.0 2.5l-2.0 -2.5zM440.3 276.5l2.0 2.5l-2.0 2.5l-2.0 -2.5zM432.7 284.3l2.0 2.5l-2.0 2.5l-2.0 -2.5zM436.6 285l2.0 2.5l-2.0 2.5l-2.0 -2.5zM433.7 299.6l2.0 2.5l-2.0 2.5l-2.0 -2.5zM443.8 302.8l2.0 2.5l-2.0 2.5l-2.0 -2.5zM446 264.1l2.0 2.5l-2.0 2.5l-2.0 -2.5zM444.2 264.7l2.0 2.5l-2.0 2.5l-2.0 -2.5zM444.7 272.2l2.0 2.5l-2.0 2.5l-2.0 -2.5zM445.9 276.2l2.0 2.5l-2.0 2.5l-2.0 -2.5zM443.7 292.1l2.0 2.5l-2.0 2.5l-2.0 -2.5zM446.1 300.3l2.0 2.5l-2.0 2.5l-2.0 -2.5zM460.1 297.1l2.0 2.5l-2.0 2.5l-2.0 -2.5zM439.8 301.3l2.0 2.5l-2.0 2.5l-2.0 -2.5zM463.6 262.7l2.0 2.5l-2.0 2.5l-2.0 -2.5zM447.3 289.3l2.0 2.5l-2.0 2.5l-2.0 -2.5zM469.8 279.8l2.0 2.5l-2.0 2.5l-2.0 -2.5zM469.1 277.9l2.0 2.5l-2.0 2.5l-2.0 -2.5zM466.2 279.8l2.0 2.5l-2.0 2.5l-2.0 -2.5zM472 281.2l2.0 2.5l-2.0 2.5l-2.0 -2.5zM466.3 282.7l2.0 2.5l-2.0 2.5l-2.0 -2.5zM462.5 278.7l2.0 2.5l-2.0 2.5l-2.0 -2.5zM470.3 279.3l2.0 2.5l-2.0 2.5l-2.0 -2.5zM470.3 272.6l2.0 2.5l-2.0 2.5l-2.0 -2.5zM476.2 267.7l2.0 2.5l-2.0 2.5l-2.0 -2.5zM475.9 274.8l2.0 2.5l-2.0 2.5l-2.0 -2.5zM472.9 277.4l2.0 2.5l-2.0 2.5l-2.0 -2.5zM479.1 259.2l2.0 2.5l-2.0 2.5l-2.0 -2.5zM478 270.9l2.0 2.5l-2.0 2.5l-2.0 -2.5zM487.6 293.5l2.0 2.5l-2.0 2.5l-2.0 -2.5zM476.3 301.5l2.0 2.5l-2.0 2.5l-2.0 -2.5zM487.5 274l2.0 2.5l-2.0 2.5l-2.0 -2.5zM490.6 294.7l2.0 2.5l-2.0 2.5l-2.0 -2.5zM485.4 296.7l2.0 2.5l-2.0 2.5l-2.0 -2.5zM494.3 264.9l2.0 2.5l-2.0 2.5l-2.0 -2.5zM494.5 272.1l2.0 2.5l-2.0 2.5l-2.0 -2.5zM414.2 305.7l2.0 2.5l-2.0 2.5l-2.0 -2.5zM412.9 309.8l2.0 2.5l-2.0 2.5l-2.0 -2.5zM415.6 316.4l2.0 2.5l-2.0 2.5l-2.0 -2.5zM415.6 319.8l2.0 2.5l-2.0 2.5l-2.0 -2.5zM420.3 323.7l2.0 2.5l-2.0 2.5l-2.0 -2.5zM423.5 333.6l2.0 2.5l-2.0 2.5l-2.0 -2.5zM423.4 333.9l2.0 2.5l-2.0 2.5l-2.0 -2.5zM422.2 336.4l2.0 2.5l-2.0 2.5l-2.0 -2.5zM420.5 338.4l2.0 2.5l-2.0 2.5l-2.0 -2.5zM415.9 341.3l2.0 2.5l-2.0 2.5l-2.0 -2.5zM417.5 347.6l2.0 2.5l-2.0 2.5l-2.0 -2.5zM415.8 350.1l2.0 2.5l-2.0 2.5l-2.0 -2.5zM405.1 318.7l2.0 2.5l-2.0 2.5l-2.0 -2.5zM408.9 331.2l2.0 2.5l-2.0 2.5l-2.0 -2.5zM407.1 335.1l2.0 2.5l-2.0 2.5l-2.0 -2.5zM426.8 323.6l2.0 2.5l-2.0 2.5l-2.0 -2.5zM431.8 324.8l2.0 2.5l-2.0 2.5l-2.0 -2.5zM433.1 327.3l2.0 2.5l-2.0 2.5l-2.0 -2.5zM435.7 325.1l2.0 2.5l-2.0 2.5l-2.0 -2.5zM431.6 328.3l2.0 2.5l-2.0 2.5l-2.0 -2.5zM438.1 315.5l2.0 2.5l-2.0 2.5l-2.0 -2.5zM432.5 345.4l2.0 2.5l-2.0 2.5l-2.0 -2.5zM435.2 346.8l2.0 2.5l-2.0 2.5l-2.0 -2.5zM412 305.1l2.0 2.5l-2.0 2.5l-2.0 -2.5zM415.1 310.8l2.0 2.5l-2.0 2.5l-2.0 -2.5zM415.8 323.1l2.0 2.5l-2.0 2.5l-2.0 -2.5zM425.2 334.5l2.0 2.5l-2.0 2.5l-2.0 -2.5zM419 346.9l2.0 2.5l-2.0 2.5l-2.0 -2.5zM430 323.5l2.0 2.5l-2.0 2.5l-2.0 -2.5zM443.1 304.3l2.0 2.5l-2.0 2.5l-2.0 -2.5zM444.8 303.4l2.0 2.5l-2.0 2.5l-2.0 -2.5zM444.6 311l2.0 2.5l-2.0 2.5l-2.0 -2.5zM446.5 319.2l2.0 2.5l-2.0 2.5l-2.0 -2.5zM442.8 327.4l2.0 2.5l-2.0 2.5l-2.0 -2.5zM444.9 337.9l2.0 2.5l-2.0 2.5l-2.0 -2.5zM448 341.4l2.0 2.5l-2.0 2.5l-2.0 -2.5zM447.8 347.4l2.0 2.5l-2.0 2.5l-2.0 -2.5zM457.3 334.3l2.0 2.5l-2.0 2.5l-2.0 -2.5zM464.9 308.9l2.0 2.5l-2.0 2.5l-2.0 -2.5zM471.6 306.4l2.0 2.5l-2.0 2.5l-2.0 -2.5zM467.2 339.5l2.0 2.5l-2.0 2.5l-2.0 -2.5zM469.6 337.3l2.0 2.5l-2.0 2.5l-2.0 -2.5zM470.2 339.5l2.0 2.5l-2.0 2.5l-2.0 -2.5zM443.2 327.2l2.0 2.5l-2.0 2.5l-2.0 -2.5zM443.4 328.2l2.0 2.5l-2.0 2.5l-2.0 -2.5zM445.1 339.8l2.0 2.5l-2.0 2.5l-2.0 -2.5zM445.5 344.7l2.0 2.5l-2.0 2.5l-2.0 -2.5zM458.5 315.2l2.0 2.5l-2.0 2.5l-2.0 -2.5zM474.6 306.3l2.0 2.5l-2.0 2.5l-2.0 -2.5zM473.7 324.2l2.0 2.5l-2.0 2.5l-2.0 -2.5zM487 314.4l2.0 2.5l-2.0 2.5l-2.0 -2.5zM487.7 327.1l2.0 2.5l-2.0 2.5l-2.0 -2.5zM485.5 342l2.0 2.5l-2.0 2.5l-2.0 -2.5zM478.3 345.9l2.0 2.5l-2.0 2.5l-2.0 -2.5zM474.7 350.1l2.0 2.5l-2.0 2.5l-2.0 -2.5zM496.9 329.3l2.0 2.5l-2.0 2.5l-2.0 -2.5zM497.6 337.5l2.0 2.5l-2.0 2.5l-2.0 -2.5zM496.9 307.9l2.0 2.5l-2.0 2.5l-2.0 -2.5zM490.1 324.5l2.0 2.5l-2.0 2.5l-2.0 -2.5zM477.9 345.3l2.0 2.5l-2.0 2.5l-2.0 -2.5z"/>
<g fill="#ff00ff" stroke="#b000b0" stroke-width="0.55">
<circle cx="621.4" cy="261.3" r="1.85"/><circle cx="623.4" cy="260" r="1.85"/><circle cx="628" cy="258.7" r="1.85"/><circle cx="623.3" cy="264.1" r="1.85"/><circle cx="626.7" cy="261.6" r="1.85"/><circle cx="627.9" cy="263.7" r="1.85"/><circle cx="620.7" cy="265.1" r="1.85"/><circle cx="624.9" cy="265.5" r="1.85"/><circle cx="626.4" cy="265.6" r="1.85"/><circle cx="623.6" cy="266.7" r="1.85"/><circle cx="626.4" cy="267.2" r="1.85"/><circle cx="629.5" cy="269.2" r="1.85"/><circle cx="620.6" cy="270.6" r="1.85"/><circle cx="625.3" cy="271" r="1.85"/><circle cx="628.4" cy="270.6" r="1.85"/><circle cx="630.3" cy="270.7" r="1.85"/><circle cx="622.8" cy="275.6" r="1.85"/><circle cx="625.9" cy="274.4" r="1.85"/><circle cx="629" cy="274" r="1.85"/><circle cx="620.2" cy="277.9" r="1.85"/><circle cx="625.4" cy="276.5" r="1.85"/><circle cx="628.3" cy="277.3" r="1.85"/><circle cx="631" cy="276.8" r="1.85"/><circle cx="622" cy="280.6" r="1.85"/><circle cx="625" cy="281.2" r="1.85"/><circle cx="628.3" cy="281.1" r="1.85"/><circle cx="622" cy="281.7" r="1.85"/><circle cx="623" cy="280.9" r="1.85"/><circle cx="627.5" cy="283" r="1.85"/><circle cx="629.9" cy="283.2" r="1.85"/><circle cx="622.6" cy="284" r="1.85"/><circle cx="625.3" cy="284.2" r="1.85"/><circle cx="628.5" cy="286.2" r="1.85"/><circle cx="620.2" cy="288.1" r="1.85"/><circle cx="624.7" cy="288" r="1.85"/><circle cx="627.4" cy="288.9" r="1.85"/><circle cx="631" cy="288.6" r="1.85"/><circle cx="623" cy="289.7" r="1.85"/><circle cx="625.9" cy="290.9" r="1.85"/><circle cx="629" cy="290.6" r="1.85"/><circle cx="621.1" cy="292.9" r="1.85"/><circle cx="622.8" cy="294.9" r="1.85"/><circle cx="627.4" cy="295.4" r="1.85"/><circle cx="630.7" cy="294.1" r="1.85"/><circle cx="623.9" cy="296.3" r="1.85"/><circle cx="626.7" cy="296.6" r="1.85"/><circle cx="629.4" cy="295.5" r="1.85"/><circle cx="618.8" cy="299" r="1.85"/><circle cx="623.2" cy="300.2" r="1.85"/><circle cx="627.2" cy="299.2" r="1.85"/><circle cx="629.8" cy="299" r="1.85"/><circle cx="622.9" cy="302.6" r="1.85"/><circle cx="626.3" cy="301.4" r="1.85"/><circle cx="629.1" cy="302" r="1.85"/><circle cx="621" cy="304.4" r="1.85"/><circle cx="623.8" cy="305.6" r="1.85"/><circle cx="628.7" cy="305" r="1.85"/><circle cx="630" cy="306.1" r="1.85"/><circle cx="622" cy="306.9" r="1.85"/><circle cx="626.3" cy="308.1" r="1.85"/><circle cx="629.9" cy="308.3" r="1.85"/><circle cx="621.3" cy="310.5" r="1.85"/><circle cx="624.5" cy="310.4" r="1.85"/><circle cx="628.3" cy="311.2" r="1.85"/><circle cx="630" cy="310.6" r="1.85"/><circle cx="622.5" cy="313" r="1.85"/><circle cx="624.7" cy="312.7" r="1.85"/><circle cx="629.7" cy="313.6" r="1.85"/><circle cx="619.9" cy="316.6" r="1.85"/><circle cx="622.5" cy="316.9" r="1.85"/><circle cx="626.7" cy="316.3" r="1.85"/><circle cx="629" cy="316.1" r="1.85"/><circle cx="621.8" cy="319.9" r="1.85"/><circle cx="626.8" cy="318.9" r="1.85"/><circle cx="629" cy="319.1" r="1.85"/><circle cx="622.3" cy="322" r="1.85"/><circle cx="622.8" cy="321" r="1.85"/><circle cx="626.8" cy="321.6" r="1.85"/><circle cx="630.5" cy="320.5" r="1.85"/><circle cx="623" cy="325.1" r="1.85"/><circle cx="626.3" cy="323.9" r="1.85"/><circle cx="627" cy="325.1" r="1.85"/><circle cx="621.3" cy="327.8" r="1.85"/><circle cx="623.7" cy="328.2" r="1.85"/><circle cx="626.7" cy="327.3" r="1.85"/><circle cx="630.8" cy="328.7" r="1.85"/><circle cx="623" cy="329.5" r="1.85"/><circle cx="625.3" cy="331.4" r="1.85"/><circle cx="628" cy="330.5" r="1.85"/><circle cx="620.1" cy="332.6" r="1.85"/><circle cx="625.8" cy="332.9" r="1.85"/><circle cx="625.8" cy="332" r="1.85"/><circle cx="629.8" cy="333.5" r="1.85"/><circle cx="622.4" cy="336.9" r="1.85"/><circle cx="625.8" cy="334.9" r="1.85"/><circle cx="628.6" cy="337" r="1.85"/><circle cx="620.4" cy="339.3" r="1.85"/><circle cx="623.5" cy="337.7" r="1.85"/><circle cx="627.2" cy="339" r="1.85"/><circle cx="631" cy="339.5" r="1.85"/><circle cx="621.6" cy="341.3" r="1.85"/><circle cx="626.4" cy="340.7" r="1.85"/><circle cx="627.9" cy="341.9" r="1.85"/><circle cx="619.9" cy="344.4" r="1.85"/><circle cx="622.6" cy="344.2" r="1.85"/><circle cx="625.3" cy="344.9" r="1.85"/><circle cx="629.9" cy="343.2" r="1.85"/><circle cx="621.2" cy="347.4" r="1.85"/><circle cx="624.8" cy="348.1" r="1.85"/><circle cx="628.1" cy="347.3" r="1.85"/><circle cx="620.4" cy="349.1" r="1.85"/><circle cx="623.3" cy="348.9" r="1.85"/><circle cx="626.4" cy="349.4" r="1.85"/><circle cx="629.3" cy="349.5" r="1.85"/><circle cx="622.5" cy="351.4" r="1.85"/><circle cx="625.8" cy="352.6" r="1.85"/><circle cx="629.3" cy="352.7" r="1.85"/><circle cx="588.3" cy="264" r="1.85"/><circle cx="594.4" cy="265.4" r="1.85"/><circle cx="596.4" cy="265.4" r="1.85"/><circle cx="600.4" cy="264" r="1.85"/><circle cx="607.1" cy="261.4" r="1.85"/><circle cx="604.5" cy="270.8" r="1.85"/><circle cx="607.1" cy="269.4" r="1.85"/><circle cx="605.8" cy="272.8" r="1.85"/><circle cx="611.2" cy="272.8" r="1.85"/><circle cx="615.2" cy="274.1" r="1.85"/><circle cx="618.6" cy="271.4" r="1.85"/><circle cx="613.9" cy="263.4" r="1.85"/><circle cx="616.5" cy="264" r="1.85"/><circle cx="599.8" cy="280.2" r="1.85"/><circle cx="603.8" cy="282.8" r="1.85"/><circle cx="604.5" cy="286.2" r="1.85"/><circle cx="606.5" cy="288.9" r="1.85"/><circle cx="602.4" cy="287.5" r="1.85"/><circle cx="613.9" cy="280.8" r="1.85"/><circle cx="615.9" cy="278.1" r="1.85"/><circle cx="617.2" cy="276.8" r="1.85"/><circle cx="613.9" cy="284.9" r="1.85"/><circle cx="603.8" cy="294.3" r="1.85"/><circle cx="616.5" cy="290.2" r="1.85"/><circle cx="588.3" cy="311.7" r="1.85"/><circle cx="591" cy="312.4" r="1.85"/><circle cx="595.1" cy="310.4" r="1.85"/><circle cx="598.4" cy="312.4" r="1.85"/><circle cx="603.1" cy="310.4" r="1.85"/><circle cx="605.1" cy="311" r="1.85"/><circle cx="607.1" cy="314.4" r="1.85"/><circle cx="607.8" cy="317.8" r="1.85"/><circle cx="613.2" cy="313.7" r="1.85"/><circle cx="615.9" cy="318.4" r="1.85"/><circle cx="588.3" cy="319.8" r="1.85"/><circle cx="603.8" cy="321.1" r="1.85"/><circle cx="605.8" cy="325.1" r="1.85"/><circle cx="594.4" cy="327.8" r="1.85"/><circle cx="597.7" cy="329.2" r="1.85"/><circle cx="593.7" cy="331.9" r="1.85"/><circle cx="604.5" cy="330.5" r="1.85"/><circle cx="609.2" cy="330.5" r="1.85"/><circle cx="613.9" cy="331.9" r="1.85"/><circle cx="615.9" cy="326.5" r="1.85"/><circle cx="610.5" cy="337.2" r="1.85"/><circle cx="600.4" cy="337.2" r="1.85"/><circle cx="603.1" cy="339.9" r="1.85"/><circle cx="597.1" cy="339.9" r="1.85"/><circle cx="607.1" cy="335.2" r="1.85"/><circle cx="614.5" cy="336.6" r="1.85"/><circle cx="615.9" cy="341.3" r="1.85"/><circle cx="593" cy="344.6" r="1.85"/><circle cx="600.4" cy="343.3" r="1.85"/><circle cx="603.8" cy="345.3" r="1.85"/><circle cx="609.2" cy="344.6" r="1.85"/><circle cx="613.9" cy="348" r="1.85"/><circle cx="617.9" cy="346.6" r="1.85"/><circle cx="599.8" cy="348" r="1.85"/><circle cx="596.4" cy="351.3" r="1.85"/><circle cx="600.4" cy="351.3" r="1.85"/><circle cx="619.9" cy="352" r="1.85"/>
</g>
<path fill="#0000ff" d="M632.7 259.5l2.0 2.5l-2.0 2.5l-2.0 -2.5zM635.3 262.2l2.0 2.5l-2.0 2.5l-2.0 -2.5zM634 266.2l2.0 2.5l-2.0 2.5l-2.0 -2.5zM636.7 267.6l2.0 2.5l-2.0 2.5l-2.0 -2.5zM633.3 271.6l2.0 2.5l-2.0 2.5l-2.0 -2.5zM636 275.6l2.0 2.5l-2.0 2.5l-2.0 -2.5zM632.7 281l2.0 2.5l-2.0 2.5l-2.0 -2.5zM634 283.7l2.0 2.5l-2.0 2.5l-2.0 -2.5zM633.3 290.4l2.0 2.5l-2.0 2.5l-2.0 -2.5zM634 294.4l2.0 2.5l-2.0 2.5l-2.0 -2.5zM634.7 298.5l2.0 2.5l-2.0 2.5l-2.0 -2.5zM632.7 301.8l2.0 2.5l-2.0 2.5l-2.0 -2.5zM634.7 258.2l2.0 2.5l-2.0 2.5l-2.0 -2.5zM633.3 263.6l2.0 2.5l-2.0 2.5l-2.0 -2.5zM636 270.3l2.0 2.5l-2.0 2.5l-2.0 -2.5zM634 278.3l2.0 2.5l-2.0 2.5l-2.0 -2.5zM633.3 287.1l2.0 2.5l-2.0 2.5l-2.0 -2.5zM632.7 297.1l2.0 2.5l-2.0 2.5l-2.0 -2.5zM597.1 266.9l2.0 2.5l-2.0 2.5l-2.0 -2.5zM588.3 283.7l2.0 2.5l-2.0 2.5l-2.0 -2.5zM590.4 287.7l2.0 2.5l-2.0 2.5l-2.0 -2.5zM593.7 291.1l2.0 2.5l-2.0 2.5l-2.0 -2.5zM588.3 294.4l2.0 2.5l-2.0 2.5l-2.0 -2.5zM595.7 298.5l2.0 2.5l-2.0 2.5l-2.0 -2.5zM622.6 272.3l2.0 2.5l-2.0 2.5l-2.0 -2.5zM589.7 285.7l2.0 2.5l-2.0 2.5l-2.0 -2.5zM644.7 262.2l2.0 2.5l-2.0 2.5l-2.0 -2.5zM649.4 258.9l2.0 2.5l-2.0 2.5l-2.0 -2.5zM652.8 261.5l2.0 2.5l-2.0 2.5l-2.0 -2.5zM656.2 260.9l2.0 2.5l-2.0 2.5l-2.0 -2.5zM661.5 259.5l2.0 2.5l-2.0 2.5l-2.0 -2.5zM664.2 258.2l2.0 2.5l-2.0 2.5l-2.0 -2.5zM667.6 261.5l2.0 2.5l-2.0 2.5l-2.0 -2.5zM671.6 262.9l2.0 2.5l-2.0 2.5l-2.0 -2.5zM675 260.9l2.0 2.5l-2.0 2.5l-2.0 -2.5zM650.1 268.9l2.0 2.5l-2.0 2.5l-2.0 -2.5zM654.2 266.2l2.0 2.5l-2.0 2.5l-2.0 -2.5zM658.2 267.6l2.0 2.5l-2.0 2.5l-2.0 -2.5zM662.2 264.9l2.0 2.5l-2.0 2.5l-2.0 -2.5zM666.2 266.2l2.0 2.5l-2.0 2.5l-2.0 -2.5zM670.3 265.6l2.0 2.5l-2.0 2.5l-2.0 -2.5zM674.3 268.9l2.0 2.5l-2.0 2.5l-2.0 -2.5zM678.3 267.6l2.0 2.5l-2.0 2.5l-2.0 -2.5zM643.4 278.3l2.0 2.5l-2.0 2.5l-2.0 -2.5zM647.4 281l2.0 2.5l-2.0 2.5l-2.0 -2.5zM650.1 275.6l2.0 2.5l-2.0 2.5l-2.0 -2.5zM654.2 273l2.0 2.5l-2.0 2.5l-2.0 -2.5zM658.2 271.6l2.0 2.5l-2.0 2.5l-2.0 -2.5zM660.2 275.6l2.0 2.5l-2.0 2.5l-2.0 -2.5zM664.2 274.3l2.0 2.5l-2.0 2.5l-2.0 -2.5zM668.9 273l2.0 2.5l-2.0 2.5l-2.0 -2.5zM673 275.6l2.0 2.5l-2.0 2.5l-2.0 -2.5zM677 277l2.0 2.5l-2.0 2.5l-2.0 -2.5zM652.8 286.4l2.0 2.5l-2.0 2.5l-2.0 -2.5zM656.8 282.4l2.0 2.5l-2.0 2.5l-2.0 -2.5zM660.9 283.7l2.0 2.5l-2.0 2.5l-2.0 -2.5zM664.9 281l2.0 2.5l-2.0 2.5l-2.0 -2.5zM668.9 282.4l2.0 2.5l-2.0 2.5l-2.0 -2.5zM673 283.7l2.0 2.5l-2.0 2.5l-2.0 -2.5zM677 282.4l2.0 2.5l-2.0 2.5l-2.0 -2.5zM662.2 287.7l2.0 2.5l-2.0 2.5l-2.0 -2.5zM667.6 287.7l2.0 2.5l-2.0 2.5l-2.0 -2.5zM674.3 287.7l2.0 2.5l-2.0 2.5l-2.0 -2.5zM678.3 286.4l2.0 2.5l-2.0 2.5l-2.0 -2.5zM646.1 294.4l2.0 2.5l-2.0 2.5l-2.0 -2.5zM650.1 295.8l2.0 2.5l-2.0 2.5l-2.0 -2.5zM642.1 298.5l2.0 2.5l-2.0 2.5l-2.0 -2.5zM654.2 293.1l2.0 2.5l-2.0 2.5l-2.0 -2.5zM658.2 294.4l2.0 2.5l-2.0 2.5l-2.0 -2.5zM662.2 291.8l2.0 2.5l-2.0 2.5l-2.0 -2.5zM666.2 294.4l2.0 2.5l-2.0 2.5l-2.0 -2.5zM670.3 293.1l2.0 2.5l-2.0 2.5l-2.0 -2.5zM674.3 295.8l2.0 2.5l-2.0 2.5l-2.0 -2.5zM678.3 294.4l2.0 2.5l-2.0 2.5l-2.0 -2.5zM643.4 301.8l2.0 2.5l-2.0 2.5l-2.0 -2.5zM648.8 301.2l2.0 2.5l-2.0 2.5l-2.0 -2.5zM654.2 301.2l2.0 2.5l-2.0 2.5l-2.0 -2.5zM659.5 302.5l2.0 2.5l-2.0 2.5l-2.0 -2.5zM664.9 299.8l2.0 2.5l-2.0 2.5l-2.0 -2.5zM668.9 301.2l2.0 2.5l-2.0 2.5l-2.0 -2.5zM674.3 299.8l2.0 2.5l-2.0 2.5l-2.0 -2.5zM678.3 301.8l2.0 2.5l-2.0 2.5l-2.0 -2.5zM632.7 303.8l2.0 2.5l-2.0 2.5l-2.0 -2.5zM632.7 309.2l2.0 2.5l-2.0 2.5l-2.0 -2.5zM633.3 313.2l2.0 2.5l-2.0 2.5l-2.0 -2.5zM634 320l2.0 2.5l-2.0 2.5l-2.0 -2.5zM636 322.6l2.0 2.5l-2.0 2.5l-2.0 -2.5zM632.7 325.3l2.0 2.5l-2.0 2.5l-2.0 -2.5zM635.3 329.4l2.0 2.5l-2.0 2.5l-2.0 -2.5zM633.3 342.8l2.0 2.5l-2.0 2.5l-2.0 -2.5zM634 346.8l2.0 2.5l-2.0 2.5l-2.0 -2.5zM632.7 348.8l2.0 2.5l-2.0 2.5l-2.0 -2.5zM631.3 341.4l2.0 2.5l-2.0 2.5l-2.0 -2.5zM633.3 334.7l2.0 2.5l-2.0 2.5l-2.0 -2.5zM634.7 338.8l2.0 2.5l-2.0 2.5l-2.0 -2.5zM632.7 317.3l2.0 2.5l-2.0 2.5l-2.0 -2.5zM607.1 305.2l2.0 2.5l-2.0 2.5l-2.0 -2.5zM638 305.2l2.0 2.5l-2.0 2.5l-2.0 -2.5zM642.1 306.5l2.0 2.5l-2.0 2.5l-2.0 -2.5zM646.1 303.8l2.0 2.5l-2.0 2.5l-2.0 -2.5zM650.1 306.5l2.0 2.5l-2.0 2.5l-2.0 -2.5zM654.2 305.2l2.0 2.5l-2.0 2.5l-2.0 -2.5zM659.5 303.8l2.0 2.5l-2.0 2.5l-2.0 -2.5zM664.9 305.2l2.0 2.5l-2.0 2.5l-2.0 -2.5zM668.9 305.9l2.0 2.5l-2.0 2.5l-2.0 -2.5zM673 303.8l2.0 2.5l-2.0 2.5l-2.0 -2.5zM644.7 311.9l2.0 2.5l-2.0 2.5l-2.0 -2.5zM648.8 310.6l2.0 2.5l-2.0 2.5l-2.0 -2.5zM651.5 313.2l2.0 2.5l-2.0 2.5l-2.0 -2.5zM646.1 315.9l2.0 2.5l-2.0 2.5l-2.0 -2.5zM656.8 314.6l2.0 2.5l-2.0 2.5l-2.0 -2.5zM662.2 313.2l2.0 2.5l-2.0 2.5l-2.0 -2.5zM664.9 315.9l2.0 2.5l-2.0 2.5l-2.0 -2.5zM668.9 314.6l2.0 2.5l-2.0 2.5l-2.0 -2.5zM673 313.2l2.0 2.5l-2.0 2.5l-2.0 -2.5zM675.6 315.9l2.0 2.5l-2.0 2.5l-2.0 -2.5zM640 321.3l2.0 2.5l-2.0 2.5l-2.0 -2.5zM643.4 324l2.0 2.5l-2.0 2.5l-2.0 -2.5zM651.5 321.3l2.0 2.5l-2.0 2.5l-2.0 -2.5zM658.2 318.6l2.0 2.5l-2.0 2.5l-2.0 -2.5zM662.2 321.3l2.0 2.5l-2.0 2.5l-2.0 -2.5zM666.2 321.3l2.0 2.5l-2.0 2.5l-2.0 -2.5zM670.3 320l2.0 2.5l-2.0 2.5l-2.0 -2.5zM673 322.6l2.0 2.5l-2.0 2.5l-2.0 -2.5zM643.4 328l2.0 2.5l-2.0 2.5l-2.0 -2.5zM647.4 329.4l2.0 2.5l-2.0 2.5l-2.0 -2.5zM654.2 330.7l2.0 2.5l-2.0 2.5l-2.0 -2.5zM659.5 326.7l2.0 2.5l-2.0 2.5l-2.0 -2.5zM662.2 328l2.0 2.5l-2.0 2.5l-2.0 -2.5zM666.2 326.7l2.0 2.5l-2.0 2.5l-2.0 -2.5zM670.3 330.7l2.0 2.5l-2.0 2.5l-2.0 -2.5zM674.3 333.4l2.0 2.5l-2.0 2.5l-2.0 -2.5zM646.1 338.8l2.0 2.5l-2.0 2.5l-2.0 -2.5zM650.1 336.1l2.0 2.5l-2.0 2.5l-2.0 -2.5zM654.2 337.4l2.0 2.5l-2.0 2.5l-2.0 -2.5zM658.2 340.1l2.0 2.5l-2.0 2.5l-2.0 -2.5zM663.6 338.8l2.0 2.5l-2.0 2.5l-2.0 -2.5zM667.6 336.1l2.0 2.5l-2.0 2.5l-2.0 -2.5zM671.6 337.4l2.0 2.5l-2.0 2.5l-2.0 -2.5zM656.8 334.7l2.0 2.5l-2.0 2.5l-2.0 -2.5zM644.7 345.5l2.0 2.5l-2.0 2.5l-2.0 -2.5zM650.1 346.8l2.0 2.5l-2.0 2.5l-2.0 -2.5zM654.2 344.1l2.0 2.5l-2.0 2.5l-2.0 -2.5zM660.9 342.8l2.0 2.5l-2.0 2.5l-2.0 -2.5zM666.2 345.5l2.0 2.5l-2.0 2.5l-2.0 -2.5zM670.3 344.1l2.0 2.5l-2.0 2.5l-2.0 -2.5zM675.6 345.5l2.0 2.5l-2.0 2.5l-2.0 -2.5zM651.5 349.5l2.0 2.5l-2.0 2.5l-2.0 -2.5zM660.9 348.8l2.0 2.5l-2.0 2.5l-2.0 -2.5zM635.3 298.6l2.0 2.5l-2.0 2.5l-2.0 -2.5zM634.2 327.1l2.0 2.5l-2.0 2.5l-2.0 -2.5zM637.5 322.3l2.0 2.5l-2.0 2.5l-2.0 -2.5zM635.8 326l2.0 2.5l-2.0 2.5l-2.0 -2.5zM637.4 321.8l2.0 2.5l-2.0 2.5l-2.0 -2.5zM638 261.3l2.0 2.5l-2.0 2.5l-2.0 -2.5zM637.4 301.5l2.0 2.5l-2.0 2.5l-2.0 -2.5zM634.1 264.3l2.0 2.5l-2.0 2.5l-2.0 -2.5zM635.6 309.8l2.0 2.5l-2.0 2.5l-2.0 -2.5zM634.2 344.5l2.0 2.5l-2.0 2.5l-2.0 -2.5zM636 280.7l2.0 2.5l-2.0 2.5l-2.0 -2.5zM637.5 273.8l2.0 2.5l-2.0 2.5l-2.0 -2.5zM632.5 280.2l2.0 2.5l-2.0 2.5l-2.0 -2.5zM633.7 316l2.0 2.5l-2.0 2.5l-2.0 -2.5zM633.1 342.2l2.0 2.5l-2.0 2.5l-2.0 -2.5zM635.8 304.6l2.0 2.5l-2.0 2.5l-2.0 -2.5zM632.8 304.2l2.0 2.5l-2.0 2.5l-2.0 -2.5zM633.2 306.3l2.0 2.5l-2.0 2.5l-2.0 -2.5zM637.5 263l2.0 2.5l-2.0 2.5l-2.0 -2.5zM632.9 282.7l2.0 2.5l-2.0 2.5l-2.0 -2.5zM637.3 260.1l2.0 2.5l-2.0 2.5l-2.0 -2.5zM636.6 337l2.0 2.5l-2.0 2.5l-2.0 -2.5zM671 313.4l2.0 2.5l-2.0 2.5l-2.0 -2.5zM666.6 313.8l2.0 2.5l-2.0 2.5l-2.0 -2.5zM670.3 320.2l2.0 2.5l-2.0 2.5l-2.0 -2.5zM671.4 312.4l2.0 2.5l-2.0 2.5l-2.0 -2.5zM669.8 315.3l2.0 2.5l-2.0 2.5l-2.0 -2.5zM668.3 317.9l2.0 2.5l-2.0 2.5l-2.0 -2.5zM667.3 319.6l2.0 2.5l-2.0 2.5l-2.0 -2.5zM671.4 315.5l2.0 2.5l-2.0 2.5l-2.0 -2.5zM660.5 323.6l2.0 2.5l-2.0 2.5l-2.0 -2.5zM659.7 321.3l2.0 2.5l-2.0 2.5l-2.0 -2.5zM663.5 326.4l2.0 2.5l-2.0 2.5l-2.0 -2.5zM660.2 327.3l2.0 2.5l-2.0 2.5l-2.0 -2.5zM662.3 323.7l2.0 2.5l-2.0 2.5l-2.0 -2.5zM668.8 290.4l2.0 2.5l-2.0 2.5l-2.0 -2.5zM672.2 286.4l2.0 2.5l-2.0 2.5l-2.0 -2.5zM664.6 284l2.0 2.5l-2.0 2.5l-2.0 -2.5zM664.5 290.2l2.0 2.5l-2.0 2.5l-2.0 -2.5zM668 290.1l2.0 2.5l-2.0 2.5l-2.0 -2.5zM671.9 285.2l2.0 2.5l-2.0 2.5l-2.0 -2.5zM667.5 284.5l2.0 2.5l-2.0 2.5l-2.0 -2.5zM658.8 341.9l2.0 2.5l-2.0 2.5l-2.0 -2.5zM662.7 275.8l2.0 2.5l-2.0 2.5l-2.0 -2.5zM656.5 316.7l2.0 2.5l-2.0 2.5l-2.0 -2.5zM674.1 306.7l2.0 2.5l-2.0 2.5l-2.0 -2.5zM656.9 332.1l2.0 2.5l-2.0 2.5l-2.0 -2.5zM658.7 292.6l2.0 2.5l-2.0 2.5l-2.0 -2.5zM666.2 311.2l2.0 2.5l-2.0 2.5l-2.0 -2.5zM674.2 306.5l2.0 2.5l-2.0 2.5l-2.0 -2.5zM668.1 306.8l2.0 2.5l-2.0 2.5l-2.0 -2.5zM671.5 299.5l2.0 2.5l-2.0 2.5l-2.0 -2.5zM659.9 299.3l2.0 2.5l-2.0 2.5l-2.0 -2.5zM676 277.9l2.0 2.5l-2.0 2.5l-2.0 -2.5zM658.1 281.9l2.0 2.5l-2.0 2.5l-2.0 -2.5zM671.5 271.5l2.0 2.5l-2.0 2.5l-2.0 -2.5zM661.7 278l2.0 2.5l-2.0 2.5l-2.0 -2.5zM676 287.5l2.0 2.5l-2.0 2.5l-2.0 -2.5zM672 287l2.0 2.5l-2.0 2.5l-2.0 -2.5zM671.5 281l2.0 2.5l-2.0 2.5l-2.0 -2.5zM668 267.8l2.0 2.5l-2.0 2.5l-2.0 -2.5zM677.9 270.3l2.0 2.5l-2.0 2.5l-2.0 -2.5zM674.3 288.9l2.0 2.5l-2.0 2.5l-2.0 -2.5zM673 284.7l2.0 2.5l-2.0 2.5l-2.0 -2.5zM669 277.2l2.0 2.5l-2.0 2.5l-2.0 -2.5zM631.4 258.2l2.0 2.5l-2.0 2.5l-2.0 -2.5zM634.4 263.9l2.0 2.5l-2.0 2.5l-2.0 -2.5zM631.5 272.1l2.0 2.5l-2.0 2.5l-2.0 -2.5zM635.7 273.8l2.0 2.5l-2.0 2.5l-2.0 -2.5zM631.9 282.7l2.0 2.5l-2.0 2.5l-2.0 -2.5zM634.8 289.3l2.0 2.5l-2.0 2.5l-2.0 -2.5zM634.6 296.2l2.0 2.5l-2.0 2.5l-2.0 -2.5zM633 300l2.0 2.5l-2.0 2.5l-2.0 -2.5zM634 259.9l2.0 2.5l-2.0 2.5l-2.0 -2.5zM634.7 264.9l2.0 2.5l-2.0 2.5l-2.0 -2.5zM634.5 271.4l2.0 2.5l-2.0 2.5l-2.0 -2.5zM634.7 280.1l2.0 2.5l-2.0 2.5l-2.0 -2.5zM635.1 287.6l2.0 2.5l-2.0 2.5l-2.0 -2.5zM631.7 295.5l2.0 2.5l-2.0 2.5l-2.0 -2.5zM595.4 267.9l2.0 2.5l-2.0 2.5l-2.0 -2.5zM588.9 288.9l2.0 2.5l-2.0 2.5l-2.0 -2.5zM594.2 289.3l2.0 2.5l-2.0 2.5l-2.0 -2.5zM590 295.4l2.0 2.5l-2.0 2.5l-2.0 -2.5zM646.6 262.1l2.0 2.5l-2.0 2.5l-2.0 -2.5zM648.1 260.2l2.0 2.5l-2.0 2.5l-2.0 -2.5zM650.9 261.2l2.0 2.5l-2.0 2.5l-2.0 -2.5zM657.5 262.3l2.0 2.5l-2.0 2.5l-2.0 -2.5zM661.5 257.6l2.0 2.5l-2.0 2.5l-2.0 -2.5zM662.4 258.8l2.0 2.5l-2.0 2.5l-2.0 -2.5zM674.8 259l2.0 2.5l-2.0 2.5l-2.0 -2.5zM652.4 267.1l2.0 2.5l-2.0 2.5l-2.0 -2.5zM663.8 263.8l2.0 2.5l-2.0 2.5l-2.0 -2.5zM664.6 265.3l2.0 2.5l-2.0 2.5l-2.0 -2.5zM668.4 265.9l2.0 2.5l-2.0 2.5l-2.0 -2.5zM674.3 270.8l2.0 2.5l-2.0 2.5l-2.0 -2.5zM680.2 267.8l2.0 2.5l-2.0 2.5l-2.0 -2.5zM649.5 277.4l2.0 2.5l-2.0 2.5l-2.0 -2.5zM654.9 271.2l2.0 2.5l-2.0 2.5l-2.0 -2.5zM656.7 272.8l2.0 2.5l-2.0 2.5l-2.0 -2.5zM665.7 275.5l2.0 2.5l-2.0 2.5l-2.0 -2.5zM670.3 271.7l2.0 2.5l-2.0 2.5l-2.0 -2.5zM677.3 275.1l2.0 2.5l-2.0 2.5l-2.0 -2.5zM651.8 284.8l2.0 2.5l-2.0 2.5l-2.0 -2.5zM657.2 284.2l2.0 2.5l-2.0 2.5l-2.0 -2.5zM663 280.8l2.0 2.5l-2.0 2.5l-2.0 -2.5zM670.8 282.2l2.0 2.5l-2.0 2.5l-2.0 -2.5zM678.9 282.2l2.0 2.5l-2.0 2.5l-2.0 -2.5zM663.3 289.3l2.0 2.5l-2.0 2.5l-2.0 -2.5zM668.3 286l2.0 2.5l-2.0 2.5l-2.0 -2.5zM676.6 285.6l2.0 2.5l-2.0 2.5l-2.0 -2.5zM645.6 292.6l2.0 2.5l-2.0 2.5l-2.0 -2.5zM650 293.9l2.0 2.5l-2.0 2.5l-2.0 -2.5zM640.8 297l2.0 2.5l-2.0 2.5l-2.0 -2.5zM653.3 291.4l2.0 2.5l-2.0 2.5l-2.0 -2.5zM661.2 293.4l2.0 2.5l-2.0 2.5l-2.0 -2.5zM664.4 294.9l2.0 2.5l-2.0 2.5l-2.0 -2.5zM668.7 294.2l2.0 2.5l-2.0 2.5l-2.0 -2.5zM679.3 296.1l2.0 2.5l-2.0 2.5l-2.0 -2.5zM645 302.9l2.0 2.5l-2.0 2.5l-2.0 -2.5zM648 299.4l2.0 2.5l-2.0 2.5l-2.0 -2.5zM653.6 299.3l2.0 2.5l-2.0 2.5l-2.0 -2.5zM657.9 301.5l2.0 2.5l-2.0 2.5l-2.0 -2.5zM663.8 301.4l2.0 2.5l-2.0 2.5l-2.0 -2.5zM669 299.3l2.0 2.5l-2.0 2.5l-2.0 -2.5zM675.5 298.3l2.0 2.5l-2.0 2.5l-2.0 -2.5zM633.8 305.3l2.0 2.5l-2.0 2.5l-2.0 -2.5zM631.4 307.8l2.0 2.5l-2.0 2.5l-2.0 -2.5zM632.8 311.4l2.0 2.5l-2.0 2.5l-2.0 -2.5zM635.4 321.3l2.0 2.5l-2.0 2.5l-2.0 -2.5zM637.7 323.6l2.0 2.5l-2.0 2.5l-2.0 -2.5zM630.9 326.1l2.0 2.5l-2.0 2.5l-2.0 -2.5zM633.2 340.9l2.0 2.5l-2.0 2.5l-2.0 -2.5zM633.2 345.1l2.0 2.5l-2.0 2.5l-2.0 -2.5zM631.3 347.5l2.0 2.5l-2.0 2.5l-2.0 -2.5zM633.6 332.8l2.0 2.5l-2.0 2.5l-2.0 -2.5zM632.8 338.6l2.0 2.5l-2.0 2.5l-2.0 -2.5zM634 318.6l2.0 2.5l-2.0 2.5l-2.0 -2.5zM608.3 306.7l2.0 2.5l-2.0 2.5l-2.0 -2.5zM636.2 305.6l2.0 2.5l-2.0 2.5l-2.0 -2.5zM642.5 308.4l2.0 2.5l-2.0 2.5l-2.0 -2.5zM644.9 302.4l2.0 2.5l-2.0 2.5l-2.0 -2.5zM649.3 304.8l2.0 2.5l-2.0 2.5l-2.0 -2.5zM652.3 305.5l2.0 2.5l-2.0 2.5l-2.0 -2.5zM659.6 301.9l2.0 2.5l-2.0 2.5l-2.0 -2.5zM665.6 303.4l2.0 2.5l-2.0 2.5l-2.0 -2.5zM668.1 307.6l2.0 2.5l-2.0 2.5l-2.0 -2.5zM643.5 313.4l2.0 2.5l-2.0 2.5l-2.0 -2.5zM649.8 309l2.0 2.5l-2.0 2.5l-2.0 -2.5zM650 314.4l2.0 2.5l-2.0 2.5l-2.0 -2.5zM646.5 317.8l2.0 2.5l-2.0 2.5l-2.0 -2.5zM655.6 316l2.0 2.5l-2.0 2.5l-2.0 -2.5zM664.5 314.1l2.0 2.5l-2.0 2.5l-2.0 -2.5zM669.9 313l2.0 2.5l-2.0 2.5l-2.0 -2.5zM672.4 315.1l2.0 2.5l-2.0 2.5l-2.0 -2.5zM677.5 316.1l2.0 2.5l-2.0 2.5l-2.0 -2.5zM639.6 319.5l2.0 2.5l-2.0 2.5l-2.0 -2.5zM644.9 322.8l2.0 2.5l-2.0 2.5l-2.0 -2.5zM653.2 320.6l2.0 2.5l-2.0 2.5l-2.0 -2.5zM663.3 319.7l2.0 2.5l-2.0 2.5l-2.0 -2.5zM667 323l2.0 2.5l-2.0 2.5l-2.0 -2.5zM669.6 321.7l2.0 2.5l-2.0 2.5l-2.0 -2.5zM641.6 327.5l2.0 2.5l-2.0 2.5l-2.0 -2.5zM646.1 328l2.0 2.5l-2.0 2.5l-2.0 -2.5zM655.9 331.5l2.0 2.5l-2.0 2.5l-2.0 -2.5zM664.1 328.4l2.0 2.5l-2.0 2.5l-2.0 -2.5zM668 326l2.0 2.5l-2.0 2.5l-2.0 -2.5zM673.1 334.8l2.0 2.5l-2.0 2.5l-2.0 -2.5zM645.1 340.4l2.0 2.5l-2.0 2.5l-2.0 -2.5zM648.8 334.8l2.0 2.5l-2.0 2.5l-2.0 -2.5zM656 337.1l2.0 2.5l-2.0 2.5l-2.0 -2.5zM659.8 341.1l2.0 2.5l-2.0 2.5l-2.0 -2.5zM662.3 340.2l2.0 2.5l-2.0 2.5l-2.0 -2.5zM669.8 336.8l2.0 2.5l-2.0 2.5l-2.0 -2.5zM657.8 333.1l2.0 2.5l-2.0 2.5l-2.0 -2.5zM646.6 345l2.0 2.5l-2.0 2.5l-2.0 -2.5zM648.5 345.8l2.0 2.5l-2.0 2.5l-2.0 -2.5zM656 343.7l2.0 2.5l-2.0 2.5l-2.0 -2.5zM659.3 341.8l2.0 2.5l-2.0 2.5l-2.0 -2.5zM668.4 344.1l2.0 2.5l-2.0 2.5l-2.0 -2.5zM652.7 350.9l2.0 2.5l-2.0 2.5l-2.0 -2.5zM661.7 347.1l2.0 2.5l-2.0 2.5l-2.0 -2.5zM634.7 328.9l2.0 2.5l-2.0 2.5l-2.0 -2.5zM636 323.4l2.0 2.5l-2.0 2.5l-2.0 -2.5zM634.3 324.9l2.0 2.5l-2.0 2.5l-2.0 -2.5zM636.7 320l2.0 2.5l-2.0 2.5l-2.0 -2.5zM639.9 261.2l2.0 2.5l-2.0 2.5l-2.0 -2.5zM634.8 262.5l2.0 2.5l-2.0 2.5l-2.0 -2.5zM634.8 342.7l2.0 2.5l-2.0 2.5l-2.0 -2.5zM634.4 281.7l2.0 2.5l-2.0 2.5l-2.0 -2.5zM630.6 280l2.0 2.5l-2.0 2.5l-2.0 -2.5zM631.5 343.3l2.0 2.5l-2.0 2.5l-2.0 -2.5zM631 303.9l2.0 2.5l-2.0 2.5l-2.0 -2.5zM634.1 307.9l2.0 2.5l-2.0 2.5l-2.0 -2.5zM638.8 261.6l2.0 2.5l-2.0 2.5l-2.0 -2.5zM634.8 282.5l2.0 2.5l-2.0 2.5l-2.0 -2.5zM639.1 259.9l2.0 2.5l-2.0 2.5l-2.0 -2.5zM634.7 336.9l2.0 2.5l-2.0 2.5l-2.0 -2.5zM664.9 312.9l2.0 2.5l-2.0 2.5l-2.0 -2.5zM670.2 318.3l2.0 2.5l-2.0 2.5l-2.0 -2.5zM673.1 313.3l2.0 2.5l-2.0 2.5l-2.0 -2.5zM668.4 318.1l2.0 2.5l-2.0 2.5l-2.0 -2.5zM670.9 317.3l2.0 2.5l-2.0 2.5l-2.0 -2.5zM658.2 320.1l2.0 2.5l-2.0 2.5l-2.0 -2.5zM664.4 324.8l2.0 2.5l-2.0 2.5l-2.0 -2.5zM662.2 321.8l2.0 2.5l-2.0 2.5l-2.0 -2.5zM666.9 290.2l2.0 2.5l-2.0 2.5l-2.0 -2.5zM673.5 285l2.0 2.5l-2.0 2.5l-2.0 -2.5zM663.7 282.3l2.0 2.5l-2.0 2.5l-2.0 -2.5zM662.6 290.7l2.0 2.5l-2.0 2.5l-2.0 -2.5zM673.1 283.7l2.0 2.5l-2.0 2.5l-2.0 -2.5zM669.3 284.1l2.0 2.5l-2.0 2.5l-2.0 -2.5zM657.6 343.4l2.0 2.5l-2.0 2.5l-2.0 -2.5zM657.4 330.2l2.0 2.5l-2.0 2.5l-2.0 -2.5zM659.6 290.9l2.0 2.5l-2.0 2.5l-2.0 -2.5zM674 308.4l2.0 2.5l-2.0 2.5l-2.0 -2.5zM672.3 297.8l2.0 2.5l-2.0 2.5l-2.0 -2.5zM659 300.9l2.0 2.5l-2.0 2.5l-2.0 -2.5zM676.1 276l2.0 2.5l-2.0 2.5l-2.0 -2.5zM658.9 280.1l2.0 2.5l-2.0 2.5l-2.0 -2.5zM670.5 273.1l2.0 2.5l-2.0 2.5l-2.0 -2.5zM661.5 279.9l2.0 2.5l-2.0 2.5l-2.0 -2.5zM674.1 287.1l2.0 2.5l-2.0 2.5l-2.0 -2.5zM672.7 282.5l2.0 2.5l-2.0 2.5l-2.0 -2.5zM676 289.8l2.0 2.5l-2.0 2.5l-2.0 -2.5zM673.5 286.5l2.0 2.5l-2.0 2.5l-2.0 -2.5zM667.3 277.9l2.0 2.5l-2.0 2.5l-2.0 -2.5z"/>
<path d="M41.5 261.5 L41.5 352.5 L132.8 352.5" fill="none" stroke="#808080" stroke-width="1"/>
<path d="M64.33 352.5 v-1.6 M87.15 352.5 v-1.6 M109.97 352.5 v-1.6 M41.5 285 h1.6 M41.5 307.6 h1.6 M41.5 330.2 h1.6 " stroke="#555" stroke-width="0.8" fill="none"/>
<text transform="translate(64.33 368.3) scale(0.94 1)" font-size="12.3" text-anchor="middle" fill="#262626">-20</text>
<text transform="translate(87.15 368.3) scale(0.94 1)" font-size="12.3" text-anchor="middle" fill="#262626">0</text>
<text transform="translate(109.97 368.3) scale(0.94 1)" font-size="12.3" text-anchor="middle" fill="#262626">20</text>
<text transform="translate(37.2 289.37) scale(0.94 1)" font-size="12.3" text-anchor="end" fill="#262626">20</text>
<text transform="translate(37.2 311.97) scale(0.94 1)" font-size="12.3" text-anchor="end" fill="#262626">0</text>
<text transform="translate(37.2 334.57) scale(0.94 1)" font-size="12.3" text-anchor="end" fill="#262626">-20</text>
<path d="M223.5 261.5 L223.5 352.5 L314.8 352.5" fill="none" stroke="#808080" stroke-width="1"/>
<path d="M246.32 352.5 v-1.6 M269.15 352.5 v-1.6 M291.98 352.5 v-1.6 M223.5 285 h1.6 M223.5 307.6 h1.6 M223.5 330.2 h1.6 " stroke="#555" stroke-width="0.8" fill="none"/>
<text transform="translate(246.32 368.3) scale(0.94 1)" font-size="12.3" text-anchor="middle" fill="#262626">-20</text>
<text transform="translate(269.15 368.3) scale(0.94 1)" font-size="12.3" text-anchor="middle" fill="#262626">0</text>
<text transform="translate(291.98 368.3) scale(0.94 1)" font-size="12.3" text-anchor="middle" fill="#262626">20</text>
<text transform="translate(219.2 289.37) scale(0.94 1)" font-size="12.3" text-anchor="end" fill="#262626">20</text>
<text transform="translate(219.2 311.97) scale(0.94 1)" font-size="12.3" text-anchor="end" fill="#262626">0</text>
<text transform="translate(219.2 334.57) scale(0.94 1)" font-size="12.3" text-anchor="end" fill="#262626">-20</text>
<path d="M405.5 261.5 L405.5 352.5 L496.8 352.5" fill="none" stroke="#808080" stroke-width="1"/>
<path d="M428.32 352.5 v-1.6 M451.15 352.5 v-1.6 M473.98 352.5 v-1.6 M405.5 285 h1.6 M405.5 307.6 h1.6 M405.5 330.2 h1.6 " stroke="#555" stroke-width="0.8" fill="none"/>
<text transform="translate(428.32 368.3) scale(0.94 1)" font-size="12.3" text-anchor="middle" fill="#262626">-20</text>
<text transform="translate(451.15 368.3) scale(0.94 1)" font-size="12.3" text-anchor="middle" fill="#262626">0</text>
<text transform="translate(473.98 368.3) scale(0.94 1)" font-size="12.3" text-anchor="middle" fill="#262626">20</text>
<text transform="translate(401.2 289.37) scale(0.94 1)" font-size="12.3" text-anchor="end" fill="#262626">20</text>
<text transform="translate(401.2 311.97) scale(0.94 1)" font-size="12.3" text-anchor="end" fill="#262626">0</text>
<text transform="translate(401.2 334.57) scale(0.94 1)" font-size="12.3" text-anchor="end" fill="#262626">-20</text>
<path d="M587.5 261.5 L587.5 352.5 L678.8 352.5" fill="none" stroke="#808080" stroke-width="1"/>
<path d="M610.33 352.5 v-1.6 M633.15 352.5 v-1.6 M655.98 352.5 v-1.6 M587.5 285 h1.6 M587.5 307.6 h1.6 M587.5 330.2 h1.6 " stroke="#555" stroke-width="0.8" fill="none"/>
<text transform="translate(610.33 368.3) scale(0.94 1)" font-size="12.3" text-anchor="middle" fill="#262626">-20</text>
<text transform="translate(633.15 368.3) scale(0.94 1)" font-size="12.3" text-anchor="middle" fill="#262626">0</text>
<text transform="translate(655.98 368.3) scale(0.94 1)" font-size="12.3" text-anchor="middle" fill="#262626">20</text>
<text transform="translate(583.2 289.37) scale(0.94 1)" font-size="12.3" text-anchor="end" fill="#262626">20</text>
<text transform="translate(583.2 311.97) scale(0.94 1)" font-size="12.3" text-anchor="end" fill="#262626">0</text>
<text transform="translate(583.2 334.57) scale(0.94 1)" font-size="12.3" text-anchor="end" fill="#262626">-20</text>
<path d="M616 303.2 H598.2 M602.4 299 L597.9 303.2 L602.4 307.4" fill="none" stroke="#000" stroke-width="2.1"/>
<text x="50.8" y="11.25" font-size="13.8" text-anchor="start" fill="#111" font-family="Liberation Sans" textLength="72.5" lengthAdjust="spacingAndGlyphs">Containment</text>
<text x="239.8" y="9.9" font-size="13.8" text-anchor="start" fill="#111" font-family="Liberation Sans" textLength="52.6" lengthAdjust="spacingAndGlyphs">Expulsion</text>
<text x="403.8" y="9.75" font-size="13.8" text-anchor="start" fill="#111" font-family="Liberation Sans" textLength="84.4" lengthAdjust="spacingAndGlyphs">Static patterns</text>
<text x="574.8" y="9.7" font-size="13.8" text-anchor="start" fill="#111" font-family="Liberation Sans" textLength="103.9" lengthAdjust="spacingAndGlyphs">Travelling patterns</text>
<text x="-1.12" y="30.03" font-size="14.0" text-anchor="start" fill="#111" font-family="Liberation Sans" textLength="17.54" lengthAdjust="spacingAndGlyphs">(a)</text>
<text x="184.48" y="30.73" font-size="14.0" text-anchor="start" fill="#111" font-family="Liberation Sans" textLength="18.64" lengthAdjust="spacingAndGlyphs">(b)</text>
<text x="364.38" y="30.93" font-size="14.0" text-anchor="start" fill="#111" font-family="Liberation Sans" textLength="18.14" lengthAdjust="spacingAndGlyphs">(c)</text>
<text x="549.98" y="30.93" font-size="14.0" text-anchor="start" fill="#111" font-family="Liberation Sans" textLength="19.24" lengthAdjust="spacingAndGlyphs">(d)</text>
<text x="-1.12" y="156.13" font-size="14.0" text-anchor="start" fill="#111" font-family="Liberation Sans" textLength="16.74" lengthAdjust="spacingAndGlyphs">(e)</text>
<text x="184.28" y="157.23" font-size="14.0" text-anchor="start" fill="#111" font-family="Liberation Sans" textLength="17.54" lengthAdjust="spacingAndGlyphs">(f)</text>
<text x="550.58" y="156.33" font-size="14.0" text-anchor="start" fill="#111" font-family="Liberation Sans" textLength="18.14" lengthAdjust="spacingAndGlyphs">(h)</text>
<text x="0.28" y="275.73" font-size="14.0" text-anchor="start" fill="#111" font-family="Liberation Sans" textLength="14.64" lengthAdjust="spacingAndGlyphs">(i)</text>
<text x="184.88" y="276.03" font-size="14.0" text-anchor="start" fill="#111" font-family="Liberation Sans" textLength="16.94" lengthAdjust="spacingAndGlyphs">(j)</text>
<text x="364.08" y="276.03" font-size="14.0" text-anchor="start" fill="#111" font-family="Liberation Sans" textLength="18.34" lengthAdjust="spacingAndGlyphs">(k)</text>
<text x="552.08" y="276.03" font-size="14.0" text-anchor="start" fill="#111" font-family="Liberation Sans" textLength="14.94" lengthAdjust="spacingAndGlyphs">(l)</text>
<text x="364.5" y="156.5" font-size="16" text-anchor="start" fill="#111" font-family="Liberation Serif" textLength="17.7" lengthAdjust="spacingAndGlyphs">(g)</text>
<g transform="translate(0 78.1) rotate(-90)" font-family="Liberation Sans">
<text x="-0.2" y="16.8" font-size="12" fill="#111" textLength="5.6" lengthAdjust="spacingAndGlyphs">v</text>
<text x="6.2" y="18.1" font-size="8.4" font-family="Liberation Serif" fill="#111" textLength="3.2" lengthAdjust="spacingAndGlyphs">1</text>
</g>
<g transform="translate(0 233.5) rotate(-90)" font-family="Liberation Sans">
<text x="0.27" y="17.6" font-size="11" font-style="italic" fill="#111" textLength="6.11" lengthAdjust="spacingAndGlyphs">ρ</text>
<text x="6.4" y="12.9" font-size="8.3" fill="#111" textLength="5.21" lengthAdjust="spacingAndGlyphs">T</text>
<text x="20.08" y="17.6" font-size="11" font-style="italic" fill="#111" textLength="6.49" lengthAdjust="spacingAndGlyphs">ρ</text>
<text x="27.6" y="20.1" font-size="8" fill="#111" textLength="3.41" lengthAdjust="spacingAndGlyphs">0</text>
<text x="36" y="17.6" font-size="11" fill="#111" textLength="1.59" lengthAdjust="spacingAndGlyphs">,</text>
<text x="38.75" y="17.6" font-size="11" font-style="italic" fill="#111" textLength="5.73" lengthAdjust="spacingAndGlyphs">ρ</text>
<text x="45.9" y="12.8" font-size="8.3" fill="#111" textLength="4.11" lengthAdjust="spacingAndGlyphs">H</text>
<text x="59.14" y="17.6" font-size="11" font-style="italic" fill="#111" textLength="5.44" lengthAdjust="spacingAndGlyphs">ρ</text>
<text x="65.7" y="20.1" font-size="8" fill="#111" textLength="2.71" lengthAdjust="spacingAndGlyphs">0</text>
</g>
<g transform="translate(0 315.3) rotate(-90)" font-family="Liberation Sans">
<text x="0" y="18.2" font-size="12" fill="#111" textLength="5.8" lengthAdjust="spacingAndGlyphs">y</text>
<text x="13" y="18.2" font-size="11.5" font-style="italic" fill="#111" textLength="6.27" lengthAdjust="spacingAndGlyphs">σ</text>
</g>
<path d="M8.8 215.2 L20.8 219.6 M8.8 176.2 L20.8 180.6 M8.4 303.2 L20.4 308.2" stroke="#1a1a1a" stroke-width="1"/>
<g font-family="Liberation Sans">
<text x="77.4" y="387.6" font-size="11" fill="#111" textLength="5.4" lengthAdjust="spacingAndGlyphs">x</text>
<path d="M84.3 390.8 L88.3 378.8" stroke="#1a1a1a" stroke-width="1"/>
<text x="89.9" y="387.6" font-size="11" font-style="italic" fill="#111" textLength="6.27" lengthAdjust="spacingAndGlyphs">σ</text>
</g>
<g font-family="Liberation Sans">
<text x="259.4" y="387.6" font-size="11" fill="#111" textLength="5.4" lengthAdjust="spacingAndGlyphs">x</text>
<path d="M266.3 390.8 L270.3 378.8" stroke="#1a1a1a" stroke-width="1"/>
<text x="271.9" y="387.6" font-size="11" font-style="italic" fill="#111" textLength="6.27" lengthAdjust="spacingAndGlyphs">σ</text>
</g>
<g font-family="Liberation Sans">
<text x="441.4" y="387.6" font-size="11" fill="#111" textLength="5.4" lengthAdjust="spacingAndGlyphs">x</text>
<path d="M448.3 390.8 L452.3 378.8" stroke="#1a1a1a" stroke-width="1"/>
<text x="453.9" y="387.6" font-size="11" font-style="italic" fill="#111" textLength="6.27" lengthAdjust="spacingAndGlyphs">σ</text>
</g>
<g font-family="Liberation Sans">
<text x="623.4" y="387.6" font-size="11" fill="#111" textLength="5.4" lengthAdjust="spacingAndGlyphs">x</text>
<path d="M630.3 390.8 L634.3 378.8" stroke="#1a1a1a" stroke-width="1"/>
<text x="635.9" y="387.6" font-size="11" font-style="italic" fill="#111" textLength="6.27" lengthAdjust="spacingAndGlyphs">σ</text>
</g>
</svg>
</body></html>
